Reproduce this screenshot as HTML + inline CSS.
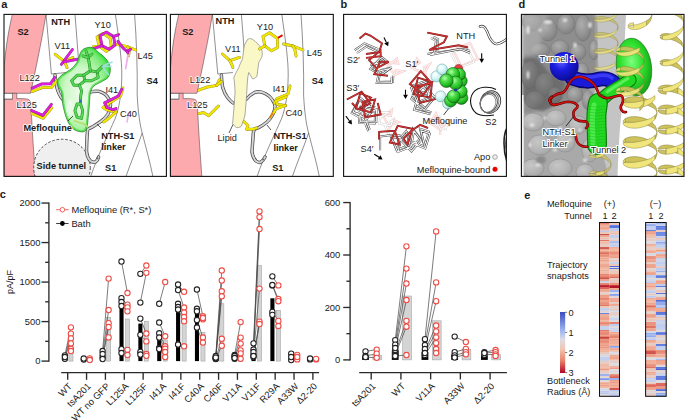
<!DOCTYPE html>
<html><head><meta charset="utf-8"><style>
html,body{margin:0;padding:0;background:#fff;width:685px;height:420px;overflow:hidden}
svg{display:block}
svg text{font-family:"Liberation Sans", sans-serif;fill:#1a1a1a}
</style></head><body>
<svg width="685" height="420" viewBox="0 0 685 420">
<rect width="685" height="420" fill="#fff"/>
<defs><clipPath id="ca1"><rect x="4" y="14.4" width="162.4" height="162"/></clipPath><clipPath id="ca2"><rect x="170.4" y="14.4" width="162.9" height="162"/></clipPath></defs>
<g clip-path="url(#ca1)">
<g transform="translate(0,0)">
<path d="M12.4 14.4 L46 14.4 C41 45, 35 72, 30.6 93.3 L4 93.3 L4 68 C6 45, 9 28, 12.4 14.4 Z" fill="#fdaaae" stroke="#333" stroke-width="0.5"/>
<path d="M4 99.2 L12.5 99.2 L12.5 93.3 L16.8 93.3 L16.8 98.6 C22 98.6, 27 98.6, 28.7 99.6 C30.6 100.8, 31 103, 31.1 106 C32 130, 34 155, 35.4 176.4 L4 176.4 Z" fill="#fdaaae" stroke="#333" stroke-width="0.5"/>
<path d="M4 93.3 L12.5 93.3 M4 99.2 L12.5 99.2" stroke="#555" stroke-width="0.5"/>
<path d="M46 14.4 L51.4 74 L66.5 72.5" fill="none" stroke="#333" stroke-width="0.55"/>
<path d="M75 14.4 L78.3 57" fill="none" stroke="#333" stroke-width="0.55"/>
<path d="M115.4 14.4 C119 40, 122 60, 121.8 76 C121.5 95, 119 108, 115.4 118 C108 135, 98 155, 90.7 176.4" fill="none" stroke="#333" stroke-width="0.55"/>
<path d="M134.6 14.4 C136.5 40, 137.6 70, 137.2 95 C138 112, 140 125, 142.2 133 C146 148, 150 162, 152.9 176.4" fill="none" stroke="#333" stroke-width="0.55"/>
<path d="M142.2 133 C137 148, 131 162, 126 176.4" fill="none" stroke="#333" stroke-width="0.55"/>
<circle cx="62" cy="167.5" r="28.3" fill="#efefef" stroke="#222" stroke-width="0.8" stroke-dasharray="2.6,1.8"/>
</g>
<g transform="translate(0,0)">
<path d="M55 75 C55.5 82, 57 92, 61.3 97.7 C63 100, 65 101.8, 67 103" fill="none" stroke="#4a4a4a" stroke-width="3.4" stroke-linecap="round" stroke-linejoin="round"/><path d="M55 75 C55.5 82, 57 92, 61.3 97.7 C63 100, 65 101.8, 67 103" fill="none" stroke="#d6d6d6" stroke-width="1.9" stroke-linecap="round" stroke-linejoin="round"/>
<path d="M80.2 99 C82.5 96, 85 93.5, 87.8 92.7 C91.5 91.5, 95.5 91, 99.1 91.4 C103 92.5, 106.5 95, 108 97.7 C110 100.5, 110.8 103, 110.5 105.3 C110.3 108.5, 109.3 111.5, 108 114.1 C106 117, 103 120, 100.4 121.7 C97.5 123.8, 95 125.5, 92.8 126.7 C90.8 127.8, 89 128.5, 87.8 129.2 C87 132, 86.8 140, 86.5 150.7 C86.8 155, 88 158.5, 90.3 160.7 C92 162.2, 94 162.5, 95.4 162 C97 161, 98 159.5, 98.6 157" fill="none" stroke="#4a4a4a" stroke-width="3.4" stroke-linecap="round" stroke-linejoin="round"/><path d="M80.2 99 C82.5 96, 85 93.5, 87.8 92.7 C91.5 91.5, 95.5 91, 99.1 91.4 C103 92.5, 106.5 95, 108 97.7 C110 100.5, 110.8 103, 110.5 105.3 C110.3 108.5, 109.3 111.5, 108 114.1 C106 117, 103 120, 100.4 121.7 C97.5 123.8, 95 125.5, 92.8 126.7 C90.8 127.8, 89 128.5, 87.8 129.2 C87 132, 86.8 140, 86.5 150.7 C86.8 155, 88 158.5, 90.3 160.7 C92 162.2, 94 162.5, 95.4 162 C97 161, 98 159.5, 98.6 157" fill="none" stroke="#d6d6d6" stroke-width="1.9" stroke-linecap="round" stroke-linejoin="round"/>
<circle cx="97.4" cy="158.3" r="1" fill="#666"/>
</g>
<g transform="translate(0,0)">
<polyline points="55.2,54.3 64.3,61.4 72.9,57.6" fill="none" stroke="#7a6f00" stroke-width="2.9000000000000004" stroke-linecap="round" stroke-linejoin="round" stroke-opacity="0.8"/><polyline points="55.2,54.3 64.3,61.4 72.9,57.6" fill="none" stroke="#f2e600" stroke-width="2.2" stroke-linecap="round" stroke-linejoin="round"/>
<polyline points="64.3,61.4 67.1,67.6" fill="none" stroke="#7a6f00" stroke-width="2.9000000000000004" stroke-linecap="round" stroke-linejoin="round" stroke-opacity="0.8"/><polyline points="64.3,61.4 67.1,67.6" fill="none" stroke="#f2e600" stroke-width="2.2" stroke-linecap="round" stroke-linejoin="round"/>
<polyline points="97.1,37.1 102.9,33.6 110.0,37.9 111.4,46.4 106.4,51.4 99.3,46.4 97.1,37.1" fill="none" stroke="#7a6f00" stroke-width="2.9000000000000004" stroke-linecap="round" stroke-linejoin="round" stroke-opacity="0.8"/><polyline points="97.1,37.1 102.9,33.6 110.0,37.9 111.4,46.4 106.4,51.4 99.3,46.4 97.1,37.1" fill="none" stroke="#f2e600" stroke-width="2.2" stroke-linecap="round" stroke-linejoin="round"/>
<polyline points="99.3,46.4 93.6,46.4" fill="none" stroke="#7a6f00" stroke-width="2.9000000000000004" stroke-linecap="round" stroke-linejoin="round" stroke-opacity="0.8"/><polyline points="99.3,46.4 93.6,46.4" fill="none" stroke="#f2e600" stroke-width="2.2" stroke-linecap="round" stroke-linejoin="round"/>
<polyline points="116.4,44.3 126.4,46.4 135.7,50.0" fill="none" stroke="#7a6f00" stroke-width="2.9000000000000004" stroke-linecap="round" stroke-linejoin="round" stroke-opacity="0.8"/><polyline points="116.4,44.3 126.4,46.4 135.7,50.0" fill="none" stroke="#f2e600" stroke-width="2.2" stroke-linecap="round" stroke-linejoin="round"/>
<polyline points="127.9,47.1 129.3,50.7 128.6,55.7" fill="none" stroke="#7a6f00" stroke-width="2.9000000000000004" stroke-linecap="round" stroke-linejoin="round" stroke-opacity="0.8"/><polyline points="127.9,47.1 129.3,50.7 128.6,55.7" fill="none" stroke="#f2e600" stroke-width="2.2" stroke-linecap="round" stroke-linejoin="round"/>
<polyline points="32.1,91.6 42.9,87.3 51.4,87.6 56.8,80.7" fill="none" stroke="#7a6f00" stroke-width="2.9000000000000004" stroke-linecap="round" stroke-linejoin="round" stroke-opacity="0.8"/><polyline points="32.1,91.6 42.9,87.3 51.4,87.6 56.8,80.7" fill="none" stroke="#f2e600" stroke-width="2.2" stroke-linecap="round" stroke-linejoin="round"/>
<polyline points="31.7,113.4 43.0,118.2 51.8,107.8" fill="none" stroke="#7a6f00" stroke-width="2.9000000000000004" stroke-linecap="round" stroke-linejoin="round" stroke-opacity="0.8"/><polyline points="31.7,113.4 43.0,118.2 51.8,107.8" fill="none" stroke="#f2e600" stroke-width="2.2" stroke-linecap="round" stroke-linejoin="round"/>
<polyline points="122.9,88.0 120.6,96.0 111.5,101.7 103.0,107.5 106.9,110.0 116.0,112.0" fill="none" stroke="#7a6f00" stroke-width="2.9000000000000004" stroke-linecap="round" stroke-linejoin="round" stroke-opacity="0.8"/><polyline points="122.9,88.0 120.6,96.0 111.5,101.7 103.0,107.5 106.9,110.0 116.0,112.0" fill="none" stroke="#f2e600" stroke-width="2.2" stroke-linecap="round" stroke-linejoin="round"/>
<polyline points="116.0,112.0 108.0,119.0 103.5,122.0" fill="none" stroke="#7a6f00" stroke-width="2.9000000000000004" stroke-linecap="round" stroke-linejoin="round" stroke-opacity="0.8"/><polyline points="116.0,112.0 108.0,119.0 103.5,122.0" fill="none" stroke="#f2e600" stroke-width="2.2" stroke-linecap="round" stroke-linejoin="round"/>
</g>
<line x1="127.9" y1="55" x2="125.7" y2="68.6" stroke="#eeb0ee" stroke-width="1.8" stroke-linecap="round"/>
<line x1="117.9" y1="35" x2="119" y2="34.3" stroke="#e00" stroke-width="2" stroke-linecap="round"/>
<line x1="128.5" y1="113" x2="127" y2="122" stroke="#eeb0ee" stroke-width="1.6" stroke-linecap="round"/>
<polyline points="72.4,49.5 61.4,64.3" fill="none" stroke="#6a0a6a" stroke-width="2.9000000000000004" stroke-linecap="round" stroke-linejoin="round" stroke-opacity="0.8"/><polyline points="72.4,49.5 61.4,64.3" fill="none" stroke="#e01ee0" stroke-width="2.2" stroke-linecap="round" stroke-linejoin="round"/>
<polyline points="64.3,61.9 78.6,59.0" fill="none" stroke="#6a0a6a" stroke-width="2.9000000000000004" stroke-linecap="round" stroke-linejoin="round" stroke-opacity="0.8"/><polyline points="64.3,61.9 78.6,59.0" fill="none" stroke="#e01ee0" stroke-width="2.2" stroke-linecap="round" stroke-linejoin="round"/>
<polyline points="100.0,35.7 106.4,32.1 113.6,36.4 115.0,45.0 109.3,49.3 102.1,45.7 100.0,35.7" fill="none" stroke="#6a0a6a" stroke-width="2.9000000000000004" stroke-linecap="round" stroke-linejoin="round" stroke-opacity="0.8"/><polyline points="100.0,35.7 106.4,32.1 113.6,36.4 115.0,45.0 109.3,49.3 102.1,45.7 100.0,35.7" fill="none" stroke="#e01ee0" stroke-width="2.2" stroke-linecap="round" stroke-linejoin="round"/>
<polyline points="102.1,45.7 93.6,48.6" fill="none" stroke="#6a0a6a" stroke-width="2.9000000000000004" stroke-linecap="round" stroke-linejoin="round" stroke-opacity="0.8"/><polyline points="102.1,45.7 93.6,48.6" fill="none" stroke="#e01ee0" stroke-width="2.2" stroke-linecap="round" stroke-linejoin="round"/>
<polyline points="113.6,36.4 117.9,35.0" fill="none" stroke="#6a0a6a" stroke-width="2.9000000000000004" stroke-linecap="round" stroke-linejoin="round" stroke-opacity="0.8"/><polyline points="113.6,36.4 117.9,35.0" fill="none" stroke="#e01ee0" stroke-width="2.2" stroke-linecap="round" stroke-linejoin="round"/>
<polyline points="117.9,41.4 120.7,45.0 123.6,48.6 127.1,51.4 130.7,49.3" fill="none" stroke="#6a0a6a" stroke-width="2.9000000000000004" stroke-linecap="round" stroke-linejoin="round" stroke-opacity="0.8"/><polyline points="117.9,41.4 120.7,45.0 123.6,48.6 127.1,51.4 130.7,49.3" fill="none" stroke="#e01ee0" stroke-width="2.2" stroke-linecap="round" stroke-linejoin="round"/>
<polyline points="127.1,51.4 127.9,52.9" fill="none" stroke="#6a0a6a" stroke-width="2.9000000000000004" stroke-linecap="round" stroke-linejoin="round" stroke-opacity="0.8"/><polyline points="127.1,51.4 127.9,52.9" fill="none" stroke="#e01ee0" stroke-width="2.2" stroke-linecap="round" stroke-linejoin="round"/>
<polyline points="32.1,88.2 41.8,83.9 50.4,83.9 54.6,77.5" fill="none" stroke="#6a0a6a" stroke-width="2.9000000000000004" stroke-linecap="round" stroke-linejoin="round" stroke-opacity="0.8"/><polyline points="32.1,88.2 41.8,83.9 50.4,83.9 54.6,77.5" fill="none" stroke="#e01ee0" stroke-width="2.2" stroke-linecap="round" stroke-linejoin="round"/>
<polyline points="31.7,110.5 42.9,115.3 51.4,104.4" fill="none" stroke="#6a0a6a" stroke-width="2.9000000000000004" stroke-linecap="round" stroke-linejoin="round" stroke-opacity="0.8"/><polyline points="31.7,110.5 42.9,115.3 51.4,104.4" fill="none" stroke="#e01ee0" stroke-width="2.2" stroke-linecap="round" stroke-linejoin="round"/>
<polyline points="121.8,89.2 118.3,96.0 109.2,100.6 104.6,102.9 106.9,107.5 112.6,109.7 116.0,108.6" fill="none" stroke="#6a0a6a" stroke-width="2.9000000000000004" stroke-linecap="round" stroke-linejoin="round" stroke-opacity="0.8"/><polyline points="121.8,89.2 118.3,96.0 109.2,100.6 104.6,102.9 106.9,107.5 112.6,109.7 116.0,108.6" fill="none" stroke="#e01ee0" stroke-width="2.2" stroke-linecap="round" stroke-linejoin="round"/>
<defs><radialGradient id="gb" cx="0.45" cy="0.55" r="0.62"><stop offset="0" stop-color="#effcec"/><stop offset="0.5" stop-color="#c9f7c3"/><stop offset="0.8" stop-color="#82ec7a"/><stop offset="1" stop-color="#3ade3a"/></radialGradient><clipPath id="gbc"><path d="M82.7 49.7 C84.2 48.4, 86.4 47.8, 88.2 47.5 C90.0 47.2, 91.9 47.3, 93.7 48.2 C95.5 49.1, 97.5 51.5, 99.3 53.0 C101.1 54.5, 103.1 55.6, 104.8 57.5 C106.5 59.4, 108.3 61.9, 109.2 64.1 C110.1 66.3, 110.5 68.6, 110.3 70.8 C110.1 73.0, 109.6 75.6, 108.1 77.4 C106.6 79.2, 103.9 80.3, 101.5 81.8 C99.1 83.3, 95.5 84.4, 93.7 86.3 C91.9 88.2, 91.1 89.6, 90.4 92.9 C89.7 96.2, 89.7 102.1, 89.3 106.2 C88.9 110.3, 88.6 113.8, 88.2 117.3 C87.8 120.8, 87.8 124.8, 87.1 127.2 C86.4 129.6, 85.6 131.1, 83.8 131.7 C82.0 132.3, 78.2 131.5, 76.0 130.6 C73.8 129.7, 72.2 128.3, 70.5 126.1 C68.8 123.9, 67.4 121.0, 66.1 117.3 C64.8 113.6, 63.5 108.1, 62.7 104.0 C62.0 99.9, 62.3 95.9, 61.6 92.9 C60.9 90.0, 59.0 88.3, 58.3 86.3 C57.6 84.3, 56.7 82.5, 57.2 80.7 C57.8 78.9, 59.2 77.2, 61.6 75.2 C64.0 73.2, 69.0 70.8, 71.6 68.6 C74.2 66.4, 75.8 64.1, 77.1 61.9 C78.4 59.7, 78.5 57.3, 79.4 55.3 C80.3 53.3, 81.2 51.0, 82.7 49.7 Z"/></clipPath></defs>
<path d="M82.7 49.7 C84.2 48.4, 86.4 47.8, 88.2 47.5 C90.0 47.2, 91.9 47.3, 93.7 48.2 C95.5 49.1, 97.5 51.5, 99.3 53.0 C101.1 54.5, 103.1 55.6, 104.8 57.5 C106.5 59.4, 108.3 61.9, 109.2 64.1 C110.1 66.3, 110.5 68.6, 110.3 70.8 C110.1 73.0, 109.6 75.6, 108.1 77.4 C106.6 79.2, 103.9 80.3, 101.5 81.8 C99.1 83.3, 95.5 84.4, 93.7 86.3 C91.9 88.2, 91.1 89.6, 90.4 92.9 C89.7 96.2, 89.7 102.1, 89.3 106.2 C88.9 110.3, 88.6 113.8, 88.2 117.3 C87.8 120.8, 87.8 124.8, 87.1 127.2 C86.4 129.6, 85.6 131.1, 83.8 131.7 C82.0 132.3, 78.2 131.5, 76.0 130.6 C73.8 129.7, 72.2 128.3, 70.5 126.1 C68.8 123.9, 67.4 121.0, 66.1 117.3 C64.8 113.6, 63.5 108.1, 62.7 104.0 C62.0 99.9, 62.3 95.9, 61.6 92.9 C60.9 90.0, 59.0 88.3, 58.3 86.3 C57.6 84.3, 56.7 82.5, 57.2 80.7 C57.8 78.9, 59.2 77.2, 61.6 75.2 C64.0 73.2, 69.0 70.8, 71.6 68.6 C74.2 66.4, 75.8 64.1, 77.1 61.9 C78.4 59.7, 78.5 57.3, 79.4 55.3 C80.3 53.3, 81.2 51.0, 82.7 49.7 Z" fill="url(#gb)" fill-opacity="0.95"/>
<g clip-path="url(#gbc)"><path d="M82.7 49.7 C84.2 48.4, 86.4 47.8, 88.2 47.5 C90.0 47.2, 91.9 47.3, 93.7 48.2 C95.5 49.1, 97.5 51.5, 99.3 53.0 C101.1 54.5, 103.1 55.6, 104.8 57.5 C106.5 59.4, 108.3 61.9, 109.2 64.1 C110.1 66.3, 110.5 68.6, 110.3 70.8 C110.1 73.0, 109.6 75.6, 108.1 77.4 C106.6 79.2, 103.9 80.3, 101.5 81.8 C99.1 83.3, 95.5 84.4, 93.7 86.3 C91.9 88.2, 91.1 89.6, 90.4 92.9 C89.7 96.2, 89.7 102.1, 89.3 106.2 C88.9 110.3, 88.6 113.8, 88.2 117.3 C87.8 120.8, 87.8 124.8, 87.1 127.2 C86.4 129.6, 85.6 131.1, 83.8 131.7 C82.0 132.3, 78.2 131.5, 76.0 130.6 C73.8 129.7, 72.2 128.3, 70.5 126.1 C68.8 123.9, 67.4 121.0, 66.1 117.3 C64.8 113.6, 63.5 108.1, 62.7 104.0 C62.0 99.9, 62.3 95.9, 61.6 92.9 C60.9 90.0, 59.0 88.3, 58.3 86.3 C57.6 84.3, 56.7 82.5, 57.2 80.7 C57.8 78.9, 59.2 77.2, 61.6 75.2 C64.0 73.2, 69.0 70.8, 71.6 68.6 C74.2 66.4, 75.8 64.1, 77.1 61.9 C78.4 59.7, 78.5 57.3, 79.4 55.3 C80.3 53.3, 81.2 51.0, 82.7 49.7 Z" fill="none" stroke="#34dc34" stroke-width="3.6" stroke-opacity="0.7"/></g>
<ellipse cx="70" cy="108" rx="4" ry="9" fill="#fff" opacity="0.55" filter="url(#bl2)"/>
<path d="M82.7 49.7 C84.2 48.4, 86.4 47.8, 88.2 47.5 C90.0 47.2, 91.9 47.3, 93.7 48.2 C95.5 49.1, 97.5 51.5, 99.3 53.0 C101.1 54.5, 103.1 55.6, 104.8 57.5 C106.5 59.4, 108.3 61.9, 109.2 64.1 C110.1 66.3, 110.5 68.6, 110.3 70.8 C110.1 73.0, 109.6 75.6, 108.1 77.4 C106.6 79.2, 103.9 80.3, 101.5 81.8 C99.1 83.3, 95.5 84.4, 93.7 86.3 C91.9 88.2, 91.1 89.6, 90.4 92.9 C89.7 96.2, 89.7 102.1, 89.3 106.2 C88.9 110.3, 88.6 113.8, 88.2 117.3 C87.8 120.8, 87.8 124.8, 87.1 127.2 C86.4 129.6, 85.6 131.1, 83.8 131.7 C82.0 132.3, 78.2 131.5, 76.0 130.6 C73.8 129.7, 72.2 128.3, 70.5 126.1 C68.8 123.9, 67.4 121.0, 66.1 117.3 C64.8 113.6, 63.5 108.1, 62.7 104.0 C62.0 99.9, 62.3 95.9, 61.6 92.9 C60.9 90.0, 59.0 88.3, 58.3 86.3 C57.6 84.3, 56.7 82.5, 57.2 80.7 C57.8 78.9, 59.2 77.2, 61.6 75.2 C64.0 73.2, 69.0 70.8, 71.6 68.6 C74.2 66.4, 75.8 64.1, 77.1 61.9 C78.4 59.7, 78.5 57.3, 79.4 55.3 C80.3 53.3, 81.2 51.0, 82.7 49.7 Z" fill="none" stroke="#1f6e1f" stroke-width="0.6"/>
<polyline points="71.6,80.7 77.1,75.2 83.8,75.2 84.9,80.7 79.4,85.2 73.8,85.2 71.6,80.7" fill="none" stroke="#2a8a2a" stroke-width="2.9" stroke-linejoin="round" stroke-linecap="round"/>
<polyline points="71.6,80.7 77.1,75.2 83.8,75.2 84.9,80.7 79.4,85.2 73.8,85.2 71.6,80.7" fill="none" stroke="#52d852" stroke-width="1.9" stroke-linejoin="round" stroke-linecap="round"/>
<polyline points="83.8,75.2 90.4,70.8 97.1,71.9 98.2,77.4 91.5,80.7 84.9,80.7" fill="none" stroke="#2a8a2a" stroke-width="2.9" stroke-linejoin="round" stroke-linecap="round"/>
<polyline points="83.8,75.2 90.4,70.8 97.1,71.9 98.2,77.4 91.5,80.7 84.9,80.7" fill="none" stroke="#52d852" stroke-width="1.9" stroke-linejoin="round" stroke-linecap="round"/>
<polyline points="90.4,70.8 89.0,62.0 88.2,57.5" fill="none" stroke="#2a8a2a" stroke-width="2.9" stroke-linejoin="round" stroke-linecap="round"/>
<polyline points="90.4,70.8 89.0,62.0 88.2,57.5" fill="none" stroke="#52d852" stroke-width="1.9" stroke-linejoin="round" stroke-linecap="round"/>
<polyline points="88.2,57.5 86.0,51.0" fill="none" stroke="#2a8a2a" stroke-width="2.9" stroke-linejoin="round" stroke-linecap="round"/>
<polyline points="88.2,57.5 86.0,51.0" fill="none" stroke="#52d852" stroke-width="1.9" stroke-linejoin="round" stroke-linecap="round"/>
<polyline points="88.2,57.5 92.0,54.0" fill="none" stroke="#2a8a2a" stroke-width="2.9" stroke-linejoin="round" stroke-linecap="round"/>
<polyline points="88.2,57.5 92.0,54.0" fill="none" stroke="#52d852" stroke-width="1.9" stroke-linejoin="round" stroke-linecap="round"/>
<polyline points="88.2,57.5 83.0,56.0" fill="none" stroke="#2a8a2a" stroke-width="2.9" stroke-linejoin="round" stroke-linecap="round"/>
<polyline points="88.2,57.5 83.0,56.0" fill="none" stroke="#52d852" stroke-width="1.9" stroke-linejoin="round" stroke-linecap="round"/>
<polyline points="97.1,71.9 102.6,66.4" fill="none" stroke="#2a8a2a" stroke-width="2.9" stroke-linejoin="round" stroke-linecap="round"/>
<polyline points="97.1,71.9 102.6,66.4" fill="none" stroke="#52d852" stroke-width="1.9" stroke-linejoin="round" stroke-linecap="round"/>
<polyline points="79.4,85.2 81.6,90.7 80.5,97.3 80.5,102.0" fill="none" stroke="#2a8a2a" stroke-width="2.9" stroke-linejoin="round" stroke-linecap="round"/>
<polyline points="79.4,85.2 81.6,90.7 80.5,97.3 80.5,102.0" fill="none" stroke="#52d852" stroke-width="1.9" stroke-linejoin="round" stroke-linecap="round"/>
<polyline points="80.5,104.0 77.1,104.0 74.9,110.6 77.1,117.3 81.6,118.4 82.7,110.6 80.5,104.0" fill="none" stroke="#2a8a2a" stroke-width="2.9" stroke-linejoin="round" stroke-linecap="round"/>
<polyline points="80.5,104.0 77.1,104.0 74.9,110.6 77.1,117.3 81.6,118.4 82.7,110.6 80.5,104.0" fill="none" stroke="#52d852" stroke-width="1.9" stroke-linejoin="round" stroke-linecap="round"/>
<rect x="79.3" y="99.5" width="2.4" height="3.2" fill="#3a6fb0"/>
<polyline points="102.6,66.4 107,64 112.6,62" fill="none" stroke="#9fdede" stroke-width="1.7"/>
<polyline points="102.6,66.4 111.5,66.4" fill="none" stroke="#9fdede" stroke-width="1.7"/>
<polyline points="102.6,66.4 106,72 109,75" fill="none" stroke="#9fdede" stroke-width="1.7"/>
<polyline points="73.8,120.6 83.8,123.9 88.2,127.2" fill="none" stroke="#b8e070" stroke-width="1.8"/>
</g>
<g clip-path="url(#ca2)">
<g transform="translate(166.4,0)">
<path d="M12.4 14.4 L46 14.4 C41 45, 35 72, 30.6 93.3 L4 93.3 L4 68 C6 45, 9 28, 12.4 14.4 Z" fill="#fdaaae" stroke="#333" stroke-width="0.5"/>
<path d="M4 99.2 L12.5 99.2 L12.5 93.3 L16.8 93.3 L16.8 98.6 C22 98.6, 27 98.6, 28.7 99.6 C30.6 100.8, 31 103, 31.1 106 C32 130, 34 155, 35.4 176.4 L4 176.4 Z" fill="#fdaaae" stroke="#333" stroke-width="0.5"/>
<path d="M4 93.3 L12.5 93.3 M4 99.2 L12.5 99.2" stroke="#555" stroke-width="0.5"/>
<path d="M46 14.4 L51.4 74 L66.5 72.5" fill="none" stroke="#333" stroke-width="0.55"/>
<path d="M75 14.4 L78.3 57" fill="none" stroke="#333" stroke-width="0.55"/>
<path d="M115.4 14.4 C119 40, 122 60, 121.8 76 C121.5 95, 119 108, 115.4 118 C108 135, 98 155, 90.7 176.4" fill="none" stroke="#333" stroke-width="0.55"/>
<path d="M134.6 14.4 C136.5 40, 137.6 70, 137.2 95 C138 112, 140 125, 142.2 133 C146 148, 150 162, 152.9 176.4" fill="none" stroke="#333" stroke-width="0.55"/>
<path d="M142.2 133 C137 148, 131 162, 126 176.4" fill="none" stroke="#333" stroke-width="0.55"/>
</g>
<path d="M221.4 75 C221.5 80, 222 84, 222.7 87.6 C224 92, 225.5 95, 227.7 97.7 C229.5 100, 231 101.5, 233 103" fill="none" stroke="#4a4a4a" stroke-width="3.4" stroke-linecap="round" stroke-linejoin="round"/><path d="M221.4 75 C221.5 80, 222 84, 222.7 87.6 C224 92, 225.5 95, 227.7 97.7 C229.5 100, 231 101.5, 233 103" fill="none" stroke="#d6d6d6" stroke-width="1.9" stroke-linecap="round" stroke-linejoin="round"/>
<path d="M246.6 99 C249 96, 251.5 94, 254.2 92.7 C258 91, 262 91.5, 266 94 C269 95.5, 271 97.5, 272.5 100 C274.5 103, 275.3 105, 275 107 C274.8 110, 274 112, 273 114 C271 117.5, 269.5 120, 267 122 C264 124.5, 261 126.5, 258 128 C256.5 128.6, 255 129, 254 129.5 C253.3 132, 253 135, 253 138 C252.6 143, 252.2 148, 252 152 C252.5 156, 254 159, 256 161 C258 162.5, 260 162.6, 261 162 C262.8 161, 264 159, 265 157" fill="none" stroke="#4a4a4a" stroke-width="3.4" stroke-linecap="round" stroke-linejoin="round"/><path d="M246.6 99 C249 96, 251.5 94, 254.2 92.7 C258 91, 262 91.5, 266 94 C269 95.5, 271 97.5, 272.5 100 C274.5 103, 275.3 105, 275 107 C274.8 110, 274 112, 273 114 C271 117.5, 269.5 120, 267 122 C264 124.5, 261 126.5, 258 128 C256.5 128.6, 255 129, 254 129.5 C253.3 132, 253 135, 253 138 C252.6 143, 252.2 148, 252 152 C252.5 156, 254 159, 256 161 C258 162.5, 260 162.6, 261 162 C262.8 161, 264 159, 265 157" fill="none" stroke="#d6d6d6" stroke-width="1.9" stroke-linecap="round" stroke-linejoin="round"/>
<circle cx="263.2" cy="159.5" r="1" fill="#666"/>
<path d="M247.5 39.5 C249 38.5, 250 38.5, 251.3 38.8 C253 39.5, 255 41, 256.3 42.5 C258.5 44.5, 260.5 46.5, 261.3 48.8 C262.5 51.5, 262.5 54, 262 56.3 C261 59, 259.5 61, 258.8 62.5 C258 67, 257.5 72, 257 76.3 C255.5 78, 253.5 79, 252.5 78.8 C251 76, 249.5 74, 248.8 72.5 C248 75, 247.8 77.5, 247.5 80 C247 87, 246.7 94, 246.3 100 C245.8 105, 245.4 110, 245 115 C244 119, 243 123, 241.3 126.3 C239.5 127.5, 238 127.8, 236.3 127.5 C235 126.5, 233.5 125, 232.5 123.8 C233 119, 233.5 114, 233.8 110 C234.3 104, 234.7 98, 235 92.5 C235 87, 234.5 82, 233.8 77.5 C235.5 74, 237 70.5, 238.8 67.5 C240 64, 241.5 61, 242.5 58.8 C243 55, 243.5 52, 243.8 48.8 C244 47.5, 244.3 46, 244.5 45 C245.5 43, 246.5 41, 247.5 39.5 Z" fill="#fbf8c8" stroke="#666" stroke-width="0.55"/>
<polyline points="222.4,54.0 230.0,60.7 239.5,57.4" fill="none" stroke="#7a6f00" stroke-width="2.9000000000000004" stroke-linecap="round" stroke-linejoin="round" stroke-opacity="0.8"/><polyline points="222.4,54.0 230.0,60.7 239.5,57.4" fill="none" stroke="#f2e600" stroke-width="2.2" stroke-linecap="round" stroke-linejoin="round"/>
<polyline points="230.0,60.7 232.9,67.3" fill="none" stroke="#7a6f00" stroke-width="2.9000000000000004" stroke-linecap="round" stroke-linejoin="round" stroke-opacity="0.8"/><polyline points="230.0,60.7 232.9,67.3" fill="none" stroke="#f2e600" stroke-width="2.2" stroke-linecap="round" stroke-linejoin="round"/>
<polyline points="263.0,36.5 269.5,32.8 277.5,38.5 277.5,47.5 271.5,50.8 264.8,45.8 263.0,36.5" fill="none" stroke="#7a6f00" stroke-width="2.9000000000000004" stroke-linecap="round" stroke-linejoin="round" stroke-opacity="0.8"/><polyline points="263.0,36.5 269.5,32.8 277.5,38.5 277.5,47.5 271.5,50.8 264.8,45.8 263.0,36.5" fill="none" stroke="#f2e600" stroke-width="2.2" stroke-linecap="round" stroke-linejoin="round"/>
<polyline points="264.8,45.8 259.5,49.0" fill="none" stroke="#7a6f00" stroke-width="2.9000000000000004" stroke-linecap="round" stroke-linejoin="round" stroke-opacity="0.8"/><polyline points="264.8,45.8 259.5,49.0" fill="none" stroke="#f2e600" stroke-width="2.2" stroke-linecap="round" stroke-linejoin="round"/>
<polyline points="283.6,44.0 293.0,46.0 303.0,50.0" fill="none" stroke="#7a6f00" stroke-width="2.9000000000000004" stroke-linecap="round" stroke-linejoin="round" stroke-opacity="0.8"/><polyline points="283.6,44.0 293.0,46.0 303.0,50.0" fill="none" stroke="#f2e600" stroke-width="2.2" stroke-linecap="round" stroke-linejoin="round"/>
<polyline points="293.0,46.0 295.0,50.0 296.0,56.0" fill="none" stroke="#7a6f00" stroke-width="2.9000000000000004" stroke-linecap="round" stroke-linejoin="round" stroke-opacity="0.8"/><polyline points="293.0,46.0 295.0,50.0 296.0,56.0" fill="none" stroke="#f2e600" stroke-width="2.2" stroke-linecap="round" stroke-linejoin="round"/>
<polyline points="198.6,90.2 206.2,87.3 216.7,85.4 219.5,79.7" fill="none" stroke="#7a6f00" stroke-width="2.9000000000000004" stroke-linecap="round" stroke-linejoin="round" stroke-opacity="0.8"/><polyline points="198.6,90.2 206.2,87.3 216.7,85.4 219.5,79.7" fill="none" stroke="#f2e600" stroke-width="2.2" stroke-linecap="round" stroke-linejoin="round"/>
<polyline points="216.7,85.4 221.4,81.6" fill="none" stroke="#7a6f00" stroke-width="2.9000000000000004" stroke-linecap="round" stroke-linejoin="round" stroke-opacity="0.8"/><polyline points="216.7,85.4 221.4,81.6" fill="none" stroke="#f2e600" stroke-width="2.2" stroke-linecap="round" stroke-linejoin="round"/>
<polyline points="199.1,113.6 203.4,112.5 208.7,115.7 218.4,106.1" fill="none" stroke="#7a6f00" stroke-width="2.9000000000000004" stroke-linecap="round" stroke-linejoin="round" stroke-opacity="0.8"/><polyline points="199.1,113.6 203.4,112.5 208.7,115.7 218.4,106.1" fill="none" stroke="#f2e600" stroke-width="2.2" stroke-linecap="round" stroke-linejoin="round"/>
<polyline points="290.0,86.0 288.0,94.0 277.0,98.5 274.5,103.0" fill="none" stroke="#7a6f00" stroke-width="2.9000000000000004" stroke-linecap="round" stroke-linejoin="round" stroke-opacity="0.8"/><polyline points="290.0,86.0 288.0,94.0 277.0,98.5 274.5,103.0" fill="none" stroke="#f2e600" stroke-width="2.2" stroke-linecap="round" stroke-linejoin="round"/>
<polyline points="286.0,97.0 276.0,101.0 277.5,104.5 285.5,105.5" fill="none" stroke="#7a6f00" stroke-width="2.9000000000000004" stroke-linecap="round" stroke-linejoin="round" stroke-opacity="0.8"/><polyline points="286.0,97.0 276.0,101.0 277.5,104.5 285.5,105.5" fill="none" stroke="#f2e600" stroke-width="2.2" stroke-linecap="round" stroke-linejoin="round"/>
<polyline points="285.5,105.5 276.0,109.0 273.5,113.0" fill="none" stroke="#7a6f00" stroke-width="2.9000000000000004" stroke-linecap="round" stroke-linejoin="round" stroke-opacity="0.8"/><polyline points="285.5,105.5 276.0,109.0 273.5,113.0" fill="none" stroke="#f2e600" stroke-width="2.2" stroke-linecap="round" stroke-linejoin="round"/>
<polyline points="244.0,121.7 247.9,125.5 246.6,129.2 252.9,129.2 256.7,128.0" fill="none" stroke="#7a6f00" stroke-width="2.9000000000000004" stroke-linecap="round" stroke-linejoin="round" stroke-opacity="0.8"/><polyline points="244.0,121.7 247.9,125.5 246.6,129.2 252.9,129.2 256.7,128.0" fill="none" stroke="#f2e600" stroke-width="2.2" stroke-linecap="round" stroke-linejoin="round"/>
<line x1="272.5" y1="113.5" x2="270" y2="117.5" stroke="#e88a00" stroke-width="2" stroke-linecap="round"/>
<line x1="278.5" y1="37.5" x2="281.8" y2="35.6" stroke="#e00" stroke-width="2" stroke-linecap="round"/>
</g>
<text x="17.4" y="34.6" font-size="9.2" font-weight="bold">S2</text>
<text x="51.2" y="24.6" font-size="9.2" font-weight="bold">NTH</text>
<text x="54.4" y="49" font-size="9.2">V11</text>
<text x="94.4" y="28.2" font-size="9.2">Y10</text>
<text x="137.6" y="58.9" font-size="9.2">L45</text>
<text x="146.6" y="83.9" font-size="9.2" font-weight="bold">S4</text>
<text x="19.4" y="81.4" font-size="9.2" stroke="#fff" stroke-width="1.6" stroke-linejoin="round" paint-order="stroke">L122</text>
<text x="16.4" y="107.6" font-size="9.2" stroke="#fff" stroke-width="1.6" stroke-linejoin="round" paint-order="stroke">L125</text>
<text x="105.4" y="92.5" font-size="9.2">I41</text>
<text x="120" y="116.8" font-size="9.2">C40</text>
<text x="101.2" y="138.9" font-size="9.2" font-weight="bold">NTH-S1</text>
<text x="101.2" y="150.4" font-size="9.2" font-weight="bold">linker</text>
<text x="105.1" y="171" font-size="9.2" font-weight="bold">S1</text>
<text x="23.4" y="130.6" font-size="9.2" font-weight="bold" stroke="#fff" stroke-width="1.6" stroke-linejoin="round" paint-order="stroke">Mefloquine</text>
<text x="36.6" y="169.3" font-size="9.2" font-weight="bold">Side tunnel</text>
<text x="182.2" y="35.1" font-size="9.2" font-weight="bold">S2</text>
<text x="215.5" y="23.8" font-size="9.2" font-weight="bold">NTH</text>
<text x="225" y="51.7" font-size="9.2">V11</text>
<text x="256.8" y="30" font-size="9.2">Y10</text>
<text x="306.8" y="56" font-size="9.2">L45</text>
<text x="311.8" y="84" font-size="9.2" font-weight="bold">S4</text>
<text x="189.8" y="83" font-size="9.2" stroke="#fff" stroke-width="1.6" stroke-linejoin="round" paint-order="stroke">L122</text>
<text x="187.1" y="108.2" font-size="9.2" stroke="#fff" stroke-width="1.6" stroke-linejoin="round" paint-order="stroke">L125</text>
<text x="272.8" y="92.4" font-size="9.2">I41</text>
<text x="285.4" y="116.4" font-size="9.2">C40</text>
<text x="273.4" y="139.4" font-size="9.2" font-weight="bold">NTH-S1</text>
<text x="273.4" y="151" font-size="9.2" font-weight="bold">linker</text>
<text x="272.2" y="171" font-size="9.2" font-weight="bold">S1</text>
<text x="217.5" y="140.6" font-size="9.2">Lipid</text>
<line x1="68" y1="121" x2="73" y2="116" stroke="#111" stroke-width="0.7"/>
<line x1="101" y1="128" x2="97" y2="124" stroke="#111" stroke-width="0.7"/>
<line x1="271" y1="130" x2="267" y2="125" stroke="#111" stroke-width="0.7"/>
<line x1="229" y1="133" x2="233" y2="124.5" stroke="#111" stroke-width="0.7"/>
<defs><clipPath id="cb1"><rect x="343.6" y="14.4" width="162.8" height="162"/></clipPath><radialGradient id="sg" cx="0.38" cy="0.32" r="0.7"><stop offset="0" stop-color="#b8ffb0"/><stop offset="0.35" stop-color="#4fe04a"/><stop offset="0.8" stop-color="#1fb51f"/><stop offset="1" stop-color="#137a13"/></radialGradient><radialGradient id="sc" cx="0.38" cy="0.32" r="0.7"><stop offset="0" stop-color="#ffffff"/><stop offset="0.5" stop-color="#d9f7f7"/><stop offset="1" stop-color="#a9dede"/></radialGradient></defs>
<g clip-path="url(#cb1)">
<polyline points="386.9,62.3 398.3,63.4 396.9,58.6 388.0,65.8 394.6,74.8 403.2,71.2 395.6,70.1 391.7,80.9" fill="none" stroke="#e99" stroke-width="2.2" stroke-opacity="0.55"/><polyline points="386.9,62.3 398.3,63.4 396.9,58.6 388.0,65.8 394.6,74.8 403.2,71.2 395.6,70.1 391.7,80.9" fill="none" stroke="#fff" stroke-width="1.1" stroke-opacity="0.7"/>
<polyline points="379.4,114.1 390.9,115.7 391.9,109.9 383.4,116.4 388.7,126.0 398.7,122.2 393.3,120.0 388.5,130.6" fill="none" stroke="#e99" stroke-width="2.2" stroke-opacity="0.55"/><polyline points="379.4,114.1 390.9,115.7 391.9,109.9 383.4,116.4 388.7,126.0 398.7,122.2 393.3,120.0 388.5,130.6" fill="none" stroke="#fff" stroke-width="1.1" stroke-opacity="0.7"/>
<polyline points="379.6,117.7 388.2,112.4 381.6,112.2 379.3,123.6 390.7,125.9 393.0,119.7 384.9,125.6 389.4,135.8" fill="none" stroke="#bbb" stroke-width="2.2" stroke-opacity="0.6"/><polyline points="379.6,117.7 388.2,112.4 381.6,112.2 379.3,123.6 390.7,125.9 393.0,119.7 384.9,125.6 389.4,135.8" fill="none" stroke="#fff" stroke-width="1.1"/>
<polyline points="410.3,68.6 420.0,62.4 417.0,58.6 414.4,69.4 424.3,72.8 429.5,64.2 423.8,67.2 426.6,78.1" fill="none" stroke="#e99" stroke-width="2.2" stroke-opacity="0.55"/><polyline points="410.3,68.6 420.0,62.4 417.0,58.6 414.4,69.4 424.3,72.8 429.5,64.2 423.8,67.2 426.6,78.1" fill="none" stroke="#fff" stroke-width="1.1" stroke-opacity="0.7"/>
<polyline points="426.5,120.8 437.6,117.7 435.9,113.3 430.4,123.0 439.1,129.0 446.6,122.2 440.3,123.6 440.1,134.9" fill="none" stroke="#e99" stroke-width="2.2" stroke-opacity="0.55"/><polyline points="426.5,120.8 437.6,117.7 435.9,113.3 430.4,123.0 439.1,129.0 446.6,122.2 440.3,123.6 440.1,134.9" fill="none" stroke="#fff" stroke-width="1.1" stroke-opacity="0.7"/>
<polyline points="438.2,122.9 440.3,116.0 435.9,121.6 441.1,129.7 449.6,124.4 447.3,121.3 445.5,130.8" fill="none" stroke="#bbb" stroke-width="2.2" stroke-opacity="0.6"/><polyline points="438.2,122.9 440.3,116.0 435.9,121.6 441.1,129.7 449.6,124.4 447.3,121.3 445.5,130.8" fill="none" stroke="#fff" stroke-width="1.1"/>
<polyline points="453.0,50.0 470.0,43.0 478.0,59.0 461.0,66.0 453.0,50.0 468.0,47.0" fill="none" stroke="#e99" stroke-width="2.2" stroke-opacity="0.55"/><polyline points="453.0,50.0 470.0,43.0 478.0,59.0 461.0,66.0 453.0,50.0 468.0,47.0" fill="none" stroke="#fff" stroke-width="1.1" stroke-opacity="0.7"/>
<polyline points="451.0,53.0 467.0,47.0 474.0,62.0 458.0,68.0 451.0,53.0" fill="none" stroke="#bbb" stroke-width="2.2" stroke-opacity="0.6"/><polyline points="451.0,53.0 467.0,47.0 474.0,62.0 458.0,68.0 451.0,53.0" fill="none" stroke="#fff" stroke-width="1.1"/>
<polyline points="354.7,50.1 364.5,43.3 378.2,49.2" fill="none" stroke="#444" stroke-width="2.0" stroke-linejoin="miter" stroke-miterlimit="3"/><polyline points="354.7,50.1 364.5,43.3 378.2,49.2" fill="none" stroke="#fafafa" stroke-width="1.05" stroke-linejoin="miter" stroke-miterlimit="3"/>
<polyline points="357.0,53.0 366.5,46.5 378.0,52.0" fill="none" stroke="#444" stroke-width="2.0" stroke-linejoin="miter" stroke-miterlimit="3"/><polyline points="357.0,53.0 366.5,46.5 378.0,52.0" fill="none" stroke="#fafafa" stroke-width="1.05" stroke-linejoin="miter" stroke-miterlimit="3"/>
<polyline points="371.8,64.1 386.2,60.7 381.9,57.2 371.8,68.1 382.5,74.0 391.7,67.4 380.7,70.0 378.2,82.0 393.0,81.5 393.2,75.9" fill="none" stroke="#444" stroke-width="2.0" stroke-linejoin="miter" stroke-miterlimit="3"/><polyline points="371.8,64.1 386.2,60.7 381.9,57.2 371.8,68.1 382.5,74.0 391.7,67.4 380.7,70.0 378.2,82.0 393.0,81.5 393.2,75.9" fill="none" stroke="#fafafa" stroke-width="1.05" stroke-linejoin="miter" stroke-miterlimit="3"/>
<polyline points="370.3,65.1 384.7,61.7 380.4,58.2 370.3,69.1 381.0,75.0 390.2,68.4 379.2,71.0 376.7,83.0 391.5,82.5 391.7,76.9" fill="none" stroke="#444" stroke-width="2.0" stroke-linejoin="miter" stroke-miterlimit="3"/><polyline points="370.3,65.1 384.7,61.7 380.4,58.2 370.3,69.1 381.0,75.0 390.2,68.4 379.2,71.0 376.7,83.0 391.5,82.5 391.7,76.9" fill="none" stroke="#fafafa" stroke-width="1.05" stroke-linejoin="miter" stroke-miterlimit="3"/>
<polyline points="359.6,38.4 365.5,33.5 370.3,35.5 382.0,43.3 379.1,52.1 366.0,54.0" fill="none" stroke="#7a1a1a" stroke-width="1.9" stroke-linejoin="miter" stroke-miterlimit="3"/><polyline points="359.6,38.4 365.5,33.5 370.3,35.5 382.0,43.3 379.1,52.1 366.0,54.0" fill="none" stroke="#cf3434" stroke-width="1.1" stroke-linejoin="miter" stroke-miterlimit="3"/>
<polyline points="366.0,57.9 380.7,56.2 380.5,50.6 369.1,60.1 376.5,68.3 388.6,61.8 380.2,61.7 374.3,74.1 387.9,75.7" fill="none" stroke="#7a1a1a" stroke-width="1.9" stroke-linejoin="miter" stroke-miterlimit="3"/><polyline points="366.0,57.9 380.7,56.2 380.5,50.6 369.1,60.1 376.5,68.3 388.6,61.8 380.2,61.7 374.3,74.1 387.9,75.7" fill="none" stroke="#cf3434" stroke-width="1.1" stroke-linejoin="miter" stroke-miterlimit="3"/>
<polyline points="355.4,115.5 367.9,106.9 359.0,99.6 351.7,113.2 365.4,120.5 372.5,108.4 360.1,107.3 359.1,122.9 374.8,123.5 375.0,110.9 362.4,116.7 368.3,131.1" fill="none" stroke="#444" stroke-width="2.0" stroke-linejoin="miter" stroke-miterlimit="3"/><polyline points="355.4,115.5 367.9,106.9 359.0,99.6 351.7,113.2 365.4,120.5 372.5,108.4 360.1,107.3 359.1,122.9 374.8,123.5 375.0,110.9 362.4,116.7 368.3,131.1" fill="none" stroke="#fafafa" stroke-width="1.05" stroke-linejoin="miter" stroke-miterlimit="3"/>
<polyline points="356.9,114.0 369.4,105.4 360.5,98.1 353.2,111.7 366.9,119.0 374.0,106.9 361.6,105.8 360.6,121.4 376.3,122.0 376.5,109.4 363.9,115.2 369.8,129.6" fill="none" stroke="#444" stroke-width="2.0" stroke-linejoin="miter" stroke-miterlimit="3"/><polyline points="356.9,114.0 369.4,105.4 360.5,98.1 353.2,111.7 366.9,119.0 374.0,106.9 361.6,105.8 360.6,121.4 376.3,122.0 376.5,109.4 363.9,115.2 369.8,129.6" fill="none" stroke="#fafafa" stroke-width="1.05" stroke-linejoin="miter" stroke-miterlimit="3"/>
<polyline points="346.9,99.5 361.6,91.7 370.3,103.4 357.6,109.3 352.0,103.0" fill="none" stroke="#7a1a1a" stroke-width="1.9" stroke-linejoin="miter" stroke-miterlimit="3"/><polyline points="346.9,99.5 361.6,91.7 370.3,103.4 357.6,109.3 352.0,103.0" fill="none" stroke="#cf3434" stroke-width="1.1" stroke-linejoin="miter" stroke-miterlimit="3"/>
<polyline points="360.7,108.4 370.9,97.6 360.2,93.2 356.1,108.3 371.3,112.3 375.1,99.5 362.5,101.8 365.2,117.3 380.7,114.4 377.7,102.9" fill="none" stroke="#7a1a1a" stroke-width="1.9" stroke-linejoin="miter" stroke-miterlimit="3"/><polyline points="360.7,108.4 370.9,97.6 360.2,93.2 356.1,108.3 371.3,112.3 375.1,99.5 362.5,101.8 365.2,117.3 380.7,114.4 377.7,102.9" fill="none" stroke="#cf3434" stroke-width="1.1" stroke-linejoin="miter" stroke-miterlimit="3"/>
<polyline points="397.3,150.8 399.3,135.4 390.7,135.9 396.6,150.0 409.5,145.0 406.2,131.0 399.8,138.3 410.5,149.4 420.0,138.3 412.9,128.8 410.8,141.1 424.3,146.5 428.8,131.7 420.0,128.8 423.4,143.2" fill="none" stroke="#444" stroke-width="2.0" stroke-linejoin="miter" stroke-miterlimit="3"/><polyline points="397.3,150.8 399.3,135.4 390.7,135.9 396.6,150.0 409.5,145.0 406.2,131.0 399.8,138.3 410.5,149.4 420.0,138.3 412.9,128.8 410.8,141.1 424.3,146.5 428.8,131.7 420.0,128.8 423.4,143.2" fill="none" stroke="#fafafa" stroke-width="1.05" stroke-linejoin="miter" stroke-miterlimit="3"/>
<polyline points="398.3,152.8 400.3,137.4 391.7,137.9 397.6,152.0 410.5,147.0 407.2,133.0 400.8,140.3 411.5,151.4 421.0,140.3 413.9,130.8 411.8,143.1 425.3,148.5 429.8,133.7 421.0,130.8 424.4,145.2" fill="none" stroke="#444" stroke-width="2.0" stroke-linejoin="miter" stroke-miterlimit="3"/><polyline points="398.3,152.8 400.3,137.4 391.7,137.9 397.6,152.0 410.5,147.0 407.2,133.0 400.8,140.3 411.5,151.4 421.0,140.3 413.9,130.8 411.8,143.1 425.3,148.5 429.8,133.7 421.0,130.8 424.4,145.2" fill="none" stroke="#fafafa" stroke-width="1.05" stroke-linejoin="miter" stroke-miterlimit="3"/>
<polyline points="380.1,150.3 380.1,136.6 392.8,134.7" fill="none" stroke="#444" stroke-width="2.0" stroke-linejoin="miter" stroke-miterlimit="3"/><polyline points="380.1,150.3 380.1,136.6 392.8,134.7" fill="none" stroke="#fafafa" stroke-width="1.05" stroke-linejoin="miter" stroke-miterlimit="3"/>
<polyline points="379.1,139.6 379.1,131.8 394.8,130.8 399.6,144.5 389.9,142.5 397.7,125.9 412.3,128.8 407.5,144.5 403.5,138.6 411.4,130.8 420.1,124.9 428.0,128.0" fill="none" stroke="#7a1a1a" stroke-width="1.9" stroke-linejoin="miter" stroke-miterlimit="3"/><polyline points="379.1,139.6 379.1,131.8 394.8,130.8 399.6,144.5 389.9,142.5 397.7,125.9 412.3,128.8 407.5,144.5 403.5,138.6 411.4,130.8 420.1,124.9 428.0,128.0" fill="none" stroke="#cf3434" stroke-width="1.1" stroke-linejoin="miter" stroke-miterlimit="3"/>
<polyline points="412.8,93.2 429.6,94.2 427.8,80.2 412.2,85.9 418.6,101.9 433.4,95.6 424.2,84.6 412.4,96.9 425.2,108.3 434.6,96.6 420.2,91.4 415.1,107.8 431.4,112.3" fill="none" stroke="#444" stroke-width="2.0" stroke-linejoin="miter" stroke-miterlimit="3"/><polyline points="412.8,93.2 429.6,94.2 427.8,80.2 412.2,85.9 418.6,101.9 433.4,95.6 424.2,84.6 412.4,96.9 425.2,108.3 434.6,96.6 420.2,91.4 415.1,107.8 431.4,112.3" fill="none" stroke="#fafafa" stroke-width="1.05" stroke-linejoin="miter" stroke-miterlimit="3"/>
<polyline points="411.8,95.2 428.6,96.2 426.8,82.2 411.2,87.9 417.6,103.9 432.4,97.6 423.2,86.6 411.4,98.9 424.2,110.3 433.6,98.6 419.2,93.4 414.1,109.8 430.4,114.3" fill="none" stroke="#444" stroke-width="2.0" stroke-linejoin="miter" stroke-miterlimit="3"/><polyline points="411.8,95.2 428.6,96.2 426.8,82.2 411.2,87.9 417.6,103.9 432.4,97.6 423.2,86.6 411.4,98.9 424.2,110.3 433.6,98.6 419.2,93.4 414.1,109.8 430.4,114.3" fill="none" stroke="#fafafa" stroke-width="1.05" stroke-linejoin="miter" stroke-miterlimit="3"/>
<polyline points="415.7,89.2 430.3,81.8 420.8,71.1 409.9,84.1 423.3,94.6 432.3,82.1 418.0,77.6 413.8,94.2 430.5,97.7 431.9,83.2 416.2,86.2 419.9,102.9 436.0,98.8" fill="none" stroke="#7a1a1a" stroke-width="1.9" stroke-linejoin="miter" stroke-miterlimit="3"/><polyline points="415.7,89.2 430.3,81.8 420.8,71.1 409.9,84.1 423.3,94.6 432.3,82.1 418.0,77.6 413.8,94.2 430.5,97.7 431.9,83.2 416.2,86.2 419.9,102.9 436.0,98.8" fill="none" stroke="#cf3434" stroke-width="1.1" stroke-linejoin="miter" stroke-miterlimit="3"/>
<polyline points="433.2,36.5 438.1,39.4 437.1,52.1 427.3,54.0 462.0,49.0 470.0,51.0" fill="none" stroke="#444" stroke-width="2.0" stroke-linejoin="miter" stroke-miterlimit="3"/><polyline points="433.2,36.5 438.1,39.4 437.1,52.1 427.3,54.0 462.0,49.0 470.0,51.0" fill="none" stroke="#fafafa" stroke-width="1.05" stroke-linejoin="miter" stroke-miterlimit="3"/>
<polyline points="431.0,38.0 436.0,41.0 434.0,53.0 430.0,55.0 460.0,49.0 470.0,53.0" fill="none" stroke="#444" stroke-width="2.0" stroke-linejoin="miter" stroke-miterlimit="3"/><polyline points="431.0,38.0 436.0,41.0 434.0,53.0 430.0,55.0 460.0,49.0 470.0,53.0" fill="none" stroke="#fafafa" stroke-width="1.05" stroke-linejoin="miter" stroke-miterlimit="3"/>
<polyline points="427.3,32.6 446.9,36.5 443.9,42.3 432.2,48.2 429.3,50.1 458.6,45.3 468.0,47.5" fill="none" stroke="#7a1a1a" stroke-width="1.9" stroke-linejoin="miter" stroke-miterlimit="3"/><polyline points="427.3,32.6 446.9,36.5 443.9,42.3 432.2,48.2 429.3,50.1 458.6,45.3 468.0,47.5" fill="none" stroke="#cf3434" stroke-width="1.1" stroke-linejoin="miter" stroke-miterlimit="3"/>
<circle cx="458.6" cy="68.6" r="4.2" fill="#e04040" stroke="#7a1010" stroke-width="0.5"/>
<circle cx="436.4" cy="76.4" r="5.5" fill="url(#sc)" stroke="#6aa" stroke-width="0.6"/>
<circle cx="442.1" cy="69.3" r="5.3" fill="url(#sc)" stroke="#6aa" stroke-width="0.6"/>
<circle cx="440.7" cy="96.4" r="5.5" fill="url(#sc)" stroke="#6aa" stroke-width="0.6"/>
<circle cx="447.9" cy="103.6" r="5.3" fill="url(#sc)" stroke="#6aa" stroke-width="0.6"/>
<circle cx="460.7" cy="81" r="6.5" fill="url(#sg)" stroke="#145c14" stroke-width="0.6"/>
<circle cx="459.3" cy="74.5" r="6.2" fill="url(#sg)" stroke="#145c14" stroke-width="0.6"/>
<circle cx="461.4" cy="97.9" r="6.5" fill="url(#sg)" stroke="#145c14" stroke-width="0.6"/>
<circle cx="460.7" cy="91.5" r="6.5" fill="url(#sg)" stroke="#145c14" stroke-width="0.6"/>
<circle cx="450.7" cy="100.7" r="6.2" fill="url(#sg)" stroke="#145c14" stroke-width="0.6"/>
<circle cx="452.9" cy="74.3" r="6.8" fill="url(#sg)" stroke="#145c14" stroke-width="0.6"/>
<circle cx="453.6" cy="96.4" r="6.5" fill="url(#sg)" stroke="#145c14" stroke-width="0.6"/>
<circle cx="455.7" cy="83" r="6.8" fill="url(#sg)" stroke="#145c14" stroke-width="0.6"/>
<circle cx="446.4" cy="80.7" r="6.8" fill="url(#sg)" stroke="#145c14" stroke-width="0.6"/>
<circle cx="455.7" cy="90" r="1.6" fill="#2233aa"/>
<line x1="448.6" y1="108.6" x2="443.6" y2="115" stroke="#111" stroke-width="0.8"/>
<path d="M496 89.5 C490 86, 478 86, 473 93 C469 99, 470 108, 476 113 C481 116.5, 488 116, 494 115" fill="none" stroke="#111" stroke-width="1.1"/>
<ellipse cx="490.5" cy="102" rx="10" ry="11.5" fill="none" stroke="#333" stroke-width="0.9" transform="rotate(25 490.5 102)"/>
<ellipse cx="489.5" cy="102.5" rx="9.2" ry="10.8" fill="none" stroke="#777" stroke-width="0.9" transform="rotate(25 489.5 102.5)"/>
<ellipse cx="488.8" cy="102.8" rx="8.3" ry="10" fill="none" stroke="#444" stroke-width="0.9" transform="rotate(25 488.8 102.8)"/>
<ellipse cx="488" cy="103.2" rx="7.6" ry="9.2" fill="none" stroke="#888" stroke-width="0.9" transform="rotate(25 488 103.2)"/>
<path d="M480.1 26.5 C482 25.5, 484.5 26, 486.7 30.7 C488.5 34, 489 38, 491.4 40.2 C493.5 43, 496 44.5, 497.4 43.8 C500 43.5, 503 42, 506.5 39.3" fill="none" stroke="#333" stroke-width="2.6" stroke-linecap="round"/><path d="M480.1 26.5 C482 25.5, 484.5 26, 486.7 30.7 C488.5 34, 489 38, 491.4 40.2 C493.5 43, 496 44.5, 497.4 43.8 C500 43.5, 503 42, 506.5 39.3" fill="none" stroke="#fff" stroke-width="1.3" stroke-linecap="round"/>
<path d="M507 128 C503 135, 503 150, 507 162" fill="none" stroke="#222" stroke-width="1.6"/>
<path d="M507 135 C505 140, 505 148, 507 155" fill="none" stroke="#666" stroke-width="1"/>
<line x1="384" y1="37.4" x2="386.4" y2="42.4" stroke="#000" stroke-width="1.1"/><polygon points="388.2,46.2 384.2,43.4 388.6,41.4" fill="#000"/>
<line x1="481.7" y1="53.3" x2="481.7" y2="58.8" stroke="#000" stroke-width="1.1"/><polygon points="481.7,63 479.3,58.8 484.1,58.8" fill="#000"/>
<line x1="405.5" y1="89.8" x2="405.5" y2="94.8" stroke="#000" stroke-width="1.1"/><polygon points="405.5,99 403.1,94.8 407.9,94.8" fill="#000"/>
<line x1="345.9" y1="116.1" x2="349.5" y2="121.0" stroke="#000" stroke-width="1.1"/><polygon points="352,124.4 347.6,122.4 351.4,119.6" fill="#000"/>
<line x1="374.3" y1="154.2" x2="379.1" y2="157.3" stroke="#000" stroke-width="1.1"/><polygon points="382.6,159.6 377.8,159.3 380.4,155.3" fill="#000"/>
</g>
<text x="346.8" y="63.1" font-size="9.2">S2′</text>
<text x="405.3" y="66.8" font-size="9.2">S1′</text>
<text x="346.3" y="91" font-size="9.2">S3′</text>
<text x="360.5" y="152.3" font-size="9.2">S4′</text>
<text x="456.3" y="38.5" font-size="9.2">NTH</text>
<text x="422.5" y="123.9" font-size="9.2">Mefloquine</text>
<text x="485.3" y="124.7" font-size="9.2">S2</text>
<text x="490.3" y="159.6" font-size="9.2" text-anchor="end">Apo</text>
<text x="490.3" y="172.5" font-size="9.2" text-anchor="end">Mefloquine-bound</text>
<circle cx="495" cy="157" r="2.3" fill="#eee" stroke="#888" stroke-width="0.7"/>
<circle cx="495" cy="169.3" r="2.5" fill="#e00"/>
<defs><clipPath id="cd1"><rect x="521.4" y="14.4" width="162.6" height="162"/></clipPath><filter id="bl1" x="-20%" y="-20%" width="140%" height="140%"><feGaussianBlur stdDeviation="2.2"/></filter><filter id="bl3" x="-20%" y="-20%" width="140%" height="140%"><feGaussianBlur stdDeviation="0.7"/></filter><filter id="bl2" x="-50%" y="-50%" width="200%" height="200%"><feGaussianBlur stdDeviation="1"/></filter><radialGradient id="bs" cx="0.4" cy="0.35" r="0.7"><stop offset="0" stop-color="#5b5bff"/><stop offset="0.4" stop-color="#1c1ce0"/><stop offset="1" stop-color="#0a0a90"/></radialGradient><linearGradient id="bt" x1="0" y1="0" x2="0" y2="1"><stop offset="0" stop-color="#3030f0"/><stop offset="0.5" stop-color="#1515d5"/><stop offset="1" stop-color="#0a0a8a"/></linearGradient><radialGradient id="gs" cx="0.45" cy="0.4" r="0.65"><stop offset="0" stop-color="#7dff7d"/><stop offset="0.5" stop-color="#2ee02e"/><stop offset="1" stop-color="#139a13"/></radialGradient><linearGradient id="gt" x1="0" y1="0" x2="1" y2="0"><stop offset="0" stop-color="#18b018"/><stop offset="0.35" stop-color="#3cf03c"/><stop offset="0.7" stop-color="#22d022"/><stop offset="1" stop-color="#0f8a0f"/></linearGradient></defs>
<g clip-path="url(#cd1)">
<rect x="521.4" y="14.4" width="162.6" height="162" fill="#fff"/>
<path d="M521 14 L626 14 C625 40, 623 70, 623 91 C622 110, 620 125, 619.5 135 C618.5 150, 618 165, 617.5 177 L521 177 Z" fill="#c4c4c4"/>
<path d="M524 14 L596 14 C600 30, 596 45, 598 60 C600 75, 595 90, 592 100 C589 112, 592 128, 596 140 C600 150, 606 160, 608 177 L524 177 Z" fill="#a9a9a9"/>
<path d="M530 14 L594 14 C597 28, 594 42, 596 56 C598 70, 594 80, 588 90 C580 96, 570 100, 560 104 C548 108, 536 112, 524 114 L524 40 C526 30, 528 22, 530 14 Z" fill="#8e8e8e" filter="url(#bl2)"/>
<path d="M523.6 58.5 C530 57, 534 57, 536.7 58.5 C542 63, 546 70, 549.8 74.2 C555 78, 561 80, 565.5 82.1 C564 90, 562 96, 560.3 100.4 C554 105, 548 109, 542 110.9 C535 108, 528 104, 523.6 100.4 Z" fill="#777" filter="url(#bl2)"/>
<defs><radialGradient id="lg" cx="0.4" cy="0.35" r="0.75"><stop offset="0" stop-color="#adadad"/><stop offset="0.55" stop-color="#939393"/><stop offset="1" stop-color="#7a7a7a"/></radialGradient><radialGradient id="ld" cx="0.4" cy="0.35" r="0.75"><stop offset="0" stop-color="#a8a8a8"/><stop offset="0.5" stop-color="#8a8a8a"/><stop offset="1" stop-color="#666"/></radialGradient><radialGradient id="ll" cx="0.4" cy="0.35" r="0.75"><stop offset="0" stop-color="#c6c6c6"/><stop offset="0.6" stop-color="#b3b3b3"/><stop offset="1" stop-color="#a0a0a0"/></radialGradient><clipPath id="surf"><path d="M521 14 L596 14 C600 30, 596 45, 598 60 C600 75, 595 90, 592 100 C589 112, 592 128, 596 140 C600 150, 606 160, 608 177 L521 177 Z"/></clipPath></defs>
<g clip-path="url(#surf)">
<ellipse cx="532.0" cy="22.0" rx="10.0" ry="9.0" fill="url(#lg)" stroke="#555" stroke-width="0.5" stroke-opacity="0.4" filter="url(#bl3)"/>
<ellipse cx="548.0" cy="30.0" rx="9.0" ry="11.0" fill="url(#lg)" stroke="#555" stroke-width="0.5" stroke-opacity="0.4" filter="url(#bl3)"/>
<ellipse cx="566.0" cy="24.0" rx="9.0" ry="10.0" fill="url(#lg)" stroke="#555" stroke-width="0.5" stroke-opacity="0.4" filter="url(#bl3)"/>
<ellipse cx="583.0" cy="28.0" rx="8.0" ry="13.0" fill="url(#lg)" stroke="#555" stroke-width="0.5" stroke-opacity="0.4" filter="url(#bl3)"/>
<ellipse cx="540.0" cy="50.0" rx="10.0" ry="7.0" fill="url(#lg)" stroke="#555" stroke-width="0.5" stroke-opacity="0.4" filter="url(#bl3)"/>
<ellipse cx="560.0" cy="48.0" rx="9.0" ry="8.0" fill="url(#lg)" stroke="#555" stroke-width="0.5" stroke-opacity="0.4" filter="url(#bl3)"/>
<ellipse cx="578.0" cy="52.0" rx="8.0" ry="8.0" fill="url(#lg)" stroke="#555" stroke-width="0.5" stroke-opacity="0.4" filter="url(#bl3)"/>
<ellipse cx="594.0" cy="50.0" rx="5.0" ry="10.0" fill="url(#lg)" stroke="#555" stroke-width="0.5" stroke-opacity="0.4" filter="url(#bl3)"/>
<ellipse cx="575.0" cy="95.0" rx="8.0" ry="8.0" fill="url(#lg)" stroke="#555" stroke-width="0.5" stroke-opacity="0.4" filter="url(#bl3)"/>
<ellipse cx="588.0" cy="100.0" rx="6.0" ry="10.0" fill="url(#lg)" stroke="#555" stroke-width="0.5" stroke-opacity="0.4" filter="url(#bl3)"/>
<ellipse cx="582.0" cy="72.0" rx="7.0" ry="9.0" fill="url(#lg)" stroke="#555" stroke-width="0.5" stroke-opacity="0.4" filter="url(#bl3)"/>
<ellipse cx="530.0" cy="75.0" rx="9.0" ry="14.0" fill="url(#ld)" stroke="#555" stroke-width="0.5" stroke-opacity="0.4" filter="url(#bl3)"/>
<ellipse cx="545.0" cy="85.0" rx="10.0" ry="12.0" fill="url(#ld)" stroke="#555" stroke-width="0.5" stroke-opacity="0.4" filter="url(#bl3)"/>
<ellipse cx="535.0" cy="100.0" rx="10.0" ry="9.0" fill="url(#ld)" stroke="#555" stroke-width="0.5" stroke-opacity="0.4" filter="url(#bl3)"/>
<ellipse cx="555.0" cy="95.0" rx="7.0" ry="8.0" fill="url(#ld)" stroke="#555" stroke-width="0.5" stroke-opacity="0.4" filter="url(#bl3)"/>
<ellipse cx="533.0" cy="122.0" rx="11.0" ry="9.0" fill="url(#ll)" stroke="#555" stroke-width="0.5" stroke-opacity="0.4" filter="url(#bl3)"/>
<ellipse cx="556.0" cy="118.0" rx="10.0" ry="8.0" fill="url(#ll)" stroke="#555" stroke-width="0.5" stroke-opacity="0.4" filter="url(#bl3)"/>
<ellipse cx="578.0" cy="125.0" rx="9.0" ry="9.0" fill="url(#ll)" stroke="#555" stroke-width="0.5" stroke-opacity="0.4" filter="url(#bl3)"/>
<ellipse cx="540.0" cy="145.0" rx="12.0" ry="10.0" fill="url(#ll)" stroke="#555" stroke-width="0.5" stroke-opacity="0.4" filter="url(#bl3)"/>
<ellipse cx="565.0" cy="142.0" rx="10.0" ry="10.0" fill="url(#ll)" stroke="#555" stroke-width="0.5" stroke-opacity="0.4" filter="url(#bl3)"/>
<ellipse cx="590.0" cy="150.0" rx="8.0" ry="12.0" fill="url(#ll)" stroke="#555" stroke-width="0.5" stroke-opacity="0.4" filter="url(#bl3)"/>
<ellipse cx="533.0" cy="168.0" rx="11.0" ry="9.0" fill="url(#ll)" stroke="#555" stroke-width="0.5" stroke-opacity="0.4" filter="url(#bl3)"/>
<ellipse cx="560.0" cy="168.0" rx="12.0" ry="9.0" fill="url(#ll)" stroke="#555" stroke-width="0.5" stroke-opacity="0.4" filter="url(#bl3)"/>
<ellipse cx="585.0" cy="172.0" rx="9.0" ry="8.0" fill="url(#ll)" stroke="#555" stroke-width="0.5" stroke-opacity="0.4" filter="url(#bl3)"/>
<ellipse cx="541" cy="160" rx="5" ry="4" fill="#8a8a8a" filter="url(#bl2)"/>
<path d="M523.6 58.5 C530 57, 534 57, 536.7 58.5 C542 63, 546 70, 549.8 74.2 C555 78, 561 80, 565.5 82.1 C564 90, 562 96, 560.3 100.4 C554 105, 548 109, 542 110.9 C535 108, 528 104, 523.6 100.4 Z" fill="#666" opacity="0.55" filter="url(#bl1)"/>
<path d="M521 14 L548 14 C546 25, 542 40, 536 55 L521 56 Z" fill="#b4b4b4" opacity="0.6" filter="url(#bl1)"/>
<ellipse cx="528" cy="30" rx="1.5" ry="4" fill="#eee" filter="url(#bl2)"/>
<ellipse cx="548" cy="22" rx="4" ry="1.5" fill="#eee" filter="url(#bl2)"/>
<ellipse cx="565" cy="20" rx="2" ry="1.5" fill="#eee" filter="url(#bl2)"/>
<ellipse cx="532" cy="125" rx="2.5" ry="1.5" fill="#eee" filter="url(#bl2)"/>
<ellipse cx="545" cy="118" rx="1.5" ry="1.5" fill="#eee" filter="url(#bl2)"/>
<ellipse cx="555" cy="150" rx="2" ry="1.2" fill="#eee" filter="url(#bl2)"/>
<ellipse cx="570" cy="140" rx="1.5" ry="1.2" fill="#eee" filter="url(#bl2)"/>
<ellipse cx="538" cy="165" rx="2.5" ry="1.2" fill="#eee" filter="url(#bl2)"/>
<ellipse cx="585" cy="160" rx="2" ry="1.5" fill="#eee" filter="url(#bl2)"/>
<ellipse cx="575" cy="45" rx="1.5" ry="2.5" fill="#eee" filter="url(#bl2)"/>
<ellipse cx="528" cy="75" rx="1.2" ry="4" fill="#eee" filter="url(#bl2)"/>
<ellipse cx="560" cy="128" rx="1.5" ry="1.2" fill="#eee" filter="url(#bl2)"/>
<ellipse cx="590" cy="25" rx="1.5" ry="3" fill="#eee" filter="url(#bl2)"/>
<ellipse cx="540" cy="30" rx="1.5" ry="1.5" fill="#eee" filter="url(#bl2)"/>
<ellipse cx="580" cy="130" rx="1.5" ry="1.5" fill="#eee" filter="url(#bl2)"/>
<ellipse cx="530" cy="145" rx="1.5" ry="1.5" fill="#eee" filter="url(#bl2)"/>
</g>
<rect x="521.4" y="95" width="2.2" height="82" fill="#f4f4f4"/>
<polygon points="594.5,18.0 595.4,17.4 596.8,16.9 598.4,16.6 600.4,16.5 602.6,16.5 604.9,16.8 607.2,17.3 609.5,18.0 611.7,19.0 613.7,20.1 615.3,21.5 616.6,23.0 617.5,24.5 617.9,26.2 617.9,27.6 617.5,28.8 617.5,30.0 617.9,28.4 617.9,26.9 617.5,25.7 616.6,24.6 615.3,23.5 613.7,22.5 611.7,21.6 609.5,20.8 607.2,20.2 604.9,19.7 602.6,19.3 600.4,19.1 598.4,18.9 596.8,18.9 595.4,19.0 594.5,19.2" fill="#cdc25c" stroke="#857d36" stroke-width="0.5" fill-opacity="0.7" stroke-opacity="0.7"/>
<polygon points="594.5,34.0 595.4,33.4 596.8,32.9 598.4,32.6 600.4,32.5 602.6,32.5 604.9,32.8 607.2,33.3 609.5,34.0 611.7,35.0 613.7,36.1 615.3,37.5 616.6,39.0 617.5,40.5 617.9,42.2 617.9,43.6 617.5,44.8 617.5,46.0 617.9,44.4 617.9,42.9 617.5,41.7 616.6,40.6 615.3,39.5 613.7,38.5 611.7,37.6 609.5,36.8 607.2,36.2 604.9,35.7 602.6,35.3 600.4,35.1 598.4,34.9 596.8,34.9 595.4,35.0 594.5,35.2" fill="#cdc25c" stroke="#857d36" stroke-width="0.5" fill-opacity="0.7" stroke-opacity="0.7"/>
<polygon points="594.5,50.0 595.4,49.4 596.8,48.9 598.4,48.6 600.4,48.5 602.6,48.5 604.9,48.8 607.2,49.3 609.5,50.0 611.7,51.0 613.7,52.1 615.3,53.5 616.6,55.0 617.5,56.5 617.9,58.2 617.9,59.6 617.5,60.8 617.5,62.0 617.9,60.4 617.9,58.9 617.5,57.7 616.6,56.6 615.3,55.5 613.7,54.5 611.7,53.6 609.5,52.8 607.2,52.2 604.9,51.7 602.6,51.3 600.4,51.1 598.4,50.9 596.8,50.9 595.4,51.0 594.5,51.2" fill="#cdc25c" stroke="#857d36" stroke-width="0.5" fill-opacity="0.7" stroke-opacity="0.7"/>
<polygon points="617.5,12.8 616.6,14.0 615.2,15.1 613.6,16.1 611.6,16.9 609.4,17.7 607.1,18.3 604.8,18.8 602.5,19.2 600.3,19.4 598.3,19.5 596.7,19.5 595.4,19.4 594.5,19.3 594.1,19.1 594.1,18.6 594.5,18.0 594.5,19.2 594.1,19.4 594.1,19.8 594.5,20.5 595.4,21.0 596.7,21.5 598.3,21.9 600.3,22.0 602.5,22.0 604.8,21.7 607.1,21.2 609.4,20.5 611.6,19.5 613.6,18.4 615.2,17.1 616.6,15.6 617.5,14.0" fill="#f0e67c" stroke="#8f883e" stroke-width="0.5" fill-opacity="0.7" stroke-opacity="0.7"/>
<polygon points="617.5,28.8 616.6,30.0 615.2,31.1 613.6,32.1 611.6,32.9 609.4,33.7 607.1,34.3 604.8,34.8 602.5,35.2 600.3,35.4 598.3,35.5 596.7,35.5 595.4,35.4 594.5,35.3 594.1,35.1 594.1,34.6 594.5,34.0 594.5,35.2 594.1,35.4 594.1,35.8 594.5,36.5 595.4,37.0 596.7,37.5 598.3,37.9 600.3,38.0 602.5,38.0 604.8,37.7 607.1,37.2 609.4,36.5 611.6,35.5 613.6,34.4 615.2,33.1 616.6,31.6 617.5,30.0" fill="#f0e67c" stroke="#8f883e" stroke-width="0.5" fill-opacity="0.7" stroke-opacity="0.7"/>
<polygon points="617.5,44.8 616.6,46.0 615.2,47.1 613.6,48.1 611.6,48.9 609.4,49.7 607.1,50.3 604.8,50.8 602.5,51.2 600.3,51.4 598.3,51.5 596.7,51.5 595.4,51.4 594.5,51.3 594.1,51.1 594.1,50.6 594.5,50.0 594.5,51.2 594.1,51.4 594.1,51.8 594.5,52.5 595.4,53.0 596.7,53.5 598.3,53.9 600.3,54.0 602.5,54.0 604.8,53.7 607.1,53.2 609.4,52.5 611.6,51.5 613.6,50.4 615.2,49.1 616.6,47.6 617.5,46.0" fill="#f0e67c" stroke="#8f883e" stroke-width="0.5" fill-opacity="0.7" stroke-opacity="0.7"/>
<polygon points="617.5,60.8 616.6,62.0 615.2,63.1 613.6,64.1 611.6,64.9 609.4,65.7 607.1,66.3 604.8,66.8 602.5,67.2 600.3,67.4 598.3,67.5 596.7,67.5 595.4,67.4 594.5,67.3 594.1,67.1 594.1,66.6 594.5,66.0 594.5,67.2 594.1,67.4 594.1,67.8 594.5,68.5 595.4,69.0 596.7,69.5 598.3,69.9 600.3,70.0 602.5,70.0 604.8,69.7 607.1,69.2 609.4,68.5 611.6,67.5 613.6,66.4 615.2,65.1 616.6,63.6 617.5,62.0" fill="#f0e67c" stroke="#8f883e" stroke-width="0.5" fill-opacity="0.7" stroke-opacity="0.7"/>
<polygon points="596.0,153.2 598.1,153.5 600.2,154.0 602.4,154.7 604.4,155.6 606.3,156.7 607.9,158.0 609.3,159.5 610.3,161.1 610.8,162.7 611.0,164.4 610.7,165.5 610.1,166.6 609.0,167.7 607.6,168.7 605.9,169.6 604.0,170.4 604.0,173.8 605.9,172.7 607.6,171.4 609.0,170.0 610.1,168.4 610.7,166.8 611.0,165.1 610.8,163.9 610.3,162.7 609.3,161.7 607.9,160.6 606.3,159.7 604.4,158.9 602.4,158.1 600.2,157.5 598.1,157.0 596.0,156.6" fill="#cdc25c" stroke="#857d36" stroke-width="0.5" fill-opacity="0.8" stroke-opacity="0.8"/>
<polygon points="596.0,171.2 598.1,171.5 600.2,172.0 602.4,172.7 604.4,173.6 606.3,174.7 607.9,176.0 609.3,177.5 610.3,179.1 610.8,180.7 611.0,182.4 610.7,183.5 610.1,184.6 609.0,185.7 607.6,186.7 605.9,187.6 604.0,188.4 604.0,191.8 605.9,190.7 607.6,189.4 609.0,188.0 610.1,186.4 610.7,184.8 611.0,183.1 610.8,181.9 610.3,180.7 609.3,179.7 607.9,178.6 606.3,177.7 604.4,176.9 602.4,176.1 600.2,175.5 598.1,175.0 596.0,174.6" fill="#cdc25c" stroke="#857d36" stroke-width="0.5" fill-opacity="0.8" stroke-opacity="0.8"/>
<polygon points="604.0,152.4 601.9,153.2 599.8,153.8 597.6,154.3 595.6,154.6 593.7,154.9 592.1,155.1 590.7,155.2 589.7,155.3 589.2,155.3 589.0,155.2 589.3,154.6 589.9,154.1 591.0,153.6 592.4,153.3 594.1,153.2 596.0,153.2 596.0,156.6 594.1,156.3 592.4,156.1 591.0,155.9 589.9,155.9 589.3,155.9 589.0,155.9 589.2,156.4 589.7,156.9 590.7,157.4 592.1,157.7 593.7,157.9 595.6,157.9 597.6,157.7 599.8,157.3 601.9,156.6 604.0,155.8" fill="#f0e67c" stroke="#8f883e" stroke-width="0.5" fill-opacity="0.8" stroke-opacity="0.8"/>
<polygon points="604.0,170.4 601.9,171.2 599.8,171.8 597.6,172.3 595.6,172.6 593.7,172.9 592.1,173.1 590.7,173.2 589.7,173.3 589.2,173.3 589.0,173.2 589.3,172.6 589.9,172.1 591.0,171.6 592.4,171.3 594.1,171.2 596.0,171.2 596.0,174.6 594.1,174.3 592.4,174.1 591.0,173.9 589.9,173.9 589.3,173.9 589.0,173.9 589.2,174.4 589.7,174.9 590.7,175.4 592.1,175.7 593.7,175.9 595.6,175.9 597.6,175.7 599.8,175.3 601.9,174.6 604.0,173.8" fill="#f0e67c" stroke="#8f883e" stroke-width="0.5" fill-opacity="0.8" stroke-opacity="0.8"/>
<polygon points="625.1,98.8 627.0,97.8 629.3,97.1 632.1,96.7 635.2,96.6 638.5,96.9 641.8,97.5 645.1,98.6 648.2,99.9 650.9,101.6 653.2,103.6 655.1,105.8 656.3,108.2 656.9,110.7 656.9,112.7 656.2,114.2 654.9,115.6 654.9,119.2 656.2,116.8 656.9,114.4 656.9,112.3 656.3,110.8 655.1,109.3 653.2,107.9 650.9,106.7 648.2,105.5 645.1,104.6 641.8,103.8 638.5,103.1 635.2,102.7 632.1,102.4 629.3,102.2 627.0,102.2 625.1,102.4" fill="#cdc25c" stroke="#857d36" stroke-width="0.5" fill-opacity="1.0" stroke-opacity="1.0"/>
<polygon points="625.1,118.8 627.0,117.8 629.3,117.1 632.1,116.7 635.2,116.6 638.5,116.9 641.8,117.5 645.1,118.6 648.2,119.9 650.9,121.6 653.2,123.6 655.1,125.8 656.3,128.2 656.9,130.7 656.9,132.7 656.2,134.2 654.9,135.6 654.9,139.2 656.2,136.8 656.9,134.4 656.9,132.3 656.3,130.8 655.1,129.3 653.2,127.9 650.9,126.7 648.2,125.5 645.1,124.6 641.8,123.8 638.5,123.1 635.2,122.7 632.1,122.4 629.3,122.2 627.0,122.2 625.1,122.4" fill="#cdc25c" stroke="#857d36" stroke-width="0.5" fill-opacity="1.0" stroke-opacity="1.0"/>
<polygon points="625.1,138.8 627.0,137.8 629.3,137.1 632.1,136.7 635.2,136.6 638.5,136.9 641.8,137.5 645.1,138.6 648.2,139.9 650.9,141.6 653.2,143.6 655.1,145.8 656.3,148.2 656.9,150.7 656.9,152.7 656.2,154.2 654.9,155.6 654.9,159.2 656.2,156.8 656.9,154.4 656.9,152.3 656.3,150.8 655.1,149.3 653.2,147.9 650.9,146.7 648.2,145.5 645.1,144.6 641.8,143.8 638.5,143.1 635.2,142.7 632.1,142.4 629.3,142.2 627.0,142.2 625.1,142.4" fill="#cdc25c" stroke="#857d36" stroke-width="0.5" fill-opacity="1.0" stroke-opacity="1.0"/>
<polygon points="625.1,158.8 627.0,157.8 629.3,157.1 632.1,156.7 635.2,156.6 638.5,156.9 641.8,157.5 645.1,158.6 648.2,159.9 650.9,161.6 653.2,163.6 655.1,165.8 656.3,168.2 656.9,170.7 656.9,172.7 656.2,174.2 654.9,175.6 654.9,179.2 656.2,176.8 656.9,174.4 656.9,172.3 656.3,170.8 655.1,169.3 653.2,167.9 650.9,166.7 648.2,165.5 645.1,164.6 641.8,163.8 638.5,163.1 635.2,162.7 632.1,162.4 629.3,162.2 627.0,162.2 625.1,162.4" fill="#cdc25c" stroke="#857d36" stroke-width="0.5" fill-opacity="1.0" stroke-opacity="1.0"/>
<polygon points="625.1,178.8 627.0,177.8 629.3,177.1 632.1,176.7 635.2,176.6 638.5,176.9 641.8,177.5 645.1,178.6 648.2,179.9 650.9,181.6 653.2,183.6 655.1,185.8 656.3,188.2 656.9,190.7 656.9,192.7 656.2,194.2 654.9,195.6 654.9,199.2 656.2,196.8 656.9,194.4 656.9,192.3 656.3,190.8 655.1,189.3 653.2,187.9 650.9,186.7 648.2,185.5 645.1,184.6 641.8,183.8 638.5,183.1 635.2,182.7 632.1,182.4 629.3,182.2 627.0,182.2 625.1,182.4" fill="#cdc25c" stroke="#857d36" stroke-width="0.5" fill-opacity="1.0" stroke-opacity="1.0"/>
<polygon points="654.9,95.6 653.0,97.0 650.7,98.3 647.9,99.4 644.8,100.3 641.5,101.1 638.2,101.7 634.9,102.2 631.8,102.5 629.1,102.6 626.8,102.6 624.9,102.4 623.7,102.2 623.1,102.0 623.1,101.1 623.8,99.9 625.1,98.8 625.1,102.4 623.8,102.6 623.1,102.8 623.1,103.5 623.7,104.8 624.9,105.9 626.8,106.9 629.1,107.6 631.8,108.1 634.9,108.2 638.2,108.0 641.5,107.3 644.8,106.4 647.9,105.0 650.7,103.4 653.0,101.4 654.9,99.2" fill="#f0e67c" stroke="#8f883e" stroke-width="0.5" fill-opacity="1.0" stroke-opacity="1.0"/>
<polygon points="654.9,115.6 653.0,117.0 650.7,118.3 647.9,119.4 644.8,120.3 641.5,121.1 638.2,121.7 634.9,122.2 631.8,122.5 629.1,122.6 626.8,122.6 624.9,122.4 623.7,122.2 623.1,122.0 623.1,121.1 623.8,119.9 625.1,118.8 625.1,122.4 623.8,122.6 623.1,122.8 623.1,123.5 623.7,124.8 624.9,125.9 626.8,126.9 629.1,127.6 631.8,128.1 634.9,128.2 638.2,128.0 641.5,127.3 644.8,126.4 647.9,125.0 650.7,123.4 653.0,121.4 654.9,119.2" fill="#f0e67c" stroke="#8f883e" stroke-width="0.5" fill-opacity="1.0" stroke-opacity="1.0"/>
<polygon points="654.9,135.6 653.0,137.0 650.7,138.3 647.9,139.4 644.8,140.3 641.5,141.1 638.2,141.7 634.9,142.2 631.8,142.5 629.1,142.6 626.8,142.6 624.9,142.4 623.7,142.2 623.1,142.0 623.1,141.1 623.8,139.9 625.1,138.8 625.1,142.4 623.8,142.6 623.1,142.8 623.1,143.5 623.7,144.8 624.9,145.9 626.8,146.9 629.1,147.6 631.8,148.1 634.9,148.2 638.2,148.0 641.5,147.3 644.8,146.4 647.9,145.0 650.7,143.4 653.0,141.4 654.9,139.2" fill="#f0e67c" stroke="#8f883e" stroke-width="0.5" fill-opacity="1.0" stroke-opacity="1.0"/>
<polygon points="654.9,155.6 653.0,157.0 650.7,158.3 647.9,159.4 644.8,160.3 641.5,161.1 638.2,161.7 634.9,162.2 631.8,162.5 629.1,162.6 626.8,162.6 624.9,162.4 623.7,162.2 623.1,162.0 623.1,161.1 623.8,159.9 625.1,158.8 625.1,162.4 623.8,162.6 623.1,162.8 623.1,163.5 623.7,164.8 624.9,165.9 626.8,166.9 629.1,167.6 631.8,168.1 634.9,168.2 638.2,168.0 641.5,167.3 644.8,166.4 647.9,165.0 650.7,163.4 653.0,161.4 654.9,159.2" fill="#f0e67c" stroke="#8f883e" stroke-width="0.5" fill-opacity="1.0" stroke-opacity="1.0"/>
<polygon points="654.9,175.6 653.0,177.0 650.7,178.3 647.9,179.4 644.8,180.3 641.5,181.1 638.2,181.7 634.9,182.2 631.8,182.5 629.1,182.6 626.8,182.6 624.9,182.4 623.7,182.2 623.1,182.0 623.1,181.1 623.8,179.9 625.1,178.8 625.1,182.4 623.8,182.6 623.1,182.8 623.1,183.5 623.7,184.8 624.9,185.9 626.8,186.9 629.1,187.6 631.8,188.1 634.9,188.2 638.2,188.0 641.5,187.3 644.8,186.4 647.9,185.0 650.7,183.4 653.0,181.4 654.9,179.2" fill="#f0e67c" stroke="#8f883e" stroke-width="0.5" fill-opacity="1.0" stroke-opacity="1.0"/>
<polygon points="666.2,88.5 663.8,88.8 661.7,88.9 660.1,89.1 658.9,89.1 658.2,89.1 658.0,88.9 658.4,87.9 659.3,86.9 660.7,86.1 662.5,85.5 664.7,85.1 667.1,85.0 669.8,85.2 672.5,85.8 675.2,86.6 677.8,87.8 677.8,93.5 675.2,92.7 672.5,92.0 669.8,91.4 667.1,90.9 664.7,90.6 662.5,90.4 660.7,90.2 659.3,90.2 658.4,90.2 658.0,90.2 658.2,91.0 658.9,92.0 660.1,92.9 661.7,93.6 663.8,94.0 666.2,94.2" fill="#cdc25c" stroke="#857d36" stroke-width="0.5" fill-opacity="1.0" stroke-opacity="1.0"/>
<polygon points="666.2,108.5 663.8,108.8 661.7,108.9 660.1,109.1 658.9,109.1 658.2,109.1 658.0,108.9 658.4,107.9 659.3,106.9 660.7,106.1 662.5,105.5 664.7,105.1 667.1,105.0 669.8,105.2 672.5,105.8 675.2,106.6 677.8,107.8 677.8,113.5 675.2,112.7 672.5,112.0 669.8,111.4 667.1,110.9 664.7,110.6 662.5,110.4 660.7,110.2 659.3,110.2 658.4,110.2 658.0,110.2 658.2,111.0 658.9,112.0 660.1,112.9 661.7,113.6 663.8,114.0 666.2,114.2" fill="#cdc25c" stroke="#857d36" stroke-width="0.5" fill-opacity="1.0" stroke-opacity="1.0"/>
<polygon points="666.2,128.5 663.8,128.8 661.7,128.9 660.1,129.1 658.9,129.1 658.2,129.1 658.0,128.9 658.4,127.9 659.3,126.9 660.7,126.1 662.5,125.5 664.7,125.1 667.1,125.0 669.8,125.2 672.5,125.8 675.2,126.6 677.8,127.8 677.8,133.5 675.2,132.7 672.5,132.0 669.8,131.4 667.1,130.9 664.7,130.6 662.5,130.4 660.7,130.2 659.3,130.2 658.4,130.2 658.0,130.2 658.2,131.0 658.9,132.0 660.1,132.9 661.7,133.6 663.8,134.0 666.2,134.2" fill="#cdc25c" stroke="#857d36" stroke-width="0.5" fill-opacity="1.0" stroke-opacity="1.0"/>
<polygon points="666.2,148.5 663.8,148.8 661.7,148.9 660.1,149.1 658.9,149.1 658.2,149.1 658.0,148.9 658.4,147.9 659.3,146.9 660.7,146.1 662.5,145.5 664.7,145.1 667.1,145.0 669.8,145.2 672.5,145.8 675.2,146.6 677.8,147.8 677.8,153.5 675.2,152.7 672.5,152.0 669.8,151.4 667.1,150.9 664.7,150.6 662.5,150.4 660.7,150.2 659.3,150.2 658.4,150.2 658.0,150.2 658.2,151.0 658.9,152.0 660.1,152.9 661.7,153.6 663.8,154.0 666.2,154.2" fill="#cdc25c" stroke="#857d36" stroke-width="0.5" fill-opacity="1.0" stroke-opacity="1.0"/>
<polygon points="666.2,168.5 663.8,168.8 661.7,168.9 660.1,169.1 658.9,169.1 658.2,169.1 658.0,168.9 658.4,167.9 659.3,166.9 660.7,166.1 662.5,165.5 664.7,165.1 667.1,165.0 669.8,165.2 672.5,165.8 675.2,166.6 677.8,167.8 677.8,173.5 675.2,172.7 672.5,172.0 669.8,171.4 667.1,170.9 664.7,170.6 662.5,170.4 660.7,170.2 659.3,170.2 658.4,170.2 658.0,170.2 658.2,171.0 658.9,172.0 660.1,172.9 661.7,173.6 663.8,174.0 666.2,174.2" fill="#cdc25c" stroke="#857d36" stroke-width="0.5" fill-opacity="1.0" stroke-opacity="1.0"/>
<polygon points="677.8,87.8 680.2,89.2 682.3,90.9 683.9,92.9 685.1,95.0 685.8,97.2 686.0,99.3 685.6,100.6 684.7,101.8 683.3,103.0 681.5,104.1 679.3,105.1 676.9,106.1 674.2,106.8 671.5,107.5 668.8,108.0 666.2,108.5 666.2,114.2 668.8,114.1 671.5,113.7 674.2,113.0 676.9,112.0 679.3,110.6 681.5,109.0 683.3,107.1 684.7,105.1 685.6,102.9 686.0,100.6 685.8,99.2 685.1,97.9 683.9,96.7 682.3,95.6 680.2,94.5 677.8,93.5" fill="#f0e67c" stroke="#8f883e" stroke-width="0.5" fill-opacity="1.0" stroke-opacity="1.0"/>
<polygon points="677.8,107.8 680.2,109.2 682.3,110.9 683.9,112.9 685.1,115.0 685.8,117.2 686.0,119.3 685.6,120.6 684.7,121.8 683.3,123.0 681.5,124.1 679.3,125.1 676.9,126.1 674.2,126.8 671.5,127.5 668.8,128.0 666.2,128.5 666.2,134.2 668.8,134.1 671.5,133.7 674.2,133.0 676.9,132.0 679.3,130.6 681.5,129.0 683.3,127.1 684.7,125.1 685.6,122.9 686.0,120.6 685.8,119.2 685.1,117.9 683.9,116.7 682.3,115.6 680.2,114.5 677.8,113.5" fill="#f0e67c" stroke="#8f883e" stroke-width="0.5" fill-opacity="1.0" stroke-opacity="1.0"/>
<polygon points="677.8,127.8 680.2,129.2 682.3,130.9 683.9,132.9 685.1,135.0 685.8,137.2 686.0,139.3 685.6,140.6 684.7,141.8 683.3,143.0 681.5,144.1 679.3,145.1 676.9,146.1 674.2,146.8 671.5,147.5 668.8,148.0 666.2,148.5 666.2,154.2 668.8,154.1 671.5,153.7 674.2,153.0 676.9,152.0 679.3,150.6 681.5,149.0 683.3,147.1 684.7,145.1 685.6,142.9 686.0,140.6 685.8,139.2 685.1,137.9 683.9,136.7 682.3,135.6 680.2,134.5 677.8,133.5" fill="#f0e67c" stroke="#8f883e" stroke-width="0.5" fill-opacity="1.0" stroke-opacity="1.0"/>
<polygon points="677.8,147.8 680.2,149.2 682.3,150.9 683.9,152.9 685.1,155.0 685.8,157.2 686.0,159.3 685.6,160.6 684.7,161.8 683.3,163.0 681.5,164.1 679.3,165.1 676.9,166.1 674.2,166.8 671.5,167.5 668.8,168.0 666.2,168.5 666.2,174.2 668.8,174.1 671.5,173.7 674.2,173.0 676.9,172.0 679.3,170.6 681.5,169.0 683.3,167.1 684.7,165.1 685.6,162.9 686.0,160.6 685.8,159.2 685.1,157.9 683.9,156.7 682.3,155.6 680.2,154.5 677.8,153.5" fill="#f0e67c" stroke="#8f883e" stroke-width="0.5" fill-opacity="1.0" stroke-opacity="1.0"/>
<polygon points="677.8,167.8 680.2,169.2 682.3,170.9 683.9,172.9 685.1,175.0 685.8,177.2 686.0,179.3 685.6,180.6 684.7,181.8 683.3,183.0 681.5,184.1 679.3,185.1 676.9,186.1 674.2,186.8 671.5,187.5 668.8,188.0 666.2,188.5 666.2,194.2 668.8,194.1 671.5,193.7 674.2,193.0 676.9,192.0 679.3,190.6 681.5,189.0 683.3,187.1 684.7,185.1 685.6,182.9 686.0,180.6 685.8,179.2 685.1,177.9 683.9,176.7 682.3,175.6 680.2,174.5 677.8,173.5" fill="#f0e67c" stroke="#8f883e" stroke-width="0.5" fill-opacity="1.0" stroke-opacity="1.0"/>
<polygon points="633.5,-1.3 635.6,-1.2 637.9,-0.9 640.2,-0.3 642.6,0.6 644.8,1.9 646.8,3.4 648.6,5.2 650.1,7.2 651.2,9.3 651.8,11.6 652.0,13.9 651.7,15.4 651.0,16.8 649.9,18.3 648.3,19.6 646.5,20.8 646.5,25.3 648.3,23.5 649.9,21.6 651.0,19.4 651.7,17.2 652.0,14.9 651.8,13.3 651.2,11.8 650.1,10.4 648.6,9.0 646.8,7.8 644.8,6.6 642.6,5.6 640.2,4.8 637.9,4.1 635.6,3.6 633.5,3.2" fill="#cdc25c" stroke="#857d36" stroke-width="0.5" fill-opacity="1.0" stroke-opacity="1.0"/>
<polygon points="646.5,-3.2 644.4,-2.1 642.1,-1.1 639.8,-0.3 637.4,0.4 635.2,0.9 633.2,1.2 631.4,1.5 629.9,1.6 628.8,1.7 628.2,1.7 628.0,1.6 628.3,0.8 629.0,0.1 630.1,-0.6 631.7,-1.0 633.5,-1.3 633.5,3.2 631.7,2.9 630.1,2.7 629.0,2.7 628.3,2.6 628.0,2.6 628.2,3.4 628.8,4.2 629.9,4.8 631.4,5.3 633.2,5.6 635.2,5.6 637.4,5.4 639.8,4.8 642.1,3.9 644.4,2.7 646.5,1.3" fill="#f0e67c" stroke="#8f883e" stroke-width="0.5" fill-opacity="1.0" stroke-opacity="1.0"/>
<polygon points="646.5,20.8 644.4,21.9 642.1,22.9 639.8,23.7 637.4,24.4 635.2,24.9 633.2,25.2 631.4,25.5 629.9,25.6 628.8,25.7 628.2,25.7 628.0,25.6 628.3,24.8 629.0,24.1 630.1,23.4 631.7,23.0 633.5,22.7 633.5,27.2 631.7,26.9 630.1,26.7 629.0,26.7 628.3,26.6 628.0,26.6 628.2,27.4 628.8,28.2 629.9,28.8 631.4,29.3 633.2,29.6 635.2,29.6 637.4,29.4 639.8,28.8 642.1,27.9 644.4,26.7 646.5,25.3" fill="#f0e67c" stroke="#8f883e" stroke-width="0.5" fill-opacity="1.0" stroke-opacity="1.0"/>
<polygon points="662.4,9.9 661.2,10.0 660.4,10.1 660.0,10.2 660.1,9.6 660.7,8.9 661.7,8.3 663.1,7.8 664.8,7.6 666.8,7.5 669.0,7.8 671.4,8.4 673.7,9.3 676.0,10.5 678.1,12.0 680.0,13.7 681.6,15.7 681.6,19.1 680.0,17.7 678.1,16.5 676.0,15.3 673.7,14.4 671.4,13.5 669.0,12.8 666.8,12.3 664.8,11.8 663.1,11.5 661.7,11.3 660.7,11.2 660.1,11.2 660.0,11.3 660.4,12.1 661.2,12.8 662.4,13.3" fill="#cdc25c" stroke="#857d36" stroke-width="0.5" fill-opacity="1.0" stroke-opacity="1.0"/>
<polygon points="662.4,35.9 661.2,36.0 660.4,36.1 660.0,36.2 660.1,35.6 660.7,34.9 661.7,34.3 663.1,33.8 664.8,33.6 666.8,33.5 669.0,33.8 671.4,34.4 673.7,35.3 676.0,36.5 678.1,38.0 680.0,39.7 681.6,41.7 681.6,45.1 680.0,43.7 678.1,42.5 676.0,41.3 673.7,40.4 671.4,39.5 669.0,38.8 666.8,38.3 664.8,37.8 663.1,37.5 661.7,37.3 660.7,37.2 660.1,37.2 660.0,37.3 660.4,38.1 661.2,38.8 662.4,39.3" fill="#cdc25c" stroke="#857d36" stroke-width="0.5" fill-opacity="1.0" stroke-opacity="1.0"/>
<polygon points="662.4,61.9 661.2,62.0 660.4,62.1 660.0,62.2 660.1,61.6 660.7,60.9 661.7,60.3 663.1,59.8 664.8,59.6 666.8,59.5 669.0,59.8 671.4,60.4 673.7,61.3 676.0,62.5 678.1,64.0 680.0,65.7 681.6,67.7 681.6,71.1 680.0,69.7 678.1,68.5 676.0,67.3 673.7,66.4 671.4,65.5 669.0,64.8 666.8,64.3 664.8,63.8 663.1,63.5 661.7,63.3 660.7,63.2 660.1,63.2 660.0,63.3 660.4,64.1 661.2,64.8 662.4,65.3" fill="#cdc25c" stroke="#857d36" stroke-width="0.5" fill-opacity="1.0" stroke-opacity="1.0"/>
<polygon points="681.6,15.7 682.8,17.9 683.6,20.2 684.0,22.6 683.9,24.3 683.3,25.9 682.3,27.4 680.9,28.8 679.2,30.2 677.2,31.4 675.0,32.4 672.6,33.4 670.3,34.1 668.0,34.8 665.9,35.3 664.0,35.6 662.4,35.9 662.4,39.3 664.0,39.7 665.9,39.8 668.0,39.7 670.3,39.2 672.6,38.5 675.0,37.4 677.2,36.1 679.2,34.4 680.9,32.6 682.3,30.5 683.3,28.2 683.9,25.9 684.0,23.7 683.6,22.1 682.8,20.6 681.6,19.1" fill="#f0e67c" stroke="#8f883e" stroke-width="0.5" fill-opacity="1.0" stroke-opacity="1.0"/>
<polygon points="681.6,41.7 682.8,43.9 683.6,46.2 684.0,48.6 683.9,50.3 683.3,51.9 682.3,53.4 680.9,54.8 679.2,56.2 677.2,57.4 675.0,58.4 672.6,59.4 670.3,60.1 668.0,60.8 665.9,61.3 664.0,61.6 662.4,61.9 662.4,65.3 664.0,65.7 665.9,65.8 668.0,65.7 670.3,65.2 672.6,64.5 675.0,63.4 677.2,62.1 679.2,60.4 680.9,58.6 682.3,56.5 683.3,54.2 683.9,51.9 684.0,49.7 683.6,48.1 682.8,46.6 681.6,45.1" fill="#f0e67c" stroke="#8f883e" stroke-width="0.5" fill-opacity="1.0" stroke-opacity="1.0"/>
<polygon points="681.6,67.7 682.8,69.9 683.6,72.2 684.0,74.6 683.9,76.3 683.3,77.9 682.3,79.4 680.9,80.8 679.2,82.2 677.2,83.4 675.0,84.4 672.6,85.4 670.3,86.1 668.0,86.8 665.9,87.3 664.0,87.6 662.4,87.9 662.4,91.3 664.0,91.7 665.9,91.8 668.0,91.7 670.3,91.2 672.6,90.5 675.0,89.4 677.2,88.1 679.2,86.4 680.9,84.6 682.3,82.5 683.3,80.2 683.9,77.9 684.0,75.7 683.6,74.1 682.8,72.6 681.6,71.1" fill="#f0e67c" stroke="#8f883e" stroke-width="0.5" fill-opacity="1.0" stroke-opacity="1.0"/>
<ellipse cx="634" cy="67" rx="17.5" ry="29" fill="url(#gs)" stroke="#0f700f" stroke-width="0.6" transform="rotate(-8 634 67)"/>
<path d="M572 78 C580 81, 590 82, 600 79 C606 78, 611 80, 614 83" fill="none" stroke="#08086e" stroke-width="15" stroke-linecap="round"/>
<path d="M572 78 C580 81, 590 82, 600 79 C606 78, 611 80, 614 83" fill="none" stroke="#1a1ad8" stroke-width="12.5" stroke-linecap="round"/>
<path d="M574 75 C582 77.5, 590 78, 600 75.5 C606 74.5, 610 76, 612 78" fill="none" stroke="#4646ff" stroke-width="3.5" stroke-linecap="round" opacity="0.75"/>
<path d="M577 86.5 Q580 88.5 583 86.5" fill="none" stroke="#06065a" stroke-width="0.8" opacity="0.6"/>
<path d="M585 87.5 Q588 89.5 591 87.5" fill="none" stroke="#06065a" stroke-width="0.8" opacity="0.6"/>
<path d="M593 86.0 Q596 88.0 599 86.0" fill="none" stroke="#06065a" stroke-width="0.8" opacity="0.6"/>
<path d="M601 84.5 Q604 86.5 607 84.5" fill="none" stroke="#06065a" stroke-width="0.8" opacity="0.6"/>
<circle cx="564.2" cy="66.4" r="14.4" fill="url(#bs)"/>
<path d="M630 80 C623 85, 615 89, 608 94 C604 97, 601 100, 599 104" fill="none" stroke="#0e7a0e" stroke-width="13.5" stroke-linecap="round"/>
<path d="M630 80 C623 85, 615 89, 608 94 C604 97, 601 100, 599 104" fill="none" stroke="#22d822" stroke-width="11.2" stroke-linecap="round"/>
<path d="M628 78.5 C621 83, 614 87, 607 92" fill="none" stroke="#7dff7d" stroke-width="3" stroke-linecap="round" opacity="0.6"/>
<path d="M598 103 C596.5 110, 596 118, 596.5 126 C597 133, 597 139, 597 145" fill="none" stroke="#0e7a0e" stroke-width="20" stroke-linecap="round"/>
<path d="M598 103 C596.5 110, 596 118, 596.5 126 C597 133, 597 139, 597 145" fill="none" stroke="#22d822" stroke-width="17.6" stroke-linecap="round"/>
<path d="M594 105 C592.5 112, 592 120, 592.5 128 C593 134, 593 139, 593 143" fill="none" stroke="#6dff6d" stroke-width="5" stroke-linecap="round" opacity="0.55"/>
<path d="M588 106 Q597 108.4 606 106" fill="none" stroke="#119911" stroke-width="0.5" opacity="0.6"/>
<path d="M588 109 Q597 111.4 606 109" fill="none" stroke="#119911" stroke-width="0.5" opacity="0.6"/>
<path d="M588 112 Q597 114.4 606 112" fill="none" stroke="#119911" stroke-width="0.5" opacity="0.6"/>
<path d="M588 115 Q597 117.4 606 115" fill="none" stroke="#119911" stroke-width="0.5" opacity="0.6"/>
<path d="M588 118 Q597 120.4 606 118" fill="none" stroke="#119911" stroke-width="0.5" opacity="0.6"/>
<path d="M588 121 Q597 123.4 606 121" fill="none" stroke="#119911" stroke-width="0.5" opacity="0.6"/>
<path d="M588 124 Q597 126.4 606 124" fill="none" stroke="#119911" stroke-width="0.5" opacity="0.6"/>
<path d="M588 127 Q597 129.4 606 127" fill="none" stroke="#119911" stroke-width="0.5" opacity="0.6"/>
<path d="M588 130 Q597 132.4 606 130" fill="none" stroke="#119911" stroke-width="0.5" opacity="0.6"/>
<path d="M588 133 Q597 135.4 606 133" fill="none" stroke="#119911" stroke-width="0.5" opacity="0.6"/>
<path d="M588 136 Q597 138.4 606 136" fill="none" stroke="#119911" stroke-width="0.5" opacity="0.6"/>
<path d="M588 139 Q597 141.4 606 139" fill="none" stroke="#119911" stroke-width="0.5" opacity="0.6"/>
<path d="M588 142 Q597 144.4 606 142" fill="none" stroke="#119911" stroke-width="0.5" opacity="0.6"/>
<path d="M588 145 Q597 147.4 606 145" fill="none" stroke="#119911" stroke-width="0.5" opacity="0.6"/>
<path d="M588 148 Q597 150.4 606 148" fill="none" stroke="#119911" stroke-width="0.5" opacity="0.6"/>
<polygon points="620.2,47.3 622.4,46.8 624.8,46.6 627.5,46.8 630.2,47.3 632.9,48.1 635.5,49.2 637.9,50.7 640.0,52.4 641.8,54.4 643.0,56.6 643.8,58.9 644.0,61.2 643.7,62.8 642.9,64.4 641.5,65.9 639.8,67.3 639.8,70.7 641.5,68.8 642.9,66.7 643.7,64.4 644.0,62.0 643.8,60.3 643.0,58.7 641.8,57.2 640.0,55.8 637.9,54.5 635.5,53.4 632.9,52.5 630.2,51.7 627.5,51.2 624.8,50.9 622.4,50.7 620.2,50.7" fill="#cdc25c" stroke="#857d36" stroke-width="0.5" fill-opacity="0.9" stroke-opacity="0.9"/>
<polygon points="620.2,67.3 622.4,66.8 624.8,66.6 627.5,66.8 630.2,67.3 632.9,68.1 635.5,69.2 637.9,70.7 640.0,72.4 641.8,74.4 643.0,76.6 643.8,78.9 644.0,81.2 643.7,82.8 642.9,84.4 641.5,85.9 639.8,87.3 639.8,90.7 641.5,88.8 642.9,86.7 643.7,84.4 644.0,82.0 643.8,80.3 643.0,78.7 641.8,77.2 640.0,75.8 637.9,74.5 635.5,73.4 632.9,72.5 630.2,71.7 627.5,71.2 624.8,70.9 622.4,70.7 620.2,70.7" fill="#cdc25c" stroke="#857d36" stroke-width="0.5" fill-opacity="0.9" stroke-opacity="0.9"/>
<polygon points="620.2,87.3 622.4,86.8 624.8,86.6 627.5,86.8 630.2,87.3 632.9,88.1 635.5,89.2 637.9,90.7 640.0,92.4 641.8,94.4 643.0,96.6 643.8,98.9 644.0,101.2 643.7,102.8 642.9,104.4 641.5,105.9 639.8,107.3 639.8,110.7 641.5,108.8 642.9,106.7 643.7,104.4 644.0,102.0 643.8,100.3 643.0,98.7 641.8,97.2 640.0,95.8 637.9,94.5 635.5,93.4 632.9,92.5 630.2,91.7 627.5,91.2 624.8,90.9 622.4,90.7 620.2,90.7" fill="#cdc25c" stroke="#857d36" stroke-width="0.5" fill-opacity="0.9" stroke-opacity="0.9"/>
<polygon points="639.8,47.3 637.6,48.6 635.2,49.6 632.5,50.5 629.8,51.3 627.1,51.8 624.5,52.1 622.1,52.2 620.0,52.2 618.2,52.0 617.0,51.8 616.2,51.4 616.0,51.0 616.3,49.9 617.1,48.8 618.5,48.0 620.2,47.3 620.2,50.7 618.5,50.8 617.1,51.1 616.3,51.4 616.0,51.8 616.2,52.9 617.0,53.9 618.2,54.8 620.0,55.6 622.1,56.1 624.5,56.3 627.1,56.2 629.8,55.7 632.5,55.0 635.2,53.9 637.6,52.4 639.8,50.7" fill="#f0e67c" stroke="#8f883e" stroke-width="0.5" fill-opacity="0.9" stroke-opacity="0.9"/>
<polygon points="639.8,67.3 637.6,68.6 635.2,69.6 632.5,70.5 629.8,71.3 627.1,71.8 624.5,72.1 622.1,72.2 620.0,72.2 618.2,72.0 617.0,71.8 616.2,71.4 616.0,71.0 616.3,69.9 617.1,68.8 618.5,68.0 620.2,67.3 620.2,70.7 618.5,70.8 617.1,71.1 616.3,71.4 616.0,71.8 616.2,72.9 617.0,73.9 618.2,74.8 620.0,75.6 622.1,76.1 624.5,76.3 627.1,76.2 629.8,75.7 632.5,75.0 635.2,73.9 637.6,72.4 639.8,70.7" fill="#f0e67c" stroke="#8f883e" stroke-width="0.5" fill-opacity="0.9" stroke-opacity="0.9"/>
<polygon points="639.8,87.3 637.6,88.6 635.2,89.6 632.5,90.5 629.8,91.3 627.1,91.8 624.5,92.1 622.1,92.2 620.0,92.2 618.2,92.0 617.0,91.8 616.2,91.4 616.0,91.0 616.3,89.9 617.1,88.8 618.5,88.0 620.2,87.3 620.2,90.7 618.5,90.8 617.1,91.1 616.3,91.4 616.0,91.8 616.2,92.9 617.0,93.9 618.2,94.8 620.0,95.6 622.1,96.1 624.5,96.3 627.1,96.2 629.8,95.7 632.5,95.0 635.2,93.9 637.6,92.4 639.8,90.7" fill="#f0e67c" stroke="#8f883e" stroke-width="0.5" fill-opacity="0.9" stroke-opacity="0.9"/>
<path d="M552 97 C556 94, 560 93, 563 92.6 C567 90, 568 84, 570.8 80.8 C574 77.5, 578 76.5, 581.2 76.9 C587 78, 591 81, 594.3 84.7 C597 88, 598 93, 599.6 95.2 C603 98, 607 98.5, 610 97.8 C614 97, 617 95.5, 620.5 95.2 C623 96, 624 100, 622 104 C619 108, 622 113, 626 112" fill="none" stroke="#5a0000" stroke-width="2.6" stroke-linecap="round"/>
<path d="M552 97 C556 94, 560 93, 563 92.6 C567 90, 568 84, 570.8 80.8 C574 77.5, 578 76.5, 581.2 76.9 C587 78, 591 81, 594.3 84.7 C597 88, 598 93, 599.6 95.2 C603 98, 607 98.5, 610 97.8 C614 97, 617 95.5, 620.5 95.2 C623 96, 624 100, 622 104 C619 108, 622 113, 626 112" fill="none" stroke="#d01010" stroke-width="1.6" stroke-linecap="round"/>
<path d="M552 97 C549 100, 550 104, 553 104.7 C557 106, 562 102, 567.9 101.8 C572 102, 576 103, 577.6 105.7 C578 108, 574 110, 573.7 111.6 C573 115, 574 118, 575.7 119.4 C578 121, 582 121.5, 585.5 121.3 C588 122, 589 126, 586 128" fill="none" stroke="#5a0000" stroke-width="2.6" stroke-linecap="round"/>
<path d="M552 97 C549 100, 550 104, 553 104.7 C557 106, 562 102, 567.9 101.8 C572 102, 576 103, 577.6 105.7 C578 108, 574 110, 573.7 111.6 C573 115, 574 118, 575.7 119.4 C578 121, 582 121.5, 585.5 121.3 C588 122, 589 126, 586 128" fill="none" stroke="#d01010" stroke-width="1.6" stroke-linecap="round"/>
<path d="M575.7 135 C576 139, 577 143, 579.6 144.8 C582 146.5, 585 147, 587.4 146.7" fill="none" stroke="#5a0000" stroke-width="2.6" stroke-linecap="round"/>
<path d="M575.7 135 C576 139, 577 143, 579.6 144.8 C582 146.5, 585 147, 587.4 146.7" fill="none" stroke="#d01010" stroke-width="1.6" stroke-linecap="round"/>
<path d="M552 97 C549 98.5, 548.5 101, 550.5 102" fill="none" stroke="#5a0000" stroke-width="2.6" stroke-linecap="round"/>
<path d="M552 97 C549 98.5, 548.5 101, 550.5 102" fill="none" stroke="#d01010" stroke-width="1.6" stroke-linecap="round"/>
<line x1="573.7" y1="116.5" x2="565.9" y2="126.2" stroke="#111" stroke-width="0.8"/>
</g>
<text x="539.6" y="62.4" stroke="#fff" stroke-width="2.2" stroke-linejoin="round" paint-order="stroke" font-size="9.2">Tunnel 1</text>
<text x="542.5" y="135.2" stroke="#fff" stroke-width="2.2" stroke-linejoin="round" paint-order="stroke" font-size="9.2">NTH-S1</text>
<text x="542.5" y="147" stroke="#fff" stroke-width="2.2" stroke-linejoin="round" paint-order="stroke" font-size="9.2">Linker</text>
<text x="590.8" y="152.5" stroke="#fff" stroke-width="2.2" stroke-linejoin="round" paint-order="stroke" font-size="9.2">Tunnel 2</text>
<rect x="4" y="14.4" width="162.4" height="162" fill="none" stroke="#111" stroke-width="1.1"/>
<rect x="170.4" y="14.4" width="162.9" height="162" fill="none" stroke="#111" stroke-width="1.1"/>
<rect x="343.6" y="14.4" width="162.8" height="162" fill="none" stroke="#111" stroke-width="1.1"/>
<rect x="521.4" y="14.4" width="162.6" height="162" fill="none" stroke="#111" stroke-width="1.1"/>
<text x="1.2" y="8" font-size="11" font-weight="bold">a</text>
<text x="340.4" y="8" font-size="11" font-weight="bold">b</text>
<text x="518.6" y="8" font-size="11" font-weight="bold">d</text>
<text x="-0.2" y="198" font-size="11" font-weight="bold">c</text>
<line x1="48.9" y1="202.40" x2="48.9" y2="361.75" stroke="#2a2a2a" stroke-width="1.35"/>
<line x1="41.5" y1="361.10" x2="48.9" y2="361.10" stroke="#2a2a2a" stroke-width="1.35"/>
<text x="40.4" y="364.45" text-anchor="end" font-size="9.4">0</text>
<line x1="45.2" y1="341.34" x2="48.9" y2="341.34" stroke="#2a2a2a" stroke-width="1.35"/>
<line x1="41.5" y1="321.59" x2="48.9" y2="321.59" stroke="#2a2a2a" stroke-width="1.35"/>
<text x="40.4" y="324.94" text-anchor="end" font-size="9.4">500</text>
<line x1="45.2" y1="301.83" x2="48.9" y2="301.83" stroke="#2a2a2a" stroke-width="1.35"/>
<line x1="41.5" y1="282.08" x2="48.9" y2="282.08" stroke="#2a2a2a" stroke-width="1.35"/>
<text x="40.4" y="285.43" text-anchor="end" font-size="9.4">1000</text>
<line x1="45.2" y1="262.32" x2="48.9" y2="262.32" stroke="#2a2a2a" stroke-width="1.35"/>
<line x1="41.5" y1="242.56" x2="48.9" y2="242.56" stroke="#2a2a2a" stroke-width="1.35"/>
<text x="40.4" y="245.91" text-anchor="end" font-size="9.4">1500</text>
<line x1="45.2" y1="222.81" x2="48.9" y2="222.81" stroke="#2a2a2a" stroke-width="1.35"/>
<line x1="41.5" y1="203.05" x2="48.9" y2="203.05" stroke="#2a2a2a" stroke-width="1.35"/>
<text x="40.4" y="206.40" text-anchor="end" font-size="9.4">2000</text>
<line x1="61.2" y1="372.6" x2="319.1" y2="372.6" stroke="#2a2a2a" stroke-width="1.35"/>
<line x1="67.70" y1="372.6" x2="67.70" y2="379.8" stroke="#2a2a2a" stroke-width="1.35"/>
<text transform="translate(72.60,386.9) rotate(-45)" text-anchor="end" font-size="9.4">WT</text>
<line x1="86.56" y1="372.6" x2="86.56" y2="379.8" stroke="#2a2a2a" stroke-width="1.35"/>
<text transform="translate(91.46,386.9) rotate(-45)" text-anchor="end" font-size="9.4">tsA201</text>
<line x1="105.42" y1="372.6" x2="105.42" y2="379.8" stroke="#2a2a2a" stroke-width="1.35"/>
<text transform="translate(110.32,386.9) rotate(-45)" text-anchor="end" font-size="9.4">WT no GFP</text>
<line x1="124.28" y1="372.6" x2="124.28" y2="379.8" stroke="#2a2a2a" stroke-width="1.35"/>
<text transform="translate(129.18,386.9) rotate(-45)" text-anchor="end" font-size="9.4">L125A</text>
<line x1="143.14" y1="372.6" x2="143.14" y2="379.8" stroke="#2a2a2a" stroke-width="1.35"/>
<text transform="translate(148.04,386.9) rotate(-45)" text-anchor="end" font-size="9.4">L125F</text>
<line x1="162.00" y1="372.6" x2="162.00" y2="379.8" stroke="#2a2a2a" stroke-width="1.35"/>
<text transform="translate(166.90,386.9) rotate(-45)" text-anchor="end" font-size="9.4">I41A</text>
<line x1="180.86" y1="372.6" x2="180.86" y2="379.8" stroke="#2a2a2a" stroke-width="1.35"/>
<text transform="translate(185.76,386.9) rotate(-45)" text-anchor="end" font-size="9.4">I41F</text>
<line x1="199.72" y1="372.6" x2="199.72" y2="379.8" stroke="#2a2a2a" stroke-width="1.35"/>
<text transform="translate(204.62,386.9) rotate(-45)" text-anchor="end" font-size="9.4">C40A</text>
<line x1="218.58" y1="372.6" x2="218.58" y2="379.8" stroke="#2a2a2a" stroke-width="1.35"/>
<text transform="translate(223.48,386.9) rotate(-45)" text-anchor="end" font-size="9.4">C40F</text>
<line x1="237.44" y1="372.6" x2="237.44" y2="379.8" stroke="#2a2a2a" stroke-width="1.35"/>
<text transform="translate(242.34,386.9) rotate(-45)" text-anchor="end" font-size="9.4">V11A</text>
<line x1="256.30" y1="372.6" x2="256.30" y2="379.8" stroke="#2a2a2a" stroke-width="1.35"/>
<text transform="translate(261.20,386.9) rotate(-45)" text-anchor="end" font-size="9.4">V11F</text>
<line x1="275.16" y1="372.6" x2="275.16" y2="379.8" stroke="#2a2a2a" stroke-width="1.35"/>
<text transform="translate(280.06,386.9) rotate(-45)" text-anchor="end" font-size="9.4">R29A</text>
<line x1="294.02" y1="372.6" x2="294.02" y2="379.8" stroke="#2a2a2a" stroke-width="1.35"/>
<text transform="translate(298.92,386.9) rotate(-45)" text-anchor="end" font-size="9.4">A33W</text>
<line x1="312.88" y1="372.6" x2="312.88" y2="379.8" stroke="#2a2a2a" stroke-width="1.35"/>
<text transform="translate(317.78,386.9) rotate(-45)" text-anchor="end" font-size="9.4">Δ2-20</text>
<rect x="62.90" y="357" width="4.1" height="4.10" fill="#000"/>
<rect x="68.90" y="345" width="4.1" height="16.10" fill="#d4d4d4" stroke="#9a9a9a" stroke-width="0.5"/>
<line x1="64.90" y1="355.4" x2="70.90" y2="327.3" stroke="#444" stroke-width="0.7"/>
<line x1="64.90" y1="357" x2="70.90" y2="333.7" stroke="#444" stroke-width="0.7"/>
<line x1="64.90" y1="358.8" x2="70.90" y2="338.4" stroke="#444" stroke-width="0.7"/>
<circle cx="64.90" cy="355.4" r="2.65" fill="#fff" stroke="#222" stroke-width="1.05"/>
<circle cx="64.90" cy="358.8" r="2.65" fill="#fff" stroke="#222" stroke-width="1.05"/>
<circle cx="64.90" cy="357" r="2.65" fill="#fff" stroke="#222" stroke-width="1.05"/>
<circle cx="70.90" cy="327.3" r="2.65" fill="#fff" stroke="#ee4a44" stroke-width="1.05"/>
<circle cx="70.90" cy="333.7" r="2.65" fill="#fff" stroke="#ee4a44" stroke-width="1.05"/>
<circle cx="70.90" cy="338.4" r="2.65" fill="#fff" stroke="#ee4a44" stroke-width="1.05"/>
<circle cx="70.90" cy="343.4" r="2.65" fill="#fff" stroke="#ee4a44" stroke-width="1.05"/>
<circle cx="70.90" cy="348.9" r="2.65" fill="#fff" stroke="#ee4a44" stroke-width="1.05"/>
<circle cx="70.90" cy="351" r="2.65" fill="#fff" stroke="#ee4a44" stroke-width="1.05"/>
<rect x="81.76" y="359.8" width="4.1" height="1.30" fill="#000"/>
<rect x="87.76" y="359.5" width="4.1" height="1.60" fill="#d4d4d4" stroke="#9a9a9a" stroke-width="0.5"/>
<line x1="83.76" y1="358.5" x2="89.76" y2="358.3" stroke="#444" stroke-width="0.7"/>
<line x1="83.76" y1="359.6" x2="89.76" y2="360" stroke="#444" stroke-width="0.7"/>
<circle cx="83.76" cy="359.6" r="2.65" fill="#fff" stroke="#222" stroke-width="1.05"/>
<circle cx="83.76" cy="358.5" r="2.65" fill="#fff" stroke="#222" stroke-width="1.05"/>
<circle cx="89.76" cy="358.3" r="2.65" fill="#fff" stroke="#ee4a44" stroke-width="1.05"/>
<circle cx="89.76" cy="360" r="2.65" fill="#fff" stroke="#ee4a44" stroke-width="1.05"/>
<rect x="100.62" y="355" width="4.1" height="6.10" fill="#000"/>
<rect x="106.62" y="317.5" width="4.1" height="43.60" fill="#d4d4d4" stroke="#9a9a9a" stroke-width="0.5"/>
<line x1="102.62" y1="351" x2="108.62" y2="278.6" stroke="#444" stroke-width="0.7"/>
<line x1="102.62" y1="354" x2="108.62" y2="310" stroke="#444" stroke-width="0.7"/>
<line x1="102.62" y1="357" x2="108.62" y2="323.2" stroke="#444" stroke-width="0.7"/>
<line x1="102.62" y1="359" x2="108.62" y2="327" stroke="#444" stroke-width="0.7"/>
<circle cx="102.62" cy="351" r="2.65" fill="#fff" stroke="#222" stroke-width="1.05"/>
<circle cx="102.62" cy="357" r="2.65" fill="#fff" stroke="#222" stroke-width="1.05"/>
<circle cx="102.62" cy="354" r="2.65" fill="#fff" stroke="#222" stroke-width="1.05"/>
<circle cx="102.62" cy="359" r="2.65" fill="#fff" stroke="#222" stroke-width="1.05"/>
<circle cx="108.62" cy="278.6" r="2.65" fill="#fff" stroke="#ee4a44" stroke-width="1.05"/>
<circle cx="108.62" cy="310" r="2.65" fill="#fff" stroke="#ee4a44" stroke-width="1.05"/>
<circle cx="108.62" cy="323.2" r="2.65" fill="#fff" stroke="#ee4a44" stroke-width="1.05"/>
<circle cx="108.62" cy="327" r="2.65" fill="#fff" stroke="#ee4a44" stroke-width="1.05"/>
<circle cx="108.62" cy="337.4" r="2.65" fill="#fff" stroke="#ee4a44" stroke-width="1.05"/>
<rect x="119.48" y="304" width="4.1" height="57.10" fill="#000"/>
<rect x="125.48" y="319" width="4.1" height="42.10" fill="#d4d4d4" stroke="#9a9a9a" stroke-width="0.5"/>
<line x1="121.48" y1="261.5" x2="127.48" y2="293" stroke="#444" stroke-width="0.7"/>
<line x1="121.48" y1="298.2" x2="127.48" y2="304.7" stroke="#444" stroke-width="0.7"/>
<line x1="121.48" y1="302" x2="127.48" y2="307.4" stroke="#444" stroke-width="0.7"/>
<line x1="121.48" y1="306" x2="127.48" y2="311.3" stroke="#444" stroke-width="0.7"/>
<line x1="121.48" y1="349.2" x2="127.48" y2="349.8" stroke="#444" stroke-width="0.7"/>
<line x1="121.48" y1="353" x2="127.48" y2="355" stroke="#444" stroke-width="0.7"/>
<circle cx="121.48" cy="261.5" r="2.65" fill="#fff" stroke="#222" stroke-width="1.05"/>
<circle cx="121.48" cy="298.2" r="2.65" fill="#fff" stroke="#222" stroke-width="1.05"/>
<circle cx="121.48" cy="302" r="2.65" fill="#fff" stroke="#222" stroke-width="1.05"/>
<circle cx="121.48" cy="306" r="2.65" fill="#fff" stroke="#222" stroke-width="1.05"/>
<circle cx="121.48" cy="349.2" r="2.65" fill="#fff" stroke="#222" stroke-width="1.05"/>
<circle cx="121.48" cy="353" r="2.65" fill="#fff" stroke="#222" stroke-width="1.05"/>
<circle cx="127.48" cy="293" r="2.65" fill="#fff" stroke="#ee4a44" stroke-width="1.05"/>
<circle cx="127.48" cy="304.7" r="2.65" fill="#fff" stroke="#ee4a44" stroke-width="1.05"/>
<circle cx="127.48" cy="307.4" r="2.65" fill="#fff" stroke="#ee4a44" stroke-width="1.05"/>
<circle cx="127.48" cy="311.3" r="2.65" fill="#fff" stroke="#ee4a44" stroke-width="1.05"/>
<circle cx="127.48" cy="349.8" r="2.65" fill="#fff" stroke="#ee4a44" stroke-width="1.05"/>
<circle cx="127.48" cy="355" r="2.65" fill="#fff" stroke="#ee4a44" stroke-width="1.05"/>
<rect x="138.34" y="323.6" width="4.1" height="37.50" fill="#000"/>
<rect x="144.34" y="321.2" width="4.1" height="39.90" fill="#d4d4d4" stroke="#9a9a9a" stroke-width="0.5"/>
<line x1="140.34" y1="273.8" x2="146.34" y2="265.5" stroke="#444" stroke-width="0.7"/>
<line x1="140.34" y1="302.6" x2="146.34" y2="272.8" stroke="#444" stroke-width="0.7"/>
<line x1="140.34" y1="318.6" x2="146.34" y2="333.5" stroke="#444" stroke-width="0.7"/>
<line x1="140.34" y1="334.8" x2="146.34" y2="341.4" stroke="#444" stroke-width="0.7"/>
<line x1="140.34" y1="351.9" x2="146.34" y2="354" stroke="#444" stroke-width="0.7"/>
<line x1="140.34" y1="354.5" x2="146.34" y2="355.8" stroke="#444" stroke-width="0.7"/>
<circle cx="140.34" cy="273.8" r="2.65" fill="#fff" stroke="#222" stroke-width="1.05"/>
<circle cx="140.34" cy="302.6" r="2.65" fill="#fff" stroke="#222" stroke-width="1.05"/>
<circle cx="140.34" cy="318.6" r="2.65" fill="#fff" stroke="#222" stroke-width="1.05"/>
<circle cx="140.34" cy="334.8" r="2.65" fill="#fff" stroke="#222" stroke-width="1.05"/>
<circle cx="140.34" cy="351.9" r="2.65" fill="#fff" stroke="#222" stroke-width="1.05"/>
<circle cx="140.34" cy="354.5" r="2.65" fill="#fff" stroke="#222" stroke-width="1.05"/>
<circle cx="146.34" cy="265.5" r="2.65" fill="#fff" stroke="#ee4a44" stroke-width="1.05"/>
<circle cx="146.34" cy="272.8" r="2.65" fill="#fff" stroke="#ee4a44" stroke-width="1.05"/>
<circle cx="146.34" cy="333.5" r="2.65" fill="#fff" stroke="#ee4a44" stroke-width="1.05"/>
<circle cx="146.34" cy="341.4" r="2.65" fill="#fff" stroke="#ee4a44" stroke-width="1.05"/>
<circle cx="146.34" cy="354" r="2.65" fill="#fff" stroke="#ee4a44" stroke-width="1.05"/>
<circle cx="146.34" cy="355.8" r="2.65" fill="#fff" stroke="#ee4a44" stroke-width="1.05"/>
<rect x="157.20" y="337.5" width="4.1" height="23.60" fill="#000"/>
<rect x="163.20" y="340" width="4.1" height="21.10" fill="#d4d4d4" stroke="#9a9a9a" stroke-width="0.5"/>
<line x1="159.20" y1="303.75" x2="165.20" y2="282" stroke="#444" stroke-width="0.7"/>
<line x1="159.20" y1="322.5" x2="165.20" y2="336.25" stroke="#444" stroke-width="0.7"/>
<line x1="159.20" y1="333.25" x2="165.20" y2="346.25" stroke="#444" stroke-width="0.7"/>
<line x1="159.20" y1="337.5" x2="165.20" y2="348.75" stroke="#444" stroke-width="0.7"/>
<line x1="159.20" y1="348" x2="165.20" y2="352" stroke="#444" stroke-width="0.7"/>
<line x1="159.20" y1="349" x2="165.20" y2="357" stroke="#444" stroke-width="0.7"/>
<circle cx="159.20" cy="303.75" r="2.65" fill="#fff" stroke="#222" stroke-width="1.05"/>
<circle cx="159.20" cy="322.5" r="2.65" fill="#fff" stroke="#222" stroke-width="1.05"/>
<circle cx="159.20" cy="333.25" r="2.65" fill="#fff" stroke="#222" stroke-width="1.05"/>
<circle cx="159.20" cy="337.5" r="2.65" fill="#fff" stroke="#222" stroke-width="1.05"/>
<circle cx="159.20" cy="348" r="2.65" fill="#fff" stroke="#222" stroke-width="1.05"/>
<circle cx="159.20" cy="349" r="2.65" fill="#fff" stroke="#222" stroke-width="1.05"/>
<circle cx="165.20" cy="282" r="2.65" fill="#fff" stroke="#ee4a44" stroke-width="1.05"/>
<circle cx="165.20" cy="336.25" r="2.65" fill="#fff" stroke="#ee4a44" stroke-width="1.05"/>
<circle cx="165.20" cy="346.25" r="2.65" fill="#fff" stroke="#ee4a44" stroke-width="1.05"/>
<circle cx="165.20" cy="348.75" r="2.65" fill="#fff" stroke="#ee4a44" stroke-width="1.05"/>
<circle cx="165.20" cy="357" r="2.65" fill="#fff" stroke="#ee4a44" stroke-width="1.05"/>
<circle cx="165.20" cy="352" r="2.65" fill="#fff" stroke="#ee4a44" stroke-width="1.05"/>
<rect x="176.06" y="310" width="4.1" height="51.10" fill="#000"/>
<rect x="182.06" y="313.75" width="4.1" height="47.35" fill="#d4d4d4" stroke="#9a9a9a" stroke-width="0.5"/>
<line x1="178.06" y1="284.5" x2="184.06" y2="291.75" stroke="#444" stroke-width="0.7"/>
<line x1="178.06" y1="290" x2="184.06" y2="307.5" stroke="#444" stroke-width="0.7"/>
<line x1="178.06" y1="303.75" x2="184.06" y2="312.5" stroke="#444" stroke-width="0.7"/>
<line x1="178.06" y1="307" x2="184.06" y2="317" stroke="#444" stroke-width="0.7"/>
<line x1="178.06" y1="309.5" x2="184.06" y2="321.25" stroke="#444" stroke-width="0.7"/>
<line x1="178.06" y1="344.5" x2="184.06" y2="346.25" stroke="#444" stroke-width="0.7"/>
<circle cx="178.06" cy="284.5" r="2.65" fill="#fff" stroke="#222" stroke-width="1.05"/>
<circle cx="178.06" cy="290" r="2.65" fill="#fff" stroke="#222" stroke-width="1.05"/>
<circle cx="178.06" cy="303.75" r="2.65" fill="#fff" stroke="#222" stroke-width="1.05"/>
<circle cx="178.06" cy="307" r="2.65" fill="#fff" stroke="#222" stroke-width="1.05"/>
<circle cx="178.06" cy="309.5" r="2.65" fill="#fff" stroke="#222" stroke-width="1.05"/>
<circle cx="178.06" cy="344.5" r="2.65" fill="#fff" stroke="#222" stroke-width="1.05"/>
<circle cx="184.06" cy="291.75" r="2.65" fill="#fff" stroke="#ee4a44" stroke-width="1.05"/>
<circle cx="184.06" cy="307.5" r="2.65" fill="#fff" stroke="#ee4a44" stroke-width="1.05"/>
<circle cx="184.06" cy="312.5" r="2.65" fill="#fff" stroke="#ee4a44" stroke-width="1.05"/>
<circle cx="184.06" cy="317" r="2.65" fill="#fff" stroke="#ee4a44" stroke-width="1.05"/>
<circle cx="184.06" cy="321.25" r="2.65" fill="#fff" stroke="#ee4a44" stroke-width="1.05"/>
<circle cx="184.06" cy="346.25" r="2.65" fill="#fff" stroke="#ee4a44" stroke-width="1.05"/>
<rect x="194.92" y="313.75" width="4.1" height="47.35" fill="#000"/>
<rect x="200.92" y="332.5" width="4.1" height="28.60" fill="#d4d4d4" stroke="#9a9a9a" stroke-width="0.5"/>
<line x1="196.92" y1="289.5" x2="202.92" y2="316.25" stroke="#444" stroke-width="0.7"/>
<line x1="196.92" y1="308.75" x2="202.92" y2="318" stroke="#444" stroke-width="0.7"/>
<line x1="196.92" y1="311.25" x2="202.92" y2="319.25" stroke="#444" stroke-width="0.7"/>
<line x1="196.92" y1="320" x2="202.92" y2="337.5" stroke="#444" stroke-width="0.7"/>
<line x1="196.92" y1="327.5" x2="202.92" y2="342.5" stroke="#444" stroke-width="0.7"/>
<circle cx="196.92" cy="289.5" r="2.65" fill="#fff" stroke="#222" stroke-width="1.05"/>
<circle cx="196.92" cy="308.75" r="2.65" fill="#fff" stroke="#222" stroke-width="1.05"/>
<circle cx="196.92" cy="311.25" r="2.65" fill="#fff" stroke="#222" stroke-width="1.05"/>
<circle cx="196.92" cy="320" r="2.65" fill="#fff" stroke="#222" stroke-width="1.05"/>
<circle cx="196.92" cy="327.5" r="2.65" fill="#fff" stroke="#222" stroke-width="1.05"/>
<circle cx="202.92" cy="316.25" r="2.65" fill="#fff" stroke="#ee4a44" stroke-width="1.05"/>
<circle cx="202.92" cy="319.25" r="2.65" fill="#fff" stroke="#ee4a44" stroke-width="1.05"/>
<circle cx="202.92" cy="337.5" r="2.65" fill="#fff" stroke="#ee4a44" stroke-width="1.05"/>
<circle cx="202.92" cy="342.5" r="2.65" fill="#fff" stroke="#ee4a44" stroke-width="1.05"/>
<circle cx="202.92" cy="318" r="2.65" fill="#fff" stroke="#ee4a44" stroke-width="1.05"/>
<rect x="213.78" y="358" width="4.1" height="3.10" fill="#000"/>
<rect x="219.78" y="303.75" width="4.1" height="57.35" fill="#d4d4d4" stroke="#9a9a9a" stroke-width="0.5"/>
<line x1="215.78" y1="356" x2="221.78" y2="270.5" stroke="#444" stroke-width="0.7"/>
<line x1="215.78" y1="357.5" x2="221.78" y2="280.5" stroke="#444" stroke-width="0.7"/>
<line x1="215.78" y1="357.5" x2="221.78" y2="291.25" stroke="#444" stroke-width="0.7"/>
<line x1="215.78" y1="358" x2="221.78" y2="296.25" stroke="#444" stroke-width="0.7"/>
<line x1="215.78" y1="358.75" x2="221.78" y2="338.75" stroke="#444" stroke-width="0.7"/>
<line x1="215.78" y1="359" x2="221.78" y2="345.75" stroke="#444" stroke-width="0.7"/>
<circle cx="215.78" cy="358.75" r="2.65" fill="#fff" stroke="#222" stroke-width="1.05"/>
<circle cx="215.78" cy="357.5" r="2.65" fill="#fff" stroke="#222" stroke-width="1.05"/>
<circle cx="215.78" cy="359" r="2.65" fill="#fff" stroke="#222" stroke-width="1.05"/>
<circle cx="215.78" cy="358" r="2.65" fill="#fff" stroke="#222" stroke-width="1.05"/>
<circle cx="215.78" cy="356" r="2.65" fill="#fff" stroke="#222" stroke-width="1.05"/>
<circle cx="215.78" cy="357.5" r="2.65" fill="#fff" stroke="#222" stroke-width="1.05"/>
<circle cx="221.78" cy="270.5" r="2.65" fill="#fff" stroke="#ee4a44" stroke-width="1.05"/>
<circle cx="221.78" cy="280.5" r="2.65" fill="#fff" stroke="#ee4a44" stroke-width="1.05"/>
<circle cx="221.78" cy="291.25" r="2.65" fill="#fff" stroke="#ee4a44" stroke-width="1.05"/>
<circle cx="221.78" cy="296.25" r="2.65" fill="#fff" stroke="#ee4a44" stroke-width="1.05"/>
<circle cx="221.78" cy="338.75" r="2.65" fill="#fff" stroke="#ee4a44" stroke-width="1.05"/>
<circle cx="221.78" cy="345.75" r="2.65" fill="#fff" stroke="#ee4a44" stroke-width="1.05"/>
<rect x="232.64" y="356" width="4.1" height="5.10" fill="#000"/>
<rect x="238.64" y="350" width="4.1" height="11.10" fill="#d4d4d4" stroke="#9a9a9a" stroke-width="0.5"/>
<line x1="234.64" y1="355" x2="240.64" y2="322.1" stroke="#444" stroke-width="0.7"/>
<line x1="234.64" y1="356" x2="240.64" y2="337.6" stroke="#444" stroke-width="0.7"/>
<line x1="234.64" y1="357" x2="240.64" y2="343.6" stroke="#444" stroke-width="0.7"/>
<line x1="234.64" y1="358" x2="240.64" y2="350.3" stroke="#444" stroke-width="0.7"/>
<line x1="234.64" y1="358.8" x2="240.64" y2="353.4" stroke="#444" stroke-width="0.7"/>
<circle cx="234.64" cy="355" r="2.65" fill="#fff" stroke="#222" stroke-width="1.05"/>
<circle cx="234.64" cy="358.8" r="2.65" fill="#fff" stroke="#222" stroke-width="1.05"/>
<circle cx="234.64" cy="357" r="2.65" fill="#fff" stroke="#222" stroke-width="1.05"/>
<circle cx="234.64" cy="356" r="2.65" fill="#fff" stroke="#222" stroke-width="1.05"/>
<circle cx="234.64" cy="358" r="2.65" fill="#fff" stroke="#222" stroke-width="1.05"/>
<circle cx="240.64" cy="322.1" r="2.65" fill="#fff" stroke="#ee4a44" stroke-width="1.05"/>
<circle cx="240.64" cy="337.6" r="2.65" fill="#fff" stroke="#ee4a44" stroke-width="1.05"/>
<circle cx="240.64" cy="343.6" r="2.65" fill="#fff" stroke="#ee4a44" stroke-width="1.05"/>
<circle cx="240.64" cy="350.3" r="2.65" fill="#fff" stroke="#ee4a44" stroke-width="1.05"/>
<circle cx="240.64" cy="353.4" r="2.65" fill="#fff" stroke="#ee4a44" stroke-width="1.05"/>
<circle cx="240.64" cy="358.8" r="2.65" fill="#fff" stroke="#ee4a44" stroke-width="1.05"/>
<rect x="251.50" y="354.2" width="4.1" height="6.90" fill="#000"/>
<rect x="257.50" y="265.5" width="4.1" height="95.60" fill="#d4d4d4" stroke="#9a9a9a" stroke-width="0.5"/>
<line x1="253.50" y1="343.3" x2="259.50" y2="211.4" stroke="#444" stroke-width="0.7"/>
<line x1="253.50" y1="349.5" x2="259.50" y2="217.1" stroke="#444" stroke-width="0.7"/>
<line x1="253.50" y1="352" x2="259.50" y2="229" stroke="#444" stroke-width="0.7"/>
<line x1="253.50" y1="355" x2="259.50" y2="288.6" stroke="#444" stroke-width="0.7"/>
<line x1="253.50" y1="356" x2="259.50" y2="321.7" stroke="#444" stroke-width="0.7"/>
<line x1="253.50" y1="357" x2="259.50" y2="324" stroke="#444" stroke-width="0.7"/>
<circle cx="253.50" cy="343.3" r="2.65" fill="#fff" stroke="#222" stroke-width="1.05"/>
<circle cx="253.50" cy="349.5" r="2.65" fill="#fff" stroke="#222" stroke-width="1.05"/>
<circle cx="253.50" cy="355" r="2.65" fill="#fff" stroke="#222" stroke-width="1.05"/>
<circle cx="253.50" cy="352" r="2.65" fill="#fff" stroke="#222" stroke-width="1.05"/>
<circle cx="253.50" cy="357" r="2.65" fill="#fff" stroke="#222" stroke-width="1.05"/>
<circle cx="253.50" cy="356" r="2.65" fill="#fff" stroke="#222" stroke-width="1.05"/>
<circle cx="259.50" cy="211.4" r="2.65" fill="#fff" stroke="#ee4a44" stroke-width="1.05"/>
<circle cx="259.50" cy="217.1" r="2.65" fill="#fff" stroke="#ee4a44" stroke-width="1.05"/>
<circle cx="259.50" cy="229" r="2.65" fill="#fff" stroke="#ee4a44" stroke-width="1.05"/>
<circle cx="259.50" cy="288.6" r="2.65" fill="#fff" stroke="#ee4a44" stroke-width="1.05"/>
<circle cx="259.50" cy="321.7" r="2.65" fill="#fff" stroke="#ee4a44" stroke-width="1.05"/>
<circle cx="259.50" cy="324" r="2.65" fill="#fff" stroke="#ee4a44" stroke-width="1.05"/>
<rect x="270.36" y="298.3" width="4.1" height="62.80" fill="#000"/>
<rect x="276.36" y="310.3" width="4.1" height="50.80" fill="#d4d4d4" stroke="#9a9a9a" stroke-width="0.5"/>
<line x1="272.36" y1="276.3" x2="278.36" y2="285.4" stroke="#444" stroke-width="0.7"/>
<line x1="272.36" y1="285" x2="278.36" y2="299" stroke="#444" stroke-width="0.7"/>
<line x1="272.36" y1="285.4" x2="278.36" y2="301.2" stroke="#444" stroke-width="0.7"/>
<line x1="272.36" y1="311.9" x2="278.36" y2="320.9" stroke="#444" stroke-width="0.7"/>
<line x1="272.36" y1="314.8" x2="278.36" y2="326.1" stroke="#444" stroke-width="0.7"/>
<circle cx="272.36" cy="276.3" r="2.65" fill="#fff" stroke="#222" stroke-width="1.05"/>
<circle cx="272.36" cy="285.4" r="2.65" fill="#fff" stroke="#222" stroke-width="1.05"/>
<circle cx="272.36" cy="311.9" r="2.65" fill="#fff" stroke="#222" stroke-width="1.05"/>
<circle cx="272.36" cy="314.8" r="2.65" fill="#fff" stroke="#222" stroke-width="1.05"/>
<circle cx="272.36" cy="285" r="2.65" fill="#fff" stroke="#222" stroke-width="1.05"/>
<circle cx="278.36" cy="285.4" r="2.65" fill="#fff" stroke="#ee4a44" stroke-width="1.05"/>
<circle cx="278.36" cy="299" r="2.65" fill="#fff" stroke="#ee4a44" stroke-width="1.05"/>
<circle cx="278.36" cy="301.2" r="2.65" fill="#fff" stroke="#ee4a44" stroke-width="1.05"/>
<circle cx="278.36" cy="320.9" r="2.65" fill="#fff" stroke="#ee4a44" stroke-width="1.05"/>
<circle cx="278.36" cy="326.1" r="2.65" fill="#fff" stroke="#ee4a44" stroke-width="1.05"/>
<rect x="289.22" y="357.5" width="4.1" height="3.60" fill="#000"/>
<rect x="295.22" y="357" width="4.1" height="4.10" fill="#d4d4d4" stroke="#9a9a9a" stroke-width="0.5"/>
<line x1="291.22" y1="353.7" x2="297.22" y2="354.8" stroke="#444" stroke-width="0.7"/>
<line x1="291.22" y1="357" x2="297.22" y2="357" stroke="#444" stroke-width="0.7"/>
<line x1="291.22" y1="360" x2="297.22" y2="359.4" stroke="#444" stroke-width="0.7"/>
<circle cx="291.22" cy="353.7" r="2.65" fill="#fff" stroke="#222" stroke-width="1.05"/>
<circle cx="291.22" cy="360" r="2.65" fill="#fff" stroke="#222" stroke-width="1.05"/>
<circle cx="291.22" cy="357" r="2.65" fill="#fff" stroke="#222" stroke-width="1.05"/>
<circle cx="297.22" cy="354.8" r="2.65" fill="#fff" stroke="#ee4a44" stroke-width="1.05"/>
<circle cx="297.22" cy="359.4" r="2.65" fill="#fff" stroke="#ee4a44" stroke-width="1.05"/>
<circle cx="297.22" cy="357" r="2.65" fill="#fff" stroke="#ee4a44" stroke-width="1.05"/>
<rect x="308.08" y="359.5" width="4.1" height="1.60" fill="#000"/>
<rect x="314.08" y="359.5" width="4.1" height="1.60" fill="#d4d4d4" stroke="#9a9a9a" stroke-width="0.5"/>
<line x1="310.08" y1="358.5" x2="316.08" y2="358.8" stroke="#444" stroke-width="0.7"/>
<line x1="310.08" y1="359.4" x2="316.08" y2="359.4" stroke="#444" stroke-width="0.7"/>
<circle cx="310.08" cy="359.4" r="2.65" fill="#fff" stroke="#222" stroke-width="1.05"/>
<circle cx="310.08" cy="358.5" r="2.65" fill="#fff" stroke="#222" stroke-width="1.05"/>
<circle cx="316.08" cy="359.4" r="2.65" fill="#fff" stroke="#ee4a44" stroke-width="1.05"/>
<circle cx="316.08" cy="358.8" r="2.65" fill="#fff" stroke="#ee4a44" stroke-width="1.05"/>
<line x1="56.1" y1="209.7" x2="68.6" y2="209.7" stroke="#f0433a" stroke-width="0.8"/>
<circle cx="62.4" cy="209.7" r="2.3" fill="#fff" stroke="#f0433a" stroke-width="0.8"/>
<text x="71.4" y="212.9" font-size="9.35">Mefloquine (R*, S*)</text>
<line x1="56.1" y1="223.5" x2="68.6" y2="223.5" stroke="#111" stroke-width="0.8"/>
<circle cx="62.4" cy="223.5" r="2.4" fill="#000"/>
<text x="71.4" y="226.7" font-size="9.35">Bath</text>
<text transform="translate(12.6,294) rotate(-90)" font-size="9">pA/pF</text>
<line x1="350.1" y1="201.90" x2="350.1" y2="360.55" stroke="#2a2a2a" stroke-width="1.35"/>
<line x1="343.2" y1="359.90" x2="350.1" y2="359.90" stroke="#2a2a2a" stroke-width="1.35"/>
<text x="340.3" y="363.25" text-anchor="end" font-size="9.4">0</text>
<line x1="346.4" y1="333.67" x2="350.1" y2="333.67" stroke="#2a2a2a" stroke-width="1.35"/>
<line x1="343.2" y1="307.45" x2="350.1" y2="307.45" stroke="#2a2a2a" stroke-width="1.35"/>
<text x="340.3" y="310.80" text-anchor="end" font-size="9.4">200</text>
<line x1="346.4" y1="281.22" x2="350.1" y2="281.22" stroke="#2a2a2a" stroke-width="1.35"/>
<line x1="343.2" y1="255.00" x2="350.1" y2="255.00" stroke="#2a2a2a" stroke-width="1.35"/>
<text x="340.3" y="258.35" text-anchor="end" font-size="9.4">400</text>
<line x1="346.4" y1="228.77" x2="350.1" y2="228.77" stroke="#2a2a2a" stroke-width="1.35"/>
<line x1="343.2" y1="202.55" x2="350.1" y2="202.55" stroke="#2a2a2a" stroke-width="1.35"/>
<text x="340.3" y="205.90" text-anchor="end" font-size="9.4">600</text>
<line x1="359.2" y1="372.6" x2="506.9" y2="372.6" stroke="#2a2a2a" stroke-width="1.35"/>
<line x1="371.20" y1="372.6" x2="371.20" y2="379.4" stroke="#2a2a2a" stroke-width="1.35"/>
<text transform="translate(376.10,386.7) rotate(-45)" text-anchor="end" font-size="9.4">tsA201</text>
<line x1="400.92" y1="372.6" x2="400.92" y2="379.4" stroke="#2a2a2a" stroke-width="1.35"/>
<text transform="translate(405.82,386.7) rotate(-45)" text-anchor="end" font-size="9.4">WT</text>
<line x1="430.64" y1="372.6" x2="430.64" y2="379.4" stroke="#2a2a2a" stroke-width="1.35"/>
<text transform="translate(435.54,386.7) rotate(-45)" text-anchor="end" font-size="9.4">V11A</text>
<line x1="460.36" y1="372.6" x2="460.36" y2="379.4" stroke="#2a2a2a" stroke-width="1.35"/>
<text transform="translate(465.26,386.7) rotate(-45)" text-anchor="end" font-size="9.4">A33W</text>
<line x1="490.08" y1="372.6" x2="490.08" y2="379.4" stroke="#2a2a2a" stroke-width="1.35"/>
<text transform="translate(494.98,386.7) rotate(-45)" text-anchor="end" font-size="9.4">Δ2-20</text>
<rect x="362.10" y="356" width="6.8" height="3.90" fill="#000"/>
<rect x="372.90" y="355.5" width="8.8" height="4.40" fill="#d4d4d4" stroke="#9a9a9a" stroke-width="0.5"/>
<line x1="365.50" y1="351.4" x2="376.70" y2="349.6" stroke="#444" stroke-width="0.7"/>
<line x1="365.50" y1="356" x2="376.70" y2="353.7" stroke="#444" stroke-width="0.7"/>
<line x1="365.50" y1="357.1" x2="376.70" y2="357.8" stroke="#444" stroke-width="0.7"/>
<circle cx="365.50" cy="351.4" r="2.65" fill="#fff" stroke="#222" stroke-width="1.05"/>
<circle cx="365.50" cy="356" r="2.65" fill="#fff" stroke="#222" stroke-width="1.05"/>
<circle cx="365.50" cy="357.1" r="2.65" fill="#fff" stroke="#222" stroke-width="1.05"/>
<circle cx="376.70" cy="349.6" r="2.65" fill="#fff" stroke="#ee4a44" stroke-width="1.05"/>
<circle cx="376.70" cy="353.7" r="2.65" fill="#fff" stroke="#ee4a44" stroke-width="1.05"/>
<circle cx="376.70" cy="357.8" r="2.65" fill="#fff" stroke="#ee4a44" stroke-width="1.05"/>
<rect x="391.82" y="350.3" width="6.8" height="9.60" fill="#000"/>
<rect x="402.62" y="296" width="8.8" height="63.90" fill="#d4d4d4" stroke="#9a9a9a" stroke-width="0.5"/>
<line x1="395.22" y1="340.1" x2="406.42" y2="246.3" stroke="#444" stroke-width="0.7"/>
<line x1="395.22" y1="344.7" x2="406.42" y2="268.6" stroke="#444" stroke-width="0.7"/>
<line x1="395.22" y1="348" x2="406.42" y2="283.5" stroke="#444" stroke-width="0.7"/>
<line x1="395.22" y1="350" x2="406.42" y2="300" stroke="#444" stroke-width="0.7"/>
<line x1="395.22" y1="352.6" x2="406.42" y2="320.8" stroke="#444" stroke-width="0.7"/>
<line x1="395.22" y1="354.8" x2="406.42" y2="326.7" stroke="#444" stroke-width="0.7"/>
<line x1="395.22" y1="356" x2="406.42" y2="355" stroke="#444" stroke-width="0.7"/>
<circle cx="395.22" cy="340.1" r="2.65" fill="#fff" stroke="#222" stroke-width="1.05"/>
<circle cx="395.22" cy="344.7" r="2.65" fill="#fff" stroke="#222" stroke-width="1.05"/>
<circle cx="395.22" cy="352.6" r="2.65" fill="#fff" stroke="#222" stroke-width="1.05"/>
<circle cx="395.22" cy="354.8" r="2.65" fill="#fff" stroke="#222" stroke-width="1.05"/>
<circle cx="395.22" cy="356" r="2.65" fill="#fff" stroke="#222" stroke-width="1.05"/>
<circle cx="395.22" cy="350" r="2.65" fill="#fff" stroke="#222" stroke-width="1.05"/>
<circle cx="395.22" cy="348" r="2.65" fill="#fff" stroke="#222" stroke-width="1.05"/>
<circle cx="406.42" cy="246.3" r="2.65" fill="#fff" stroke="#ee4a44" stroke-width="1.05"/>
<circle cx="406.42" cy="268.6" r="2.65" fill="#fff" stroke="#ee4a44" stroke-width="1.05"/>
<circle cx="406.42" cy="283.5" r="2.65" fill="#fff" stroke="#ee4a44" stroke-width="1.05"/>
<circle cx="406.42" cy="300" r="2.65" fill="#fff" stroke="#ee4a44" stroke-width="1.05"/>
<circle cx="406.42" cy="320.8" r="2.65" fill="#fff" stroke="#ee4a44" stroke-width="1.05"/>
<circle cx="406.42" cy="326.7" r="2.65" fill="#fff" stroke="#ee4a44" stroke-width="1.05"/>
<circle cx="406.42" cy="355" r="2.65" fill="#fff" stroke="#ee4a44" stroke-width="1.05"/>
<rect x="421.54" y="352" width="6.8" height="7.90" fill="#000"/>
<rect x="432.34" y="320.8" width="8.8" height="39.10" fill="#d4d4d4" stroke="#9a9a9a" stroke-width="0.5"/>
<line x1="424.94" y1="339.2" x2="436.14" y2="231.4" stroke="#444" stroke-width="0.7"/>
<line x1="424.94" y1="345" x2="436.14" y2="282.4" stroke="#444" stroke-width="0.7"/>
<line x1="424.94" y1="349" x2="436.14" y2="301.2" stroke="#444" stroke-width="0.7"/>
<line x1="424.94" y1="351" x2="436.14" y2="325.5" stroke="#444" stroke-width="0.7"/>
<line x1="424.94" y1="353" x2="436.14" y2="331.4" stroke="#444" stroke-width="0.7"/>
<line x1="424.94" y1="355" x2="436.14" y2="337.3" stroke="#444" stroke-width="0.7"/>
<circle cx="424.94" cy="339.2" r="2.65" fill="#fff" stroke="#222" stroke-width="1.05"/>
<circle cx="424.94" cy="345" r="2.65" fill="#fff" stroke="#222" stroke-width="1.05"/>
<circle cx="424.94" cy="351" r="2.65" fill="#fff" stroke="#222" stroke-width="1.05"/>
<circle cx="424.94" cy="355" r="2.65" fill="#fff" stroke="#222" stroke-width="1.05"/>
<circle cx="424.94" cy="349" r="2.65" fill="#fff" stroke="#222" stroke-width="1.05"/>
<circle cx="424.94" cy="353" r="2.65" fill="#fff" stroke="#222" stroke-width="1.05"/>
<circle cx="436.14" cy="231.4" r="2.65" fill="#fff" stroke="#ee4a44" stroke-width="1.05"/>
<circle cx="436.14" cy="282.4" r="2.65" fill="#fff" stroke="#ee4a44" stroke-width="1.05"/>
<circle cx="436.14" cy="301.2" r="2.65" fill="#fff" stroke="#ee4a44" stroke-width="1.05"/>
<circle cx="436.14" cy="325.5" r="2.65" fill="#fff" stroke="#ee4a44" stroke-width="1.05"/>
<circle cx="436.14" cy="331.4" r="2.65" fill="#fff" stroke="#ee4a44" stroke-width="1.05"/>
<circle cx="436.14" cy="337.3" r="2.65" fill="#fff" stroke="#ee4a44" stroke-width="1.05"/>
<circle cx="436.14" cy="343.1" r="2.65" fill="#fff" stroke="#ee4a44" stroke-width="1.05"/>
<circle cx="436.14" cy="349" r="2.65" fill="#fff" stroke="#ee4a44" stroke-width="1.05"/>
<circle cx="436.14" cy="353" r="2.65" fill="#fff" stroke="#ee4a44" stroke-width="1.05"/>
<rect x="451.26" y="354.5" width="6.8" height="5.40" fill="#000"/>
<rect x="462.06" y="349.2" width="8.8" height="10.70" fill="#d4d4d4" stroke="#9a9a9a" stroke-width="0.5"/>
<line x1="454.66" y1="336.6" x2="465.86" y2="342" stroke="#444" stroke-width="0.7"/>
<line x1="454.66" y1="352.2" x2="465.86" y2="348.9" stroke="#444" stroke-width="0.7"/>
<line x1="454.66" y1="355.4" x2="465.86" y2="352.2" stroke="#444" stroke-width="0.7"/>
<line x1="454.66" y1="357.5" x2="465.86" y2="354.3" stroke="#444" stroke-width="0.7"/>
<circle cx="454.66" cy="336.6" r="2.65" fill="#fff" stroke="#222" stroke-width="1.05"/>
<circle cx="454.66" cy="352.2" r="2.65" fill="#fff" stroke="#222" stroke-width="1.05"/>
<circle cx="454.66" cy="355.4" r="2.65" fill="#fff" stroke="#222" stroke-width="1.05"/>
<circle cx="454.66" cy="357.5" r="2.65" fill="#fff" stroke="#222" stroke-width="1.05"/>
<circle cx="465.86" cy="342" r="2.65" fill="#fff" stroke="#ee4a44" stroke-width="1.05"/>
<circle cx="465.86" cy="348.9" r="2.65" fill="#fff" stroke="#ee4a44" stroke-width="1.05"/>
<circle cx="465.86" cy="352.2" r="2.65" fill="#fff" stroke="#ee4a44" stroke-width="1.05"/>
<circle cx="465.86" cy="354.3" r="2.65" fill="#fff" stroke="#ee4a44" stroke-width="1.05"/>
<rect x="480.98" y="355.4" width="6.8" height="4.50" fill="#000"/>
<rect x="491.78" y="354.3" width="8.8" height="5.60" fill="#d4d4d4" stroke="#9a9a9a" stroke-width="0.5"/>
<line x1="484.38" y1="352.2" x2="495.58" y2="350" stroke="#444" stroke-width="0.7"/>
<line x1="484.38" y1="353" x2="495.58" y2="352.2" stroke="#444" stroke-width="0.7"/>
<line x1="484.38" y1="354.8" x2="495.58" y2="354.3" stroke="#444" stroke-width="0.7"/>
<circle cx="484.38" cy="352.2" r="2.65" fill="#fff" stroke="#222" stroke-width="1.05"/>
<circle cx="484.38" cy="354.8" r="2.65" fill="#fff" stroke="#222" stroke-width="1.05"/>
<circle cx="484.38" cy="353" r="2.65" fill="#fff" stroke="#222" stroke-width="1.05"/>
<circle cx="495.58" cy="350" r="2.65" fill="#fff" stroke="#ee4a44" stroke-width="1.05"/>
<circle cx="495.58" cy="352.2" r="2.65" fill="#fff" stroke="#ee4a44" stroke-width="1.05"/>
<circle cx="495.58" cy="354.3" r="2.65" fill="#fff" stroke="#ee4a44" stroke-width="1.05"/>
<circle cx="495.58" cy="355.9" r="2.65" fill="#fff" stroke="#ee4a44" stroke-width="1.05"/>
<text x="524.3" y="199.3" font-size="11" font-weight="bold">e</text>
<text x="591.9" y="207.4" font-size="9.2" text-anchor="end">Mefloquine</text>
<text x="591.9" y="219" font-size="9.2" text-anchor="end">Tunnel</text>
<text x="609.5" y="207.4" font-size="9.2" text-anchor="middle">(+)</text>
<text x="655.5" y="207.4" font-size="9.2" text-anchor="middle">(−)</text>
<text x="605" y="219" font-size="9.2" text-anchor="middle">1</text>
<text x="614" y="219" font-size="9.2" text-anchor="middle">2</text>
<text x="650.8" y="219" font-size="9.2" text-anchor="middle">1</text>
<text x="661" y="219" font-size="9.2" text-anchor="middle">2</text>
<rect x="599.50" y="222.50" width="10.00" height="1.30" fill="rgb(229, 129, 109)"/>
<rect x="599.50" y="223.50" width="10.00" height="0.80" fill="rgb(216, 101, 91)"/>
<rect x="599.50" y="224.00" width="10.00" height="1.30" fill="rgb(237, 160, 139)"/>
<rect x="599.50" y="225.00" width="10.00" height="1.30" fill="rgb(240, 173, 152)"/>
<rect x="599.50" y="226.00" width="10.00" height="1.30" fill="rgb(241, 181, 159)"/>
<rect x="599.50" y="227.00" width="10.00" height="1.30" fill="rgb(239, 169, 148)"/>
<rect x="599.50" y="228.00" width="10.00" height="1.30" fill="rgb(238, 164, 143)"/>
<rect x="599.50" y="229.00" width="10.00" height="1.30" fill="rgb(242, 181, 159)"/>
<rect x="599.50" y="230.00" width="10.00" height="1.30" fill="rgb(236, 196, 182)"/>
<rect x="599.50" y="231.00" width="10.00" height="1.30" fill="rgb(188, 203, 241)"/>
<rect x="599.50" y="232.00" width="10.00" height="1.30" fill="rgb(234, 199, 187)"/>
<rect x="599.50" y="233.00" width="10.00" height="1.30" fill="rgb(234, 201, 190)"/>
<rect x="599.50" y="234.00" width="10.00" height="1.30" fill="rgb(207, 81, 78)"/>
<rect x="599.50" y="235.00" width="10.00" height="1.30" fill="rgb(237, 160, 139)"/>
<rect x="599.50" y="236.00" width="10.00" height="1.30" fill="rgb(239, 170, 148)"/>
<rect x="599.50" y="237.00" width="10.00" height="1.30" fill="rgb(231, 205, 197)"/>
<rect x="599.50" y="238.00" width="10.00" height="1.30" fill="rgb(241, 189, 169)"/>
<rect x="599.50" y="239.00" width="10.00" height="1.30" fill="rgb(231, 205, 197)"/>
<rect x="599.50" y="240.00" width="10.00" height="1.30" fill="rgb(226, 121, 104)"/>
<rect x="599.50" y="241.00" width="10.00" height="1.30" fill="rgb(237, 196, 181)"/>
<rect x="599.50" y="242.00" width="10.00" height="1.30" fill="rgb(241, 189, 169)"/>
<rect x="599.50" y="243.00" width="10.00" height="1.30" fill="rgb(241, 188, 168)"/>
<rect x="599.50" y="244.00" width="10.00" height="1.30" fill="rgb(231, 205, 198)"/>
<rect x="599.50" y="245.00" width="10.00" height="1.30" fill="rgb(232, 204, 195)"/>
<rect x="599.50" y="246.00" width="10.00" height="1.30" fill="rgb(233, 202, 192)"/>
<rect x="599.50" y="247.00" width="10.00" height="1.30" fill="rgb(214, 95, 88)"/>
<rect x="599.50" y="248.00" width="10.00" height="1.30" fill="rgb(211, 88, 83)"/>
<rect x="599.50" y="249.00" width="10.00" height="1.30" fill="rgb(238, 167, 145)"/>
<rect x="599.50" y="250.00" width="10.00" height="1.30" fill="rgb(242, 185, 163)"/>
<rect x="599.50" y="251.00" width="10.00" height="1.30" fill="rgb(237, 162, 141)"/>
<rect x="599.50" y="252.00" width="10.00" height="1.30" fill="rgb(230, 131, 111)"/>
<rect x="599.50" y="253.00" width="10.00" height="1.30" fill="rgb(221, 111, 97)"/>
<rect x="599.50" y="254.00" width="10.00" height="1.30" fill="rgb(235, 154, 133)"/>
<rect x="599.50" y="255.00" width="10.00" height="1.30" fill="rgb(232, 141, 120)"/>
<rect x="599.50" y="256.00" width="10.00" height="1.30" fill="rgb(234, 148, 127)"/>
<rect x="599.50" y="257.00" width="10.00" height="1.30" fill="rgb(241, 188, 168)"/>
<rect x="599.50" y="258.00" width="10.00" height="1.30" fill="rgb(237, 162, 140)"/>
<rect x="599.50" y="259.00" width="10.00" height="1.30" fill="rgb(240, 189, 170)"/>
<rect x="599.50" y="260.00" width="10.00" height="1.30" fill="rgb(237, 161, 140)"/>
<rect x="599.50" y="261.00" width="10.00" height="1.30" fill="rgb(241, 181, 159)"/>
<rect x="599.50" y="262.00" width="10.00" height="1.30" fill="rgb(239, 191, 173)"/>
<rect x="599.50" y="263.00" width="10.00" height="1.30" fill="rgb(242, 185, 163)"/>
<rect x="599.50" y="264.00" width="10.00" height="1.30" fill="rgb(239, 170, 148)"/>
<rect x="599.50" y="265.00" width="10.00" height="1.30" fill="rgb(238, 165, 144)"/>
<rect x="599.50" y="266.00" width="10.00" height="1.30" fill="rgb(238, 168, 146)"/>
<rect x="599.50" y="267.00" width="10.00" height="1.30" fill="rgb(241, 178, 156)"/>
<rect x="599.50" y="268.00" width="10.00" height="1.30" fill="rgb(242, 186, 164)"/>
<rect x="599.50" y="269.00" width="10.00" height="1.30" fill="rgb(238, 194, 178)"/>
<rect x="599.50" y="270.00" width="10.00" height="1.30" fill="rgb(240, 174, 153)"/>
<rect x="599.50" y="271.00" width="10.00" height="1.30" fill="rgb(239, 192, 175)"/>
<rect x="599.50" y="272.00" width="10.00" height="1.30" fill="rgb(242, 185, 163)"/>
<rect x="599.50" y="273.00" width="10.00" height="1.30" fill="rgb(240, 189, 170)"/>
<rect x="599.50" y="274.00" width="10.00" height="1.30" fill="rgb(230, 132, 112)"/>
<rect x="599.50" y="275.00" width="10.00" height="1.30" fill="rgb(233, 146, 126)"/>
<rect x="599.50" y="276.00" width="10.00" height="1.30" fill="rgb(230, 132, 112)"/>
<rect x="599.50" y="277.00" width="10.00" height="1.30" fill="rgb(220, 110, 97)"/>
<rect x="599.50" y="278.00" width="10.00" height="1.30" fill="rgb(209, 85, 81)"/>
<rect x="599.50" y="279.00" width="10.00" height="1.30" fill="rgb(237, 163, 142)"/>
<rect x="599.50" y="280.00" width="10.00" height="1.30" fill="rgb(238, 167, 146)"/>
<rect x="599.50" y="281.00" width="10.00" height="1.30" fill="rgb(198, 209, 236)"/>
<rect x="599.50" y="282.00" width="10.00" height="1.30" fill="rgb(208, 214, 232)"/>
<rect x="599.50" y="283.00" width="10.00" height="1.30" fill="rgb(231, 137, 116)"/>
<rect x="599.50" y="284.00" width="10.00" height="1.30" fill="rgb(226, 123, 105)"/>
<rect x="599.50" y="285.00" width="10.00" height="1.30" fill="rgb(193, 48, 58)"/>
<rect x="599.50" y="286.00" width="10.00" height="1.30" fill="rgb(185, 32, 47)"/>
<rect x="599.50" y="287.00" width="10.00" height="1.30" fill="rgb(215, 99, 90)"/>
<rect x="599.50" y="288.00" width="10.00" height="1.30" fill="rgb(217, 103, 92)"/>
<rect x="599.50" y="289.00" width="10.00" height="1.30" fill="rgb(238, 167, 145)"/>
<rect x="599.50" y="290.00" width="10.00" height="1.30" fill="rgb(238, 167, 146)"/>
<rect x="599.50" y="291.00" width="10.00" height="1.30" fill="rgb(240, 174, 152)"/>
<rect x="599.50" y="292.00" width="10.00" height="1.30" fill="rgb(229, 209, 205)"/>
<rect x="599.50" y="293.00" width="10.00" height="1.30" fill="rgb(231, 206, 198)"/>
<rect x="599.50" y="294.00" width="10.00" height="1.30" fill="rgb(234, 200, 189)"/>
<rect x="599.50" y="295.00" width="10.00" height="1.30" fill="rgb(235, 155, 134)"/>
<rect x="599.50" y="296.00" width="10.00" height="1.30" fill="rgb(237, 160, 139)"/>
<rect x="599.50" y="297.00" width="10.00" height="1.30" fill="rgb(236, 159, 138)"/>
<rect x="599.50" y="298.00" width="10.00" height="1.30" fill="rgb(230, 134, 114)"/>
<rect x="599.50" y="299.00" width="10.00" height="1.30" fill="rgb(231, 134, 114)"/>
<rect x="599.50" y="300.00" width="10.00" height="1.30" fill="rgb(238, 167, 146)"/>
<rect x="599.50" y="301.00" width="10.00" height="1.30" fill="rgb(237, 162, 141)"/>
<rect x="599.50" y="302.00" width="10.00" height="1.30" fill="rgb(235, 153, 132)"/>
<rect x="599.50" y="303.00" width="10.00" height="1.30" fill="rgb(233, 144, 123)"/>
<rect x="599.50" y="304.00" width="10.00" height="1.30" fill="rgb(234, 147, 126)"/>
<rect x="599.50" y="305.00" width="10.00" height="1.30" fill="rgb(224, 117, 102)"/>
<rect x="599.50" y="306.00" width="10.00" height="1.30" fill="rgb(233, 202, 192)"/>
<rect x="599.50" y="307.00" width="10.00" height="1.30" fill="rgb(235, 198, 185)"/>
<rect x="599.50" y="308.00" width="10.00" height="1.30" fill="rgb(201, 210, 235)"/>
<rect x="599.50" y="309.00" width="10.00" height="1.30" fill="rgb(189, 204, 240)"/>
<rect x="599.50" y="310.00" width="10.00" height="1.30" fill="rgb(210, 215, 231)"/>
<rect x="599.50" y="311.00" width="10.00" height="1.30" fill="rgb(227, 211, 208)"/>
<rect x="599.50" y="312.00" width="10.00" height="1.30" fill="rgb(222, 220, 224)"/>
<rect x="599.50" y="313.00" width="10.00" height="1.30" fill="rgb(105, 134, 227)"/>
<rect x="599.50" y="314.00" width="10.00" height="1.30" fill="rgb(238, 168, 146)"/>
<rect x="599.50" y="315.00" width="10.00" height="1.30" fill="rgb(240, 177, 155)"/>
<rect x="599.50" y="316.00" width="10.00" height="1.30" fill="rgb(239, 170, 148)"/>
<rect x="599.50" y="317.00" width="10.00" height="1.30" fill="rgb(238, 165, 144)"/>
<rect x="599.50" y="318.00" width="10.00" height="1.30" fill="rgb(236, 159, 138)"/>
<rect x="599.50" y="319.00" width="10.00" height="1.30" fill="rgb(237, 162, 141)"/>
<rect x="599.50" y="320.00" width="10.00" height="1.30" fill="rgb(241, 189, 169)"/>
<rect x="599.50" y="321.00" width="10.00" height="1.30" fill="rgb(241, 179, 157)"/>
<rect x="599.50" y="322.00" width="10.00" height="1.30" fill="rgb(234, 148, 127)"/>
<rect x="599.50" y="323.00" width="10.00" height="1.30" fill="rgb(230, 134, 113)"/>
<rect x="599.50" y="324.00" width="10.00" height="1.30" fill="rgb(236, 159, 138)"/>
<rect x="599.50" y="325.00" width="10.00" height="1.30" fill="rgb(239, 171, 150)"/>
<rect x="599.50" y="326.00" width="10.00" height="1.30" fill="rgb(192, 206, 239)"/>
<rect x="599.50" y="327.00" width="10.00" height="1.30" fill="rgb(198, 209, 236)"/>
<rect x="599.50" y="328.00" width="10.00" height="1.30" fill="rgb(197, 208, 237)"/>
<rect x="599.50" y="329.00" width="10.00" height="1.30" fill="rgb(199, 209, 236)"/>
<rect x="599.50" y="330.00" width="10.00" height="1.30" fill="rgb(227, 124, 106)"/>
<rect x="599.50" y="331.00" width="10.00" height="1.30" fill="rgb(234, 150, 129)"/>
<rect x="599.50" y="332.00" width="10.00" height="1.30" fill="rgb(232, 141, 120)"/>
<rect x="599.50" y="333.00" width="10.00" height="1.30" fill="rgb(231, 135, 115)"/>
<rect x="599.50" y="334.00" width="10.00" height="1.30" fill="rgb(232, 142, 122)"/>
<rect x="599.50" y="335.00" width="10.00" height="1.30" fill="rgb(237, 162, 141)"/>
<rect x="599.50" y="336.00" width="10.00" height="1.30" fill="rgb(230, 133, 113)"/>
<rect x="599.50" y="337.00" width="10.00" height="1.30" fill="rgb(201, 67, 70)"/>
<rect x="599.50" y="338.00" width="10.00" height="1.30" fill="rgb(211, 90, 84)"/>
<rect x="599.50" y="339.00" width="10.00" height="1.30" fill="rgb(234, 149, 128)"/>
<rect x="599.50" y="340.00" width="10.00" height="1.30" fill="rgb(233, 144, 124)"/>
<rect x="599.50" y="341.00" width="10.00" height="1.30" fill="rgb(232, 139, 118)"/>
<rect x="599.50" y="342.00" width="10.00" height="1.30" fill="rgb(233, 146, 126)"/>
<rect x="599.50" y="343.00" width="10.00" height="1.30" fill="rgb(237, 163, 142)"/>
<rect x="599.50" y="344.00" width="10.00" height="1.30" fill="rgb(238, 168, 146)"/>
<rect x="599.50" y="345.00" width="10.00" height="1.30" fill="rgb(235, 155, 134)"/>
<rect x="599.50" y="346.00" width="10.00" height="1.30" fill="rgb(239, 169, 148)"/>
<rect x="599.50" y="347.00" width="10.00" height="1.30" fill="rgb(235, 152, 131)"/>
<rect x="599.50" y="348.00" width="10.00" height="1.30" fill="rgb(240, 175, 153)"/>
<rect x="599.50" y="349.00" width="10.00" height="1.30" fill="rgb(240, 173, 151)"/>
<rect x="599.50" y="350.00" width="10.00" height="1.30" fill="rgb(242, 185, 163)"/>
<rect x="599.50" y="351.00" width="10.00" height="1.30" fill="rgb(241, 178, 157)"/>
<rect x="599.50" y="352.00" width="10.00" height="1.30" fill="rgb(234, 200, 188)"/>
<rect x="599.50" y="353.00" width="10.00" height="1.30" fill="rgb(233, 202, 192)"/>
<rect x="599.50" y="354.00" width="10.00" height="1.30" fill="rgb(226, 214, 213)"/>
<rect x="599.50" y="355.00" width="10.00" height="1.30" fill="rgb(217, 219, 227)"/>
<rect x="599.50" y="356.00" width="10.00" height="1.30" fill="rgb(218, 220, 227)"/>
<rect x="599.50" y="357.00" width="10.00" height="1.30" fill="rgb(192, 206, 239)"/>
<rect x="599.50" y="358.00" width="10.00" height="1.30" fill="rgb(199, 209, 236)"/>
<rect x="599.50" y="359.00" width="10.00" height="1.30" fill="rgb(194, 206, 238)"/>
<rect x="599.50" y="360.00" width="10.00" height="1.30" fill="rgb(200, 210, 235)"/>
<rect x="599.50" y="361.00" width="10.00" height="1.30" fill="rgb(232, 203, 194)"/>
<rect x="599.50" y="362.00" width="10.00" height="1.30" fill="rgb(231, 205, 198)"/>
<rect x="599.50" y="363.00" width="10.00" height="1.30" fill="rgb(232, 203, 193)"/>
<rect x="599.50" y="364.00" width="10.00" height="1.30" fill="rgb(242, 187, 165)"/>
<rect x="599.50" y="365.00" width="10.00" height="1.30" fill="rgb(242, 183, 161)"/>
<rect x="599.50" y="366.00" width="10.00" height="1.30" fill="rgb(239, 192, 174)"/>
<rect x="599.50" y="367.00" width="10.00" height="1.30" fill="rgb(240, 190, 172)"/>
<rect x="599.50" y="368.00" width="10.00" height="1.30" fill="rgb(241, 181, 159)"/>
<rect x="599.50" y="369.00" width="10.00" height="1.30" fill="rgb(235, 154, 133)"/>
<rect x="599.50" y="370.00" width="10.00" height="1.30" fill="rgb(237, 195, 180)"/>
<rect x="599.50" y="371.00" width="10.00" height="1.30" fill="rgb(231, 205, 196)"/>
<rect x="599.50" y="372.00" width="10.00" height="1.30" fill="rgb(230, 206, 199)"/>
<rect x="599.50" y="373.00" width="10.00" height="1.30" fill="rgb(228, 211, 207)"/>
<rect x="599.50" y="374.00" width="10.00" height="1.30" fill="rgb(157, 178, 238)"/>
<rect x="599.50" y="375.00" width="10.00" height="1.30" fill="rgb(157, 179, 238)"/>
<rect x="599.50" y="376.00" width="10.00" height="1.30" fill="rgb(229, 209, 204)"/>
<rect x="599.50" y="377.00" width="10.00" height="1.30" fill="rgb(222, 220, 223)"/>
<rect x="599.50" y="378.00" width="10.00" height="1.30" fill="rgb(145, 169, 236)"/>
<rect x="599.50" y="379.00" width="10.00" height="1.30" fill="rgb(125, 152, 232)"/>
<rect x="599.50" y="380.00" width="10.00" height="1.30" fill="rgb(226, 213, 212)"/>
<rect x="599.50" y="381.00" width="10.00" height="1.30" fill="rgb(222, 220, 224)"/>
<rect x="599.50" y="382.00" width="10.00" height="1.30" fill="rgb(242, 183, 161)"/>
<rect x="599.50" y="383.00" width="10.00" height="1.30" fill="rgb(238, 167, 146)"/>
<rect x="599.50" y="384.00" width="10.00" height="1.30" fill="rgb(242, 183, 161)"/>
<rect x="599.50" y="385.00" width="10.00" height="1.30" fill="rgb(237, 160, 139)"/>
<rect x="599.50" y="386.00" width="10.00" height="1.30" fill="rgb(241, 181, 159)"/>
<rect x="599.50" y="387.00" width="10.00" height="1.30" fill="rgb(242, 186, 164)"/>
<rect x="599.50" y="388.00" width="10.00" height="1.30" fill="rgb(220, 221, 226)"/>
<rect x="599.50" y="389.00" width="10.00" height="1.30" fill="rgb(209, 215, 231)"/>
<rect x="599.50" y="390.00" width="10.00" height="1.30" fill="rgb(221, 221, 226)"/>
<rect x="599.50" y="391.00" width="10.00" height="1.30" fill="rgb(186, 203, 242)"/>
<rect x="599.50" y="392.00" width="10.00" height="1.30" fill="rgb(199, 209, 236)"/>
<rect x="599.50" y="393.00" width="10.00" height="1.30" fill="rgb(181, 199, 242)"/>
<rect x="599.50" y="394.00" width="10.00" height="1.30" fill="rgb(216, 219, 228)"/>
<rect x="599.50" y="395.00" width="10.00" height="1.30" fill="rgb(226, 214, 213)"/>
<rect x="599.50" y="396.00" width="10.00" height="0.60" fill="rgb(227, 212, 209)"/>
<rect x="609.50" y="222.50" width="10.00" height="1.30" fill="rgb(236, 196, 181)"/>
<rect x="609.50" y="223.50" width="10.00" height="1.30" fill="rgb(235, 198, 185)"/>
<rect x="609.50" y="224.50" width="10.00" height="0.80" fill="rgb(242, 183, 161)"/>
<rect x="609.50" y="225.00" width="10.00" height="1.30" fill="rgb(106, 135, 228)"/>
<rect x="609.50" y="226.00" width="10.00" height="1.30" fill="rgb(88, 114, 219)"/>
<rect x="609.50" y="227.00" width="10.00" height="1.30" fill="rgb(91, 118, 220)"/>
<rect x="609.50" y="228.00" width="10.00" height="1.30" fill="rgb(191, 205, 239)"/>
<rect x="609.50" y="229.00" width="10.00" height="1.30" fill="rgb(189, 204, 241)"/>
<rect x="609.50" y="230.00" width="10.00" height="1.30" fill="rgb(192, 205, 239)"/>
<rect x="609.50" y="231.00" width="10.00" height="1.30" fill="rgb(236, 196, 182)"/>
<rect x="609.50" y="232.00" width="10.00" height="1.30" fill="rgb(234, 200, 188)"/>
<rect x="609.50" y="233.00" width="10.00" height="1.30" fill="rgb(239, 192, 174)"/>
<rect x="609.50" y="234.00" width="10.00" height="1.30" fill="rgb(232, 204, 195)"/>
<rect x="609.50" y="235.00" width="10.00" height="1.30" fill="rgb(195, 207, 238)"/>
<rect x="609.50" y="236.00" width="10.00" height="1.30" fill="rgb(190, 204, 240)"/>
<rect x="609.50" y="237.00" width="10.00" height="1.30" fill="rgb(195, 207, 238)"/>
<rect x="609.50" y="238.00" width="10.00" height="1.30" fill="rgb(228, 211, 208)"/>
<rect x="609.50" y="239.00" width="10.00" height="1.30" fill="rgb(226, 214, 212)"/>
<rect x="609.50" y="240.00" width="10.00" height="1.30" fill="rgb(234, 199, 188)"/>
<rect x="609.50" y="241.00" width="10.00" height="1.30" fill="rgb(172, 191, 240)"/>
<rect x="609.50" y="242.00" width="10.00" height="1.30" fill="rgb(165, 185, 239)"/>
<rect x="609.50" y="243.00" width="10.00" height="1.30" fill="rgb(203, 212, 234)"/>
<rect x="609.50" y="244.00" width="10.00" height="1.30" fill="rgb(197, 208, 237)"/>
<rect x="609.50" y="245.00" width="10.00" height="1.30" fill="rgb(191, 205, 239)"/>
<rect x="609.50" y="246.00" width="10.00" height="1.30" fill="rgb(196, 208, 237)"/>
<rect x="609.50" y="247.00" width="10.00" height="1.30" fill="rgb(239, 172, 151)"/>
<rect x="609.50" y="248.00" width="10.00" height="1.30" fill="rgb(241, 179, 157)"/>
<rect x="609.50" y="249.00" width="10.00" height="1.30" fill="rgb(242, 184, 162)"/>
<rect x="609.50" y="250.00" width="10.00" height="1.30" fill="rgb(242, 182, 160)"/>
<rect x="609.50" y="251.00" width="10.00" height="1.30" fill="rgb(239, 169, 147)"/>
<rect x="609.50" y="252.00" width="10.00" height="1.30" fill="rgb(232, 139, 119)"/>
<rect x="609.50" y="253.00" width="10.00" height="1.30" fill="rgb(233, 145, 124)"/>
<rect x="609.50" y="254.00" width="10.00" height="1.30" fill="rgb(236, 156, 135)"/>
<rect x="609.50" y="255.00" width="10.00" height="1.30" fill="rgb(238, 167, 146)"/>
<rect x="609.50" y="256.00" width="10.00" height="1.30" fill="rgb(237, 163, 142)"/>
<rect x="609.50" y="257.00" width="10.00" height="1.30" fill="rgb(236, 158, 137)"/>
<rect x="609.50" y="258.00" width="10.00" height="1.30" fill="rgb(229, 208, 203)"/>
<rect x="609.50" y="259.00" width="10.00" height="1.30" fill="rgb(225, 215, 214)"/>
<rect x="609.50" y="260.00" width="10.00" height="1.30" fill="rgb(235, 199, 187)"/>
<rect x="609.50" y="261.00" width="10.00" height="1.30" fill="rgb(230, 207, 201)"/>
<rect x="609.50" y="262.00" width="10.00" height="1.30" fill="rgb(203, 212, 234)"/>
<rect x="609.50" y="263.00" width="10.00" height="1.30" fill="rgb(198, 209, 236)"/>
<rect x="609.50" y="264.00" width="10.00" height="1.30" fill="rgb(235, 198, 185)"/>
<rect x="609.50" y="265.00" width="10.00" height="1.30" fill="rgb(235, 199, 187)"/>
<rect x="609.50" y="266.00" width="10.00" height="1.30" fill="rgb(78, 102, 214)"/>
<rect x="609.50" y="267.00" width="10.00" height="1.30" fill="rgb(224, 217, 218)"/>
<rect x="609.50" y="268.00" width="10.00" height="1.30" fill="rgb(91, 118, 220)"/>
<rect x="609.50" y="269.00" width="10.00" height="1.30" fill="rgb(229, 208, 202)"/>
<rect x="609.50" y="270.00" width="10.00" height="1.30" fill="rgb(231, 206, 199)"/>
<rect x="609.50" y="271.00" width="10.00" height="1.30" fill="rgb(235, 199, 187)"/>
<rect x="609.50" y="272.00" width="10.00" height="1.30" fill="rgb(235, 198, 186)"/>
<rect x="609.50" y="273.00" width="10.00" height="1.30" fill="rgb(235, 198, 184)"/>
<rect x="609.50" y="274.00" width="10.00" height="1.30" fill="rgb(236, 156, 135)"/>
<rect x="609.50" y="275.00" width="10.00" height="1.30" fill="rgb(233, 146, 125)"/>
<rect x="609.50" y="276.00" width="10.00" height="1.30" fill="rgb(232, 140, 119)"/>
<rect x="609.50" y="277.00" width="10.00" height="1.30" fill="rgb(220, 109, 97)"/>
<rect x="609.50" y="278.00" width="10.00" height="1.30" fill="rgb(234, 200, 189)"/>
<rect x="609.50" y="279.00" width="10.00" height="1.30" fill="rgb(229, 208, 202)"/>
<rect x="609.50" y="280.00" width="10.00" height="1.30" fill="rgb(233, 202, 192)"/>
<rect x="609.50" y="281.00" width="10.00" height="1.30" fill="rgb(233, 202, 192)"/>
<rect x="609.50" y="282.00" width="10.00" height="1.30" fill="rgb(235, 198, 185)"/>
<rect x="609.50" y="283.00" width="10.00" height="1.30" fill="rgb(234, 148, 127)"/>
<rect x="609.50" y="284.00" width="10.00" height="1.30" fill="rgb(234, 148, 127)"/>
<rect x="609.50" y="285.00" width="10.00" height="1.30" fill="rgb(196, 55, 62)"/>
<rect x="609.50" y="286.00" width="10.00" height="1.30" fill="rgb(180, 20, 40)"/>
<rect x="609.50" y="287.00" width="10.00" height="1.30" fill="rgb(181, 22, 41)"/>
<rect x="609.50" y="288.00" width="10.00" height="1.30" fill="rgb(239, 170, 148)"/>
<rect x="609.50" y="289.00" width="10.00" height="1.30" fill="rgb(238, 167, 145)"/>
<rect x="609.50" y="290.00" width="10.00" height="1.30" fill="rgb(156, 178, 238)"/>
<rect x="609.50" y="291.00" width="10.00" height="1.30" fill="rgb(157, 179, 238)"/>
<rect x="609.50" y="292.00" width="10.00" height="1.30" fill="rgb(220, 221, 226)"/>
<rect x="609.50" y="293.00" width="10.00" height="1.30" fill="rgb(220, 220, 226)"/>
<rect x="609.50" y="294.00" width="10.00" height="1.30" fill="rgb(139, 164, 235)"/>
<rect x="609.50" y="295.00" width="10.00" height="1.30" fill="rgb(147, 170, 236)"/>
<rect x="609.50" y="296.00" width="10.00" height="1.30" fill="rgb(227, 212, 209)"/>
<rect x="609.50" y="297.00" width="10.00" height="1.30" fill="rgb(223, 218, 220)"/>
<rect x="609.50" y="298.00" width="10.00" height="1.30" fill="rgb(238, 168, 147)"/>
<rect x="609.50" y="299.00" width="10.00" height="1.30" fill="rgb(239, 171, 149)"/>
<rect x="609.50" y="300.00" width="10.00" height="1.30" fill="rgb(238, 168, 147)"/>
<rect x="609.50" y="301.00" width="10.00" height="1.30" fill="rgb(238, 166, 144)"/>
<rect x="609.50" y="302.00" width="10.00" height="1.30" fill="rgb(230, 207, 201)"/>
<rect x="609.50" y="303.00" width="10.00" height="1.30" fill="rgb(233, 202, 193)"/>
<rect x="609.50" y="304.00" width="10.00" height="1.30" fill="rgb(238, 167, 145)"/>
<rect x="609.50" y="305.00" width="10.00" height="1.30" fill="rgb(240, 175, 154)"/>
<rect x="609.50" y="306.00" width="10.00" height="1.30" fill="rgb(229, 208, 202)"/>
<rect x="609.50" y="307.00" width="10.00" height="1.30" fill="rgb(229, 209, 204)"/>
<rect x="609.50" y="308.00" width="10.00" height="1.30" fill="rgb(228, 210, 205)"/>
<rect x="609.50" y="309.00" width="10.00" height="1.30" fill="rgb(235, 198, 186)"/>
<rect x="609.50" y="310.00" width="10.00" height="1.30" fill="rgb(208, 214, 232)"/>
<rect x="609.50" y="311.00" width="10.00" height="1.30" fill="rgb(220, 221, 226)"/>
<rect x="609.50" y="312.00" width="10.00" height="1.30" fill="rgb(230, 207, 201)"/>
<rect x="609.50" y="313.00" width="10.00" height="1.30" fill="rgb(230, 207, 201)"/>
<rect x="609.50" y="314.00" width="10.00" height="1.30" fill="rgb(232, 203, 194)"/>
<rect x="609.50" y="315.00" width="10.00" height="1.30" fill="rgb(225, 215, 214)"/>
<rect x="609.50" y="316.00" width="10.00" height="1.30" fill="rgb(222, 221, 225)"/>
<rect x="609.50" y="317.00" width="10.00" height="1.30" fill="rgb(221, 221, 226)"/>
<rect x="609.50" y="318.00" width="10.00" height="1.30" fill="rgb(199, 210, 236)"/>
<rect x="609.50" y="319.00" width="10.00" height="1.30" fill="rgb(202, 211, 234)"/>
<rect x="609.50" y="320.00" width="10.00" height="1.30" fill="rgb(225, 216, 216)"/>
<rect x="609.50" y="321.00" width="10.00" height="1.30" fill="rgb(219, 220, 227)"/>
<rect x="609.50" y="322.00" width="10.00" height="1.30" fill="rgb(229, 128, 108)"/>
<rect x="609.50" y="323.00" width="10.00" height="1.30" fill="rgb(230, 130, 110)"/>
<rect x="609.50" y="324.00" width="10.00" height="1.30" fill="rgb(189, 204, 240)"/>
<rect x="609.50" y="325.00" width="10.00" height="1.30" fill="rgb(187, 203, 241)"/>
<rect x="609.50" y="326.00" width="10.00" height="1.30" fill="rgb(225, 215, 215)"/>
<rect x="609.50" y="327.00" width="10.00" height="1.30" fill="rgb(223, 219, 222)"/>
<rect x="609.50" y="328.00" width="10.00" height="1.30" fill="rgb(202, 211, 235)"/>
<rect x="609.50" y="329.00" width="10.00" height="1.30" fill="rgb(212, 216, 230)"/>
<rect x="609.50" y="330.00" width="10.00" height="1.30" fill="rgb(199, 209, 236)"/>
<rect x="609.50" y="331.00" width="10.00" height="1.30" fill="rgb(207, 214, 232)"/>
<rect x="609.50" y="332.00" width="10.00" height="1.30" fill="rgb(237, 162, 140)"/>
<rect x="609.50" y="333.00" width="10.00" height="1.30" fill="rgb(242, 183, 161)"/>
<rect x="609.50" y="334.00" width="10.00" height="1.30" fill="rgb(235, 155, 134)"/>
<rect x="609.50" y="335.00" width="10.00" height="1.30" fill="rgb(234, 149, 128)"/>
<rect x="609.50" y="336.00" width="10.00" height="1.30" fill="rgb(230, 133, 112)"/>
<rect x="609.50" y="337.00" width="10.00" height="1.30" fill="rgb(229, 129, 109)"/>
<rect x="609.50" y="338.00" width="10.00" height="1.30" fill="rgb(241, 180, 158)"/>
<rect x="609.50" y="339.00" width="10.00" height="1.30" fill="rgb(236, 159, 138)"/>
<rect x="609.50" y="340.00" width="10.00" height="1.30" fill="rgb(239, 172, 151)"/>
<rect x="609.50" y="341.00" width="10.00" height="1.30" fill="rgb(239, 172, 151)"/>
<rect x="609.50" y="342.00" width="10.00" height="1.30" fill="rgb(240, 174, 152)"/>
<rect x="609.50" y="343.00" width="10.00" height="1.30" fill="rgb(239, 172, 150)"/>
<rect x="609.50" y="344.00" width="10.00" height="1.30" fill="rgb(242, 185, 163)"/>
<rect x="609.50" y="345.00" width="10.00" height="1.30" fill="rgb(241, 178, 156)"/>
<rect x="609.50" y="346.00" width="10.00" height="1.30" fill="rgb(140, 164, 235)"/>
<rect x="609.50" y="347.00" width="10.00" height="1.30" fill="rgb(160, 182, 238)"/>
<rect x="609.50" y="348.00" width="10.00" height="1.30" fill="rgb(239, 172, 151)"/>
<rect x="609.50" y="349.00" width="10.00" height="1.30" fill="rgb(238, 167, 145)"/>
<rect x="609.50" y="350.00" width="10.00" height="1.30" fill="rgb(239, 191, 173)"/>
<rect x="609.50" y="351.00" width="10.00" height="1.30" fill="rgb(235, 199, 187)"/>
<rect x="609.50" y="352.00" width="10.00" height="1.30" fill="rgb(219, 220, 227)"/>
<rect x="609.50" y="353.00" width="10.00" height="1.30" fill="rgb(216, 218, 228)"/>
<rect x="609.50" y="354.00" width="10.00" height="1.30" fill="rgb(228, 210, 206)"/>
<rect x="609.50" y="355.00" width="10.00" height="1.30" fill="rgb(237, 164, 142)"/>
<rect x="609.50" y="356.00" width="10.00" height="1.30" fill="rgb(240, 175, 154)"/>
<rect x="609.50" y="357.00" width="10.00" height="1.30" fill="rgb(237, 160, 139)"/>
<rect x="609.50" y="358.00" width="10.00" height="1.30" fill="rgb(237, 164, 143)"/>
<rect x="609.50" y="359.00" width="10.00" height="1.30" fill="rgb(242, 183, 161)"/>
<rect x="609.50" y="360.00" width="10.00" height="1.30" fill="rgb(230, 207, 200)"/>
<rect x="609.50" y="361.00" width="10.00" height="1.30" fill="rgb(231, 205, 197)"/>
<rect x="609.50" y="362.00" width="10.00" height="1.30" fill="rgb(232, 203, 194)"/>
<rect x="609.50" y="363.00" width="10.00" height="1.30" fill="rgb(222, 221, 224)"/>
<rect x="609.50" y="364.00" width="10.00" height="1.30" fill="rgb(219, 220, 226)"/>
<rect x="609.50" y="365.00" width="10.00" height="1.30" fill="rgb(222, 220, 224)"/>
<rect x="609.50" y="366.00" width="10.00" height="1.30" fill="rgb(240, 174, 152)"/>
<rect x="609.50" y="367.00" width="10.00" height="1.30" fill="rgb(240, 177, 155)"/>
<rect x="609.50" y="368.00" width="10.00" height="1.30" fill="rgb(235, 155, 134)"/>
<rect x="609.50" y="369.00" width="10.00" height="1.30" fill="rgb(223, 219, 222)"/>
<rect x="609.50" y="370.00" width="10.00" height="1.30" fill="rgb(223, 219, 221)"/>
<rect x="609.50" y="371.00" width="10.00" height="1.30" fill="rgb(212, 216, 230)"/>
<rect x="609.50" y="372.00" width="10.00" height="1.30" fill="rgb(221, 221, 226)"/>
<rect x="609.50" y="373.00" width="10.00" height="1.30" fill="rgb(224, 217, 217)"/>
<rect x="609.50" y="374.00" width="10.00" height="1.30" fill="rgb(235, 152, 131)"/>
<rect x="609.50" y="375.00" width="10.00" height="1.30" fill="rgb(230, 131, 111)"/>
<rect x="609.50" y="376.00" width="10.00" height="1.30" fill="rgb(223, 114, 100)"/>
<rect x="609.50" y="377.00" width="10.00" height="1.30" fill="rgb(216, 100, 91)"/>
<rect x="609.50" y="378.00" width="10.00" height="1.30" fill="rgb(153, 175, 237)"/>
<rect x="609.50" y="379.00" width="10.00" height="1.30" fill="rgb(157, 179, 238)"/>
<rect x="609.50" y="380.00" width="10.00" height="1.30" fill="rgb(236, 158, 137)"/>
<rect x="609.50" y="381.00" width="10.00" height="1.30" fill="rgb(239, 172, 151)"/>
<rect x="609.50" y="382.00" width="10.00" height="1.30" fill="rgb(235, 155, 134)"/>
<rect x="609.50" y="383.00" width="10.00" height="1.30" fill="rgb(240, 176, 154)"/>
<rect x="609.50" y="384.00" width="10.00" height="1.30" fill="rgb(241, 177, 155)"/>
<rect x="609.50" y="385.00" width="10.00" height="1.30" fill="rgb(237, 162, 141)"/>
<rect x="609.50" y="386.00" width="10.00" height="1.30" fill="rgb(241, 178, 157)"/>
<rect x="609.50" y="387.00" width="10.00" height="1.30" fill="rgb(239, 172, 151)"/>
<rect x="609.50" y="388.00" width="10.00" height="1.30" fill="rgb(212, 92, 85)"/>
<rect x="609.50" y="389.00" width="10.00" height="1.30" fill="rgb(210, 86, 82)"/>
<rect x="609.50" y="390.00" width="10.00" height="1.30" fill="rgb(185, 202, 242)"/>
<rect x="609.50" y="391.00" width="10.00" height="1.30" fill="rgb(199, 209, 236)"/>
<rect x="609.50" y="392.00" width="10.00" height="1.30" fill="rgb(207, 214, 232)"/>
<rect x="609.50" y="393.00" width="10.00" height="1.30" fill="rgb(203, 211, 234)"/>
<rect x="609.50" y="394.00" width="10.00" height="1.30" fill="rgb(194, 207, 238)"/>
<rect x="609.50" y="395.00" width="10.00" height="1.30" fill="rgb(192, 206, 239)"/>
<rect x="609.50" y="396.00" width="10.00" height="0.60" fill="rgb(194, 207, 238)"/>
<rect x="599.5" y="222.5" width="20" height="173.80" fill="none" stroke="#111" stroke-width="1"/>
<rect x="645.60" y="222.50" width="10.30" height="1.30" fill="rgb(208, 214, 231)"/>
<rect x="645.60" y="223.50" width="10.30" height="0.80" fill="rgb(189, 204, 240)"/>
<rect x="645.60" y="224.00" width="10.30" height="1.30" fill="rgb(158, 180, 238)"/>
<rect x="645.60" y="225.00" width="10.30" height="1.30" fill="rgb(151, 174, 237)"/>
<rect x="645.60" y="226.00" width="10.30" height="1.30" fill="rgb(190, 205, 240)"/>
<rect x="645.60" y="227.00" width="10.30" height="1.30" fill="rgb(192, 206, 239)"/>
<rect x="645.60" y="228.00" width="10.30" height="1.30" fill="rgb(193, 206, 239)"/>
<rect x="645.60" y="229.00" width="10.30" height="1.30" fill="rgb(195, 207, 238)"/>
<rect x="645.60" y="230.00" width="10.30" height="1.30" fill="rgb(101, 130, 225)"/>
<rect x="645.60" y="231.00" width="10.30" height="1.30" fill="rgb(236, 160, 139)"/>
<rect x="645.60" y="232.00" width="10.30" height="1.30" fill="rgb(238, 167, 146)"/>
<rect x="645.60" y="233.00" width="10.30" height="1.30" fill="rgb(236, 159, 138)"/>
<rect x="645.60" y="234.00" width="10.30" height="1.30" fill="rgb(242, 187, 166)"/>
<rect x="645.60" y="235.00" width="10.30" height="1.30" fill="rgb(241, 189, 169)"/>
<rect x="645.60" y="236.00" width="10.30" height="1.30" fill="rgb(240, 191, 172)"/>
<rect x="645.60" y="237.00" width="10.30" height="1.30" fill="rgb(237, 195, 180)"/>
<rect x="645.60" y="238.00" width="10.30" height="1.30" fill="rgb(227, 213, 211)"/>
<rect x="645.60" y="239.00" width="10.30" height="1.30" fill="rgb(232, 204, 196)"/>
<rect x="645.60" y="240.00" width="10.30" height="1.30" fill="rgb(231, 205, 197)"/>
<rect x="645.60" y="241.00" width="10.30" height="1.30" fill="rgb(222, 220, 223)"/>
<rect x="645.60" y="242.00" width="10.30" height="1.30" fill="rgb(222, 220, 223)"/>
<rect x="645.60" y="243.00" width="10.30" height="1.30" fill="rgb(214, 217, 229)"/>
<rect x="645.60" y="244.00" width="10.30" height="1.30" fill="rgb(240, 176, 154)"/>
<rect x="645.60" y="245.00" width="10.30" height="1.30" fill="rgb(241, 179, 157)"/>
<rect x="645.60" y="246.00" width="10.30" height="1.30" fill="rgb(235, 198, 185)"/>
<rect x="645.60" y="247.00" width="10.30" height="1.30" fill="rgb(231, 204, 196)"/>
<rect x="645.60" y="248.00" width="10.30" height="1.30" fill="rgb(232, 203, 194)"/>
<rect x="645.60" y="249.00" width="10.30" height="1.30" fill="rgb(229, 209, 204)"/>
<rect x="645.60" y="250.00" width="10.30" height="1.30" fill="rgb(241, 181, 159)"/>
<rect x="645.60" y="251.00" width="10.30" height="1.30" fill="rgb(240, 174, 153)"/>
<rect x="645.60" y="252.00" width="10.30" height="1.30" fill="rgb(239, 170, 149)"/>
<rect x="645.60" y="253.00" width="10.30" height="1.30" fill="rgb(223, 219, 222)"/>
<rect x="645.60" y="254.00" width="10.30" height="1.30" fill="rgb(212, 216, 230)"/>
<rect x="645.60" y="255.00" width="10.30" height="1.30" fill="rgb(222, 220, 223)"/>
<rect x="645.60" y="256.00" width="10.30" height="1.30" fill="rgb(234, 149, 128)"/>
<rect x="645.60" y="257.00" width="10.30" height="1.30" fill="rgb(233, 146, 125)"/>
<rect x="645.60" y="258.00" width="10.30" height="1.30" fill="rgb(233, 144, 124)"/>
<rect x="645.60" y="259.00" width="10.30" height="1.30" fill="rgb(240, 173, 152)"/>
<rect x="645.60" y="260.00" width="10.30" height="1.30" fill="rgb(238, 165, 144)"/>
<rect x="645.60" y="261.00" width="10.30" height="1.30" fill="rgb(237, 162, 140)"/>
<rect x="645.60" y="262.00" width="10.30" height="1.30" fill="rgb(233, 202, 192)"/>
<rect x="645.60" y="263.00" width="10.30" height="1.30" fill="rgb(230, 207, 200)"/>
<rect x="645.60" y="264.00" width="10.30" height="1.30" fill="rgb(238, 166, 144)"/>
<rect x="645.60" y="265.00" width="10.30" height="1.30" fill="rgb(238, 166, 145)"/>
<rect x="645.60" y="266.00" width="10.30" height="1.30" fill="rgb(237, 162, 141)"/>
<rect x="645.60" y="267.00" width="10.30" height="1.30" fill="rgb(238, 167, 146)"/>
<rect x="645.60" y="268.00" width="10.30" height="1.30" fill="rgb(226, 213, 211)"/>
<rect x="645.60" y="269.00" width="10.30" height="1.30" fill="rgb(229, 208, 203)"/>
<rect x="645.60" y="270.00" width="10.30" height="1.30" fill="rgb(230, 206, 199)"/>
<rect x="645.60" y="271.00" width="10.30" height="1.30" fill="rgb(235, 199, 186)"/>
<rect x="645.60" y="272.00" width="10.30" height="1.30" fill="rgb(239, 171, 149)"/>
<rect x="645.60" y="273.00" width="10.30" height="1.30" fill="rgb(237, 161, 140)"/>
<rect x="645.60" y="274.00" width="10.30" height="1.30" fill="rgb(238, 167, 145)"/>
<rect x="645.60" y="275.00" width="10.30" height="1.30" fill="rgb(188, 204, 241)"/>
<rect x="645.60" y="276.00" width="10.30" height="1.30" fill="rgb(195, 207, 237)"/>
<rect x="645.60" y="277.00" width="10.30" height="1.30" fill="rgb(198, 209, 236)"/>
<rect x="645.60" y="278.00" width="10.30" height="1.30" fill="rgb(223, 220, 222)"/>
<rect x="645.60" y="279.00" width="10.30" height="1.30" fill="rgb(212, 217, 230)"/>
<rect x="645.60" y="280.00" width="10.30" height="1.30" fill="rgb(205, 213, 233)"/>
<rect x="645.60" y="281.00" width="10.30" height="1.30" fill="rgb(199, 209, 236)"/>
<rect x="645.60" y="282.00" width="10.30" height="1.30" fill="rgb(190, 205, 240)"/>
<rect x="645.60" y="283.00" width="10.30" height="1.30" fill="rgb(240, 174, 153)"/>
<rect x="645.60" y="284.00" width="10.30" height="1.30" fill="rgb(242, 186, 165)"/>
<rect x="645.60" y="285.00" width="10.30" height="1.30" fill="rgb(241, 181, 159)"/>
<rect x="645.60" y="286.00" width="10.30" height="1.30" fill="rgb(236, 157, 136)"/>
<rect x="645.60" y="287.00" width="10.30" height="1.30" fill="rgb(240, 190, 171)"/>
<rect x="645.60" y="288.00" width="10.30" height="1.30" fill="rgb(235, 198, 185)"/>
<rect x="645.60" y="289.00" width="10.30" height="1.30" fill="rgb(233, 201, 191)"/>
<rect x="645.60" y="290.00" width="10.30" height="1.30" fill="rgb(206, 213, 232)"/>
<rect x="645.60" y="291.00" width="10.30" height="1.30" fill="rgb(197, 208, 237)"/>
<rect x="645.60" y="292.00" width="10.30" height="1.30" fill="rgb(189, 204, 240)"/>
<rect x="645.60" y="293.00" width="10.30" height="1.30" fill="rgb(224, 218, 219)"/>
<rect x="645.60" y="294.00" width="10.30" height="1.30" fill="rgb(235, 199, 186)"/>
<rect x="645.60" y="295.00" width="10.30" height="1.30" fill="rgb(224, 217, 217)"/>
<rect x="645.60" y="296.00" width="10.30" height="1.30" fill="rgb(186, 202, 242)"/>
<rect x="645.60" y="297.00" width="10.30" height="1.30" fill="rgb(199, 209, 236)"/>
<rect x="645.60" y="298.00" width="10.30" height="1.30" fill="rgb(239, 169, 147)"/>
<rect x="645.60" y="299.00" width="10.30" height="1.30" fill="rgb(241, 177, 155)"/>
<rect x="645.60" y="300.00" width="10.30" height="1.30" fill="rgb(242, 182, 161)"/>
<rect x="645.60" y="301.00" width="10.30" height="1.30" fill="rgb(240, 190, 171)"/>
<rect x="645.60" y="302.00" width="10.30" height="1.30" fill="rgb(241, 188, 168)"/>
<rect x="645.60" y="303.00" width="10.30" height="1.30" fill="rgb(238, 165, 144)"/>
<rect x="645.60" y="304.00" width="10.30" height="1.30" fill="rgb(240, 174, 153)"/>
<rect x="645.60" y="305.00" width="10.30" height="1.30" fill="rgb(232, 139, 119)"/>
<rect x="645.60" y="306.00" width="10.30" height="1.30" fill="rgb(222, 112, 98)"/>
<rect x="645.60" y="307.00" width="10.30" height="1.30" fill="rgb(234, 150, 129)"/>
<rect x="645.60" y="308.00" width="10.30" height="1.30" fill="rgb(238, 168, 146)"/>
<rect x="645.60" y="309.00" width="10.30" height="1.30" fill="rgb(238, 165, 143)"/>
<rect x="645.60" y="310.00" width="10.30" height="1.30" fill="rgb(240, 174, 152)"/>
<rect x="645.60" y="311.00" width="10.30" height="1.30" fill="rgb(232, 204, 196)"/>
<rect x="645.60" y="312.00" width="10.30" height="1.30" fill="rgb(226, 214, 212)"/>
<rect x="645.60" y="313.00" width="10.30" height="1.30" fill="rgb(230, 206, 199)"/>
<rect x="645.60" y="314.00" width="10.30" height="1.30" fill="rgb(239, 169, 147)"/>
<rect x="645.60" y="315.00" width="10.30" height="1.30" fill="rgb(236, 159, 138)"/>
<rect x="645.60" y="316.00" width="10.30" height="1.30" fill="rgb(237, 161, 140)"/>
<rect x="645.60" y="317.00" width="10.30" height="1.30" fill="rgb(240, 174, 153)"/>
<rect x="645.60" y="318.00" width="10.30" height="1.30" fill="rgb(228, 210, 206)"/>
<rect x="645.60" y="319.00" width="10.30" height="1.30" fill="rgb(238, 193, 177)"/>
<rect x="645.60" y="320.00" width="10.30" height="1.30" fill="rgb(235, 199, 186)"/>
<rect x="645.60" y="321.00" width="10.30" height="1.30" fill="rgb(225, 215, 214)"/>
<rect x="645.60" y="322.00" width="10.30" height="1.30" fill="rgb(233, 144, 124)"/>
<rect x="645.60" y="323.00" width="10.30" height="1.30" fill="rgb(234, 149, 129)"/>
<rect x="645.60" y="324.00" width="10.30" height="1.30" fill="rgb(233, 147, 126)"/>
<rect x="645.60" y="325.00" width="10.30" height="1.30" fill="rgb(236, 156, 136)"/>
<rect x="645.60" y="326.00" width="10.30" height="1.30" fill="rgb(223, 116, 101)"/>
<rect x="645.60" y="327.00" width="10.30" height="1.30" fill="rgb(224, 117, 102)"/>
<rect x="645.60" y="328.00" width="10.30" height="1.30" fill="rgb(239, 171, 150)"/>
<rect x="645.60" y="329.00" width="10.30" height="1.30" fill="rgb(237, 160, 139)"/>
<rect x="645.60" y="330.00" width="10.30" height="1.30" fill="rgb(238, 167, 146)"/>
<rect x="645.60" y="331.00" width="10.30" height="1.30" fill="rgb(214, 217, 229)"/>
<rect x="645.60" y="332.00" width="10.30" height="1.30" fill="rgb(211, 216, 230)"/>
<rect x="645.60" y="333.00" width="10.30" height="1.30" fill="rgb(148, 171, 236)"/>
<rect x="645.60" y="334.00" width="10.30" height="1.30" fill="rgb(168, 188, 240)"/>
<rect x="645.60" y="335.00" width="10.30" height="1.30" fill="rgb(165, 186, 239)"/>
<rect x="645.60" y="336.00" width="10.30" height="1.30" fill="rgb(147, 170, 236)"/>
<rect x="645.60" y="337.00" width="10.30" height="1.30" fill="rgb(202, 211, 234)"/>
<rect x="645.60" y="338.00" width="10.30" height="1.30" fill="rgb(198, 209, 236)"/>
<rect x="645.60" y="339.00" width="10.30" height="1.30" fill="rgb(192, 205, 239)"/>
<rect x="645.60" y="340.00" width="10.30" height="1.30" fill="rgb(238, 165, 144)"/>
<rect x="645.60" y="341.00" width="10.30" height="1.30" fill="rgb(239, 170, 148)"/>
<rect x="645.60" y="342.00" width="10.30" height="1.30" fill="rgb(241, 179, 157)"/>
<rect x="645.60" y="343.00" width="10.30" height="1.30" fill="rgb(230, 206, 199)"/>
<rect x="645.60" y="344.00" width="10.30" height="1.30" fill="rgb(232, 203, 193)"/>
<rect x="645.60" y="345.00" width="10.30" height="1.30" fill="rgb(236, 196, 182)"/>
<rect x="645.60" y="346.00" width="10.30" height="1.30" fill="rgb(241, 178, 157)"/>
<rect x="645.60" y="347.00" width="10.30" height="1.30" fill="rgb(238, 167, 146)"/>
<rect x="645.60" y="348.00" width="10.30" height="1.30" fill="rgb(239, 169, 147)"/>
<rect x="645.60" y="349.00" width="10.30" height="1.30" fill="rgb(239, 169, 148)"/>
<rect x="645.60" y="350.00" width="10.30" height="1.30" fill="rgb(230, 130, 110)"/>
<rect x="645.60" y="351.00" width="10.30" height="1.30" fill="rgb(210, 86, 82)"/>
<rect x="645.60" y="352.00" width="10.30" height="1.30" fill="rgb(209, 85, 81)"/>
<rect x="645.60" y="353.00" width="10.30" height="1.30" fill="rgb(207, 80, 78)"/>
<rect x="645.60" y="354.00" width="10.30" height="1.30" fill="rgb(238, 165, 144)"/>
<rect x="645.60" y="355.00" width="10.30" height="1.30" fill="rgb(236, 156, 135)"/>
<rect x="645.60" y="356.00" width="10.30" height="1.30" fill="rgb(238, 164, 143)"/>
<rect x="645.60" y="357.00" width="10.30" height="1.30" fill="rgb(225, 216, 216)"/>
<rect x="645.60" y="358.00" width="10.30" height="1.30" fill="rgb(219, 220, 226)"/>
<rect x="645.60" y="359.00" width="10.30" height="1.30" fill="rgb(222, 220, 224)"/>
<rect x="645.60" y="360.00" width="10.30" height="1.30" fill="rgb(239, 172, 150)"/>
<rect x="645.60" y="361.00" width="10.30" height="1.30" fill="rgb(241, 178, 157)"/>
<rect x="645.60" y="362.00" width="10.30" height="1.30" fill="rgb(240, 173, 151)"/>
<rect x="645.60" y="363.00" width="10.30" height="1.30" fill="rgb(241, 179, 157)"/>
<rect x="645.60" y="364.00" width="10.30" height="1.30" fill="rgb(234, 151, 130)"/>
<rect x="645.60" y="365.00" width="10.30" height="1.30" fill="rgb(233, 144, 124)"/>
<rect x="645.60" y="366.00" width="10.30" height="1.30" fill="rgb(233, 146, 126)"/>
<rect x="645.60" y="367.00" width="10.30" height="1.30" fill="rgb(223, 116, 101)"/>
<rect x="645.60" y="368.00" width="10.30" height="1.30" fill="rgb(238, 193, 177)"/>
<rect x="645.60" y="369.00" width="10.30" height="1.30" fill="rgb(236, 197, 184)"/>
<rect x="645.60" y="370.00" width="10.30" height="1.30" fill="rgb(235, 199, 187)"/>
<rect x="645.60" y="371.00" width="10.30" height="1.30" fill="rgb(229, 209, 203)"/>
<rect x="645.60" y="372.00" width="10.30" height="1.30" fill="rgb(238, 166, 145)"/>
<rect x="645.60" y="373.00" width="10.30" height="1.30" fill="rgb(242, 182, 160)"/>
<rect x="645.60" y="374.00" width="10.30" height="1.30" fill="rgb(240, 175, 153)"/>
<rect x="645.60" y="375.00" width="10.30" height="1.30" fill="rgb(230, 206, 200)"/>
<rect x="645.60" y="376.00" width="10.30" height="1.30" fill="rgb(231, 206, 198)"/>
<rect x="645.60" y="377.00" width="10.30" height="1.30" fill="rgb(235, 199, 186)"/>
<rect x="645.60" y="378.00" width="10.30" height="1.30" fill="rgb(191, 205, 240)"/>
<rect x="645.60" y="379.00" width="10.30" height="1.30" fill="rgb(210, 215, 231)"/>
<rect x="645.60" y="380.00" width="10.30" height="1.30" fill="rgb(192, 206, 239)"/>
<rect x="645.60" y="381.00" width="10.30" height="1.30" fill="rgb(201, 210, 235)"/>
<rect x="645.60" y="382.00" width="10.30" height="1.30" fill="rgb(227, 213, 210)"/>
<rect x="645.60" y="383.00" width="10.30" height="1.30" fill="rgb(235, 198, 186)"/>
<rect x="645.60" y="384.00" width="10.30" height="1.30" fill="rgb(230, 130, 110)"/>
<rect x="645.60" y="385.00" width="10.30" height="1.30" fill="rgb(218, 104, 94)"/>
<rect x="645.60" y="386.00" width="10.30" height="1.30" fill="rgb(220, 108, 96)"/>
<rect x="645.60" y="387.00" width="10.30" height="1.30" fill="rgb(237, 161, 140)"/>
<rect x="645.60" y="388.00" width="10.30" height="1.30" fill="rgb(237, 163, 142)"/>
<rect x="645.60" y="389.00" width="10.30" height="1.30" fill="rgb(238, 165, 144)"/>
<rect x="645.60" y="390.00" width="10.30" height="1.30" fill="rgb(220, 221, 226)"/>
<rect x="645.60" y="391.00" width="10.30" height="1.30" fill="rgb(228, 210, 206)"/>
<rect x="645.60" y="392.00" width="10.30" height="1.30" fill="rgb(219, 220, 227)"/>
<rect x="645.60" y="393.00" width="10.30" height="1.30" fill="rgb(232, 204, 195)"/>
<rect x="645.60" y="394.00" width="10.30" height="1.30" fill="rgb(230, 206, 199)"/>
<rect x="645.60" y="395.00" width="10.30" height="1.30" fill="rgb(232, 203, 193)"/>
<rect x="645.60" y="396.00" width="10.30" height="0.60" fill="rgb(229, 209, 204)"/>
<rect x="655.90" y="222.50" width="10.30" height="1.30" fill="rgb(149, 172, 236)"/>
<rect x="655.90" y="223.50" width="10.30" height="0.80" fill="rgb(160, 182, 238)"/>
<rect x="655.90" y="224.00" width="10.30" height="1.30" fill="rgb(192, 206, 239)"/>
<rect x="655.90" y="225.00" width="10.30" height="1.30" fill="rgb(198, 209, 236)"/>
<rect x="655.90" y="226.00" width="10.30" height="1.30" fill="rgb(92, 119, 221)"/>
<rect x="655.90" y="227.00" width="10.30" height="1.30" fill="rgb(111, 141, 230)"/>
<rect x="655.90" y="228.00" width="10.30" height="1.30" fill="rgb(96, 124, 223)"/>
<rect x="655.90" y="229.00" width="10.30" height="1.30" fill="rgb(115, 144, 231)"/>
<rect x="655.90" y="230.00" width="10.30" height="1.30" fill="rgb(234, 201, 190)"/>
<rect x="655.90" y="231.00" width="10.30" height="1.30" fill="rgb(231, 204, 196)"/>
<rect x="655.90" y="232.00" width="10.30" height="1.30" fill="rgb(106, 136, 228)"/>
<rect x="655.90" y="233.00" width="10.30" height="1.30" fill="rgb(109, 138, 229)"/>
<rect x="655.90" y="234.00" width="10.30" height="1.30" fill="rgb(113, 142, 230)"/>
<rect x="655.90" y="235.00" width="10.30" height="1.30" fill="rgb(111, 141, 230)"/>
<rect x="655.90" y="236.00" width="10.30" height="1.30" fill="rgb(208, 214, 232)"/>
<rect x="655.90" y="237.00" width="10.30" height="1.30" fill="rgb(196, 208, 237)"/>
<rect x="655.90" y="238.00" width="10.30" height="1.30" fill="rgb(235, 198, 185)"/>
<rect x="655.90" y="239.00" width="10.30" height="1.30" fill="rgb(232, 204, 196)"/>
<rect x="655.90" y="240.00" width="10.30" height="1.30" fill="rgb(198, 209, 236)"/>
<rect x="655.90" y="241.00" width="10.30" height="1.30" fill="rgb(203, 212, 234)"/>
<rect x="655.90" y="242.00" width="10.30" height="1.30" fill="rgb(146, 169, 236)"/>
<rect x="655.90" y="243.00" width="10.30" height="1.30" fill="rgb(170, 190, 240)"/>
<rect x="655.90" y="244.00" width="10.30" height="1.30" fill="rgb(183, 200, 242)"/>
<rect x="655.90" y="245.00" width="10.30" height="1.30" fill="rgb(199, 209, 236)"/>
<rect x="655.90" y="246.00" width="10.30" height="1.30" fill="rgb(194, 206, 238)"/>
<rect x="655.90" y="247.00" width="10.30" height="1.30" fill="rgb(204, 212, 234)"/>
<rect x="655.90" y="248.00" width="10.30" height="1.30" fill="rgb(233, 203, 193)"/>
<rect x="655.90" y="249.00" width="10.30" height="1.30" fill="rgb(235, 198, 184)"/>
<rect x="655.90" y="250.00" width="10.30" height="1.30" fill="rgb(236, 158, 137)"/>
<rect x="655.90" y="251.00" width="10.30" height="1.30" fill="rgb(242, 183, 161)"/>
<rect x="655.90" y="252.00" width="10.30" height="1.30" fill="rgb(205, 212, 233)"/>
<rect x="655.90" y="253.00" width="10.30" height="1.30" fill="rgb(194, 207, 238)"/>
<rect x="655.90" y="254.00" width="10.30" height="1.30" fill="rgb(240, 175, 154)"/>
<rect x="655.90" y="255.00" width="10.30" height="1.30" fill="rgb(237, 163, 142)"/>
<rect x="655.90" y="256.00" width="10.30" height="1.30" fill="rgb(241, 180, 158)"/>
<rect x="655.90" y="257.00" width="10.30" height="1.30" fill="rgb(240, 175, 154)"/>
<rect x="655.90" y="258.00" width="10.30" height="1.30" fill="rgb(200, 210, 235)"/>
<rect x="655.90" y="259.00" width="10.30" height="1.30" fill="rgb(205, 212, 233)"/>
<rect x="655.90" y="260.00" width="10.30" height="1.30" fill="rgb(205, 213, 233)"/>
<rect x="655.90" y="261.00" width="10.30" height="1.30" fill="rgb(206, 213, 233)"/>
<rect x="655.90" y="262.00" width="10.30" height="1.30" fill="rgb(192, 206, 239)"/>
<rect x="655.90" y="263.00" width="10.30" height="1.30" fill="rgb(191, 205, 240)"/>
<rect x="655.90" y="264.00" width="10.30" height="1.30" fill="rgb(205, 213, 233)"/>
<rect x="655.90" y="265.00" width="10.30" height="1.30" fill="rgb(198, 209, 236)"/>
<rect x="655.90" y="266.00" width="10.30" height="1.30" fill="rgb(229, 208, 203)"/>
<rect x="655.90" y="267.00" width="10.30" height="1.30" fill="rgb(234, 200, 188)"/>
<rect x="655.90" y="268.00" width="10.30" height="1.30" fill="rgb(191, 205, 240)"/>
<rect x="655.90" y="269.00" width="10.30" height="1.30" fill="rgb(190, 204, 240)"/>
<rect x="655.90" y="270.00" width="10.30" height="1.30" fill="rgb(202, 211, 234)"/>
<rect x="655.90" y="271.00" width="10.30" height="1.30" fill="rgb(154, 176, 237)"/>
<rect x="655.90" y="272.00" width="10.30" height="1.30" fill="rgb(208, 214, 232)"/>
<rect x="655.90" y="273.00" width="10.30" height="1.30" fill="rgb(217, 219, 228)"/>
<rect x="655.90" y="274.00" width="10.30" height="1.30" fill="rgb(228, 210, 206)"/>
<rect x="655.90" y="275.00" width="10.30" height="1.30" fill="rgb(128, 155, 233)"/>
<rect x="655.90" y="276.00" width="10.30" height="1.30" fill="rgb(94, 122, 222)"/>
<rect x="655.90" y="277.00" width="10.30" height="1.30" fill="rgb(104, 133, 227)"/>
<rect x="655.90" y="278.00" width="10.30" height="1.30" fill="rgb(224, 217, 218)"/>
<rect x="655.90" y="279.00" width="10.30" height="1.30" fill="rgb(222, 220, 223)"/>
<rect x="655.90" y="280.00" width="10.30" height="1.30" fill="rgb(242, 185, 163)"/>
<rect x="655.90" y="281.00" width="10.30" height="1.30" fill="rgb(237, 160, 139)"/>
<rect x="655.90" y="282.00" width="10.30" height="1.30" fill="rgb(238, 166, 145)"/>
<rect x="655.90" y="283.00" width="10.30" height="1.30" fill="rgb(239, 171, 150)"/>
<rect x="655.90" y="284.00" width="10.30" height="1.30" fill="rgb(186, 202, 242)"/>
<rect x="655.90" y="285.00" width="10.30" height="1.30" fill="rgb(192, 205, 239)"/>
<rect x="655.90" y="286.00" width="10.30" height="1.30" fill="rgb(96, 124, 223)"/>
<rect x="655.90" y="287.00" width="10.30" height="1.30" fill="rgb(220, 221, 226)"/>
<rect x="655.90" y="288.00" width="10.30" height="1.30" fill="rgb(222, 220, 224)"/>
<rect x="655.90" y="289.00" width="10.30" height="1.30" fill="rgb(219, 220, 227)"/>
<rect x="655.90" y="290.00" width="10.30" height="1.30" fill="rgb(235, 198, 185)"/>
<rect x="655.90" y="291.00" width="10.30" height="1.30" fill="rgb(234, 200, 189)"/>
<rect x="655.90" y="292.00" width="10.30" height="1.30" fill="rgb(228, 210, 206)"/>
<rect x="655.90" y="293.00" width="10.30" height="1.30" fill="rgb(91, 118, 220)"/>
<rect x="655.90" y="294.00" width="10.30" height="1.30" fill="rgb(223, 219, 222)"/>
<rect x="655.90" y="295.00" width="10.30" height="1.30" fill="rgb(218, 220, 227)"/>
<rect x="655.90" y="296.00" width="10.30" height="1.30" fill="rgb(226, 214, 212)"/>
<rect x="655.90" y="297.00" width="10.30" height="1.30" fill="rgb(240, 174, 152)"/>
<rect x="655.90" y="298.00" width="10.30" height="1.30" fill="rgb(238, 167, 146)"/>
<rect x="655.90" y="299.00" width="10.30" height="1.30" fill="rgb(237, 164, 142)"/>
<rect x="655.90" y="300.00" width="10.30" height="1.30" fill="rgb(86, 112, 218)"/>
<rect x="655.90" y="301.00" width="10.30" height="1.30" fill="rgb(109, 139, 229)"/>
<rect x="655.90" y="302.00" width="10.30" height="1.30" fill="rgb(151, 174, 237)"/>
<rect x="655.90" y="303.00" width="10.30" height="1.30" fill="rgb(145, 169, 236)"/>
<rect x="655.90" y="304.00" width="10.30" height="1.30" fill="rgb(146, 169, 236)"/>
<rect x="655.90" y="305.00" width="10.30" height="1.30" fill="rgb(185, 202, 242)"/>
<rect x="655.90" y="306.00" width="10.30" height="1.30" fill="rgb(187, 203, 241)"/>
<rect x="655.90" y="307.00" width="10.30" height="1.30" fill="rgb(172, 191, 240)"/>
<rect x="655.90" y="308.00" width="10.30" height="1.30" fill="rgb(239, 170, 149)"/>
<rect x="655.90" y="309.00" width="10.30" height="1.30" fill="rgb(239, 172, 150)"/>
<rect x="655.90" y="310.00" width="10.30" height="1.30" fill="rgb(238, 167, 146)"/>
<rect x="655.90" y="311.00" width="10.30" height="1.30" fill="rgb(237, 164, 143)"/>
<rect x="655.90" y="312.00" width="10.30" height="1.30" fill="rgb(89, 116, 219)"/>
<rect x="655.90" y="313.00" width="10.30" height="1.30" fill="rgb(95, 123, 222)"/>
<rect x="655.90" y="314.00" width="10.30" height="1.30" fill="rgb(100, 128, 225)"/>
<rect x="655.90" y="315.00" width="10.30" height="1.30" fill="rgb(201, 211, 235)"/>
<rect x="655.90" y="316.00" width="10.30" height="1.30" fill="rgb(197, 208, 237)"/>
<rect x="655.90" y="317.00" width="10.30" height="1.30" fill="rgb(237, 194, 178)"/>
<rect x="655.90" y="318.00" width="10.30" height="1.30" fill="rgb(231, 205, 197)"/>
<rect x="655.90" y="319.00" width="10.30" height="1.30" fill="rgb(231, 206, 198)"/>
<rect x="655.90" y="320.00" width="10.30" height="1.30" fill="rgb(194, 207, 238)"/>
<rect x="655.90" y="321.00" width="10.30" height="1.30" fill="rgb(202, 211, 234)"/>
<rect x="655.90" y="322.00" width="10.30" height="1.30" fill="rgb(207, 213, 232)"/>
<rect x="655.90" y="323.00" width="10.30" height="1.30" fill="rgb(201, 211, 235)"/>
<rect x="655.90" y="324.00" width="10.30" height="1.30" fill="rgb(194, 207, 238)"/>
<rect x="655.90" y="325.00" width="10.30" height="1.30" fill="rgb(190, 204, 240)"/>
<rect x="655.90" y="326.00" width="10.30" height="1.30" fill="rgb(192, 205, 239)"/>
<rect x="655.90" y="327.00" width="10.30" height="1.30" fill="rgb(193, 206, 239)"/>
<rect x="655.90" y="328.00" width="10.30" height="1.30" fill="rgb(195, 207, 238)"/>
<rect x="655.90" y="329.00" width="10.30" height="1.30" fill="rgb(202, 211, 235)"/>
<rect x="655.90" y="330.00" width="10.30" height="1.30" fill="rgb(223, 219, 221)"/>
<rect x="655.90" y="331.00" width="10.30" height="1.30" fill="rgb(224, 216, 217)"/>
<rect x="655.90" y="332.00" width="10.30" height="1.30" fill="rgb(108, 138, 229)"/>
<rect x="655.90" y="333.00" width="10.30" height="1.30" fill="rgb(93, 120, 221)"/>
<rect x="655.90" y="334.00" width="10.30" height="1.30" fill="rgb(110, 140, 230)"/>
<rect x="655.90" y="335.00" width="10.30" height="1.30" fill="rgb(232, 203, 194)"/>
<rect x="655.90" y="336.00" width="10.30" height="1.30" fill="rgb(227, 211, 208)"/>
<rect x="655.90" y="337.00" width="10.30" height="1.30" fill="rgb(230, 207, 201)"/>
<rect x="655.90" y="338.00" width="10.30" height="1.30" fill="rgb(221, 221, 226)"/>
<rect x="655.90" y="339.00" width="10.30" height="1.30" fill="rgb(212, 216, 230)"/>
<rect x="655.90" y="340.00" width="10.30" height="1.30" fill="rgb(229, 208, 203)"/>
<rect x="655.90" y="341.00" width="10.30" height="1.30" fill="rgb(232, 204, 195)"/>
<rect x="655.90" y="342.00" width="10.30" height="1.30" fill="rgb(235, 199, 186)"/>
<rect x="655.90" y="343.00" width="10.30" height="1.30" fill="rgb(228, 211, 207)"/>
<rect x="655.90" y="344.00" width="10.30" height="1.30" fill="rgb(98, 126, 224)"/>
<rect x="655.90" y="345.00" width="10.30" height="1.30" fill="rgb(100, 128, 225)"/>
<rect x="655.90" y="346.00" width="10.30" height="1.30" fill="rgb(191, 205, 240)"/>
<rect x="655.90" y="347.00" width="10.30" height="1.30" fill="rgb(197, 208, 237)"/>
<rect x="655.90" y="348.00" width="10.30" height="1.30" fill="rgb(195, 207, 238)"/>
<rect x="655.90" y="349.00" width="10.30" height="1.30" fill="rgb(198, 209, 237)"/>
<rect x="655.90" y="350.00" width="10.30" height="1.30" fill="rgb(235, 152, 131)"/>
<rect x="655.90" y="351.00" width="10.30" height="1.30" fill="rgb(231, 136, 116)"/>
<rect x="655.90" y="352.00" width="10.30" height="1.30" fill="rgb(233, 144, 123)"/>
<rect x="655.90" y="353.00" width="10.30" height="1.30" fill="rgb(234, 149, 128)"/>
<rect x="655.90" y="354.00" width="10.30" height="1.30" fill="rgb(241, 188, 167)"/>
<rect x="655.90" y="355.00" width="10.30" height="1.30" fill="rgb(239, 171, 149)"/>
<rect x="655.90" y="356.00" width="10.30" height="1.30" fill="rgb(239, 172, 151)"/>
<rect x="655.90" y="357.00" width="10.30" height="1.30" fill="rgb(229, 208, 202)"/>
<rect x="655.90" y="358.00" width="10.30" height="1.30" fill="rgb(214, 217, 229)"/>
<rect x="655.90" y="359.00" width="10.30" height="1.30" fill="rgb(172, 191, 240)"/>
<rect x="655.90" y="360.00" width="10.30" height="1.30" fill="rgb(236, 158, 137)"/>
<rect x="655.90" y="361.00" width="10.30" height="1.30" fill="rgb(238, 165, 144)"/>
<rect x="655.90" y="362.00" width="10.30" height="1.30" fill="rgb(238, 167, 146)"/>
<rect x="655.90" y="363.00" width="10.30" height="1.30" fill="rgb(238, 165, 143)"/>
<rect x="655.90" y="364.00" width="10.30" height="1.30" fill="rgb(242, 182, 161)"/>
<rect x="655.90" y="365.00" width="10.30" height="1.30" fill="rgb(226, 214, 212)"/>
<rect x="655.90" y="366.00" width="10.30" height="1.30" fill="rgb(219, 220, 227)"/>
<rect x="655.90" y="367.00" width="10.30" height="1.30" fill="rgb(90, 117, 220)"/>
<rect x="655.90" y="368.00" width="10.30" height="1.30" fill="rgb(97, 125, 223)"/>
<rect x="655.90" y="369.00" width="10.30" height="1.30" fill="rgb(71, 94, 210)"/>
<rect x="655.90" y="370.00" width="10.30" height="1.30" fill="rgb(227, 211, 208)"/>
<rect x="655.90" y="371.00" width="10.30" height="1.30" fill="rgb(228, 211, 207)"/>
<rect x="655.90" y="372.00" width="10.30" height="1.30" fill="rgb(227, 213, 211)"/>
<rect x="655.90" y="373.00" width="10.30" height="1.30" fill="rgb(199, 209, 236)"/>
<rect x="655.90" y="374.00" width="10.30" height="1.30" fill="rgb(205, 212, 233)"/>
<rect x="655.90" y="375.00" width="10.30" height="1.30" fill="rgb(195, 207, 238)"/>
<rect x="655.90" y="376.00" width="10.30" height="1.30" fill="rgb(94, 121, 222)"/>
<rect x="655.90" y="377.00" width="10.30" height="1.30" fill="rgb(100, 128, 225)"/>
<rect x="655.90" y="378.00" width="10.30" height="1.30" fill="rgb(92, 119, 221)"/>
<rect x="655.90" y="379.00" width="10.30" height="1.30" fill="rgb(98, 126, 224)"/>
<rect x="655.90" y="380.00" width="10.30" height="1.30" fill="rgb(223, 219, 222)"/>
<rect x="655.90" y="381.00" width="10.30" height="1.30" fill="rgb(220, 221, 226)"/>
<rect x="655.90" y="382.00" width="10.30" height="1.30" fill="rgb(219, 220, 227)"/>
<rect x="655.90" y="383.00" width="10.30" height="1.30" fill="rgb(219, 107, 95)"/>
<rect x="655.90" y="384.00" width="10.30" height="1.30" fill="rgb(220, 108, 96)"/>
<rect x="655.90" y="385.00" width="10.30" height="1.30" fill="rgb(215, 97, 89)"/>
<rect x="655.90" y="386.00" width="10.30" height="1.30" fill="rgb(235, 155, 134)"/>
<rect x="655.90" y="387.00" width="10.30" height="1.30" fill="rgb(235, 151, 131)"/>
<rect x="655.90" y="388.00" width="10.30" height="1.30" fill="rgb(233, 146, 125)"/>
<rect x="655.90" y="389.00" width="10.30" height="1.30" fill="rgb(102, 130, 226)"/>
<rect x="655.90" y="390.00" width="10.30" height="1.30" fill="rgb(84, 110, 217)"/>
<rect x="655.90" y="391.00" width="10.30" height="1.30" fill="rgb(225, 215, 214)"/>
<rect x="655.90" y="392.00" width="10.30" height="1.30" fill="rgb(226, 214, 212)"/>
<rect x="655.90" y="393.00" width="10.30" height="1.30" fill="rgb(145, 169, 236)"/>
<rect x="655.90" y="394.00" width="10.30" height="1.30" fill="rgb(167, 187, 239)"/>
<rect x="655.90" y="395.00" width="10.30" height="1.30" fill="rgb(129, 155, 233)"/>
<rect x="655.90" y="396.00" width="10.30" height="0.60" fill="rgb(152, 175, 237)"/>
<rect x="645.6" y="222.5" width="20.6" height="173.80" fill="none" stroke="#111" stroke-width="1"/>
<text x="547" y="268" font-size="9.2">Trajectory</text>
<text x="547" y="279.4" font-size="9.2">snapshots</text>
<defs><linearGradient id="cb" x1="0" y1="0" x2="0" y2="1"><stop offset="0" stop-color="#3b4cc0"/><stop offset="0.3" stop-color="#9db4f0"/><stop offset="0.45" stop-color="#dcdde6"/><stop offset="0.6" stop-color="#f1c7b5"/><stop offset="0.8" stop-color="#e8826a"/><stop offset="1" stop-color="#b40426"/></linearGradient></defs>
<rect x="560" y="312" width="5.2" height="61" fill="url(#cb)"/>
<line x1="565.2" y1="312.3" x2="567.2" y2="312.3" stroke="#333" stroke-width="0.7"/>
<text x="568.4" y="315.6" font-size="9.2">0</text>
<line x1="565.2" y1="332.4" x2="567.2" y2="332.4" stroke="#333" stroke-width="0.7"/>
<text x="568.4" y="335.7" font-size="9.2">1</text>
<line x1="565.2" y1="352.5" x2="567.2" y2="352.5" stroke="#333" stroke-width="0.7"/>
<text x="568.4" y="355.8" font-size="9.2">2</text>
<line x1="565.2" y1="372.6" x2="567.2" y2="372.6" stroke="#333" stroke-width="0.7"/>
<text x="568.4" y="375.9" font-size="9.2">3</text>
<text x="547" y="383.8" font-size="9.2">Bottleneck</text>
<text x="547" y="395.2" font-size="9.2">Radius (Å)</text>
</svg>
</body></html>
